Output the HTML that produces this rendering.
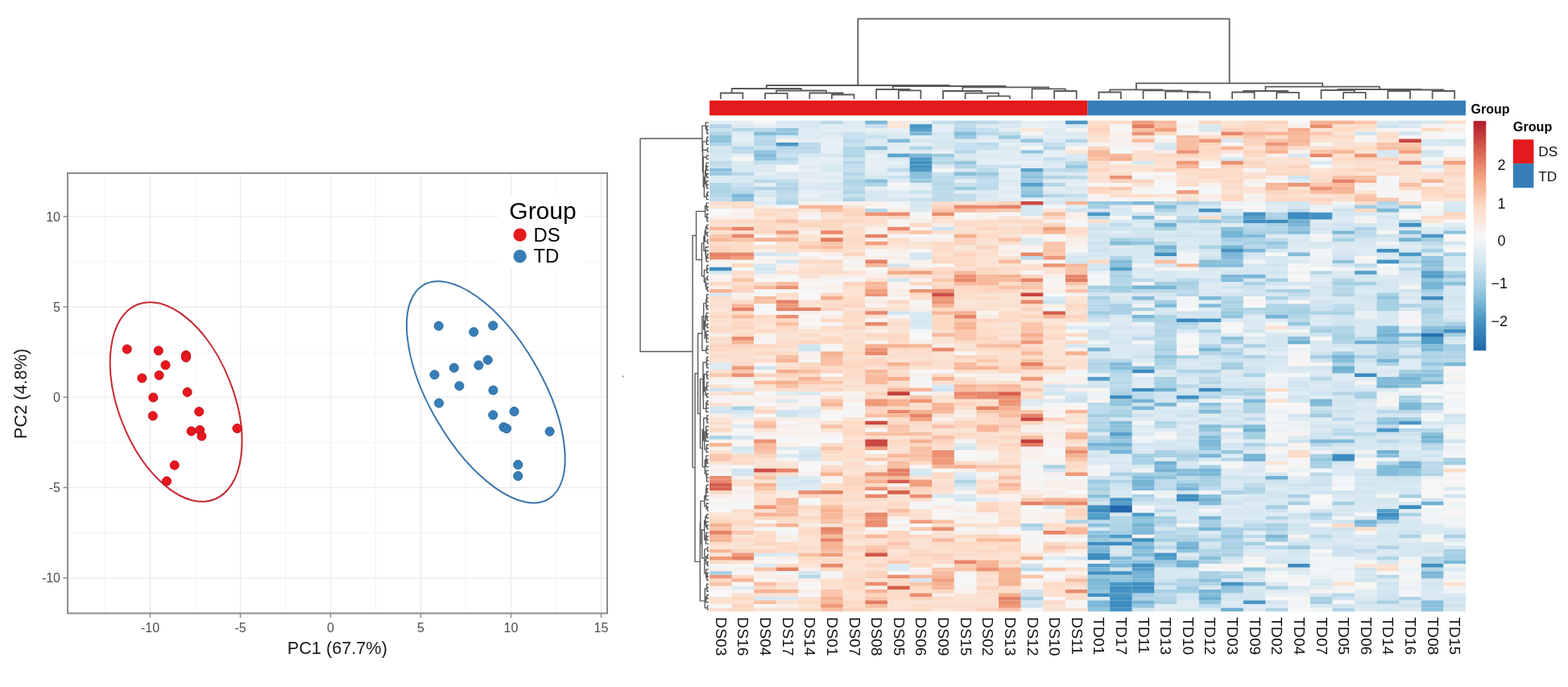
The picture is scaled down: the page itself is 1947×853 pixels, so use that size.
<!DOCTYPE html><html><head><meta charset="utf-8"><style>html,body{margin:0;padding:0;background:#fff;}svg{display:block;}text{font-family:'Liberation Sans', Arial, Helvetica, sans-serif;}</style></head><body><svg width="1947" height="853" viewBox="0 0 1947 853"><rect width="1947" height="853" fill="#fff"/><line x1="130.5" y1="215" x2="130.5" y2="761.5" stroke="#f4f4f4" stroke-width="1"/><line x1="242.5" y1="215" x2="242.5" y2="761.5" stroke="#f4f4f4" stroke-width="1"/><line x1="354.5" y1="215" x2="354.5" y2="761.5" stroke="#f4f4f4" stroke-width="1"/><line x1="466.5" y1="215" x2="466.5" y2="761.5" stroke="#f4f4f4" stroke-width="1"/><line x1="578.5" y1="215" x2="578.5" y2="761.5" stroke="#f4f4f4" stroke-width="1"/><line x1="690.5" y1="215" x2="690.5" y2="761.5" stroke="#f4f4f4" stroke-width="1"/><line x1="84" y1="661.5" x2="754" y2="661.5" stroke="#f4f4f4" stroke-width="1"/><line x1="84" y1="549.3" x2="754" y2="549.3" stroke="#f4f4f4" stroke-width="1"/><line x1="84" y1="437.1" x2="754" y2="437.1" stroke="#f4f4f4" stroke-width="1"/><line x1="84" y1="324.9" x2="754" y2="324.9" stroke="#f4f4f4" stroke-width="1"/><line x1="186.5" y1="215" x2="186.5" y2="761.5" stroke="#ebebeb" stroke-width="1.3"/><line x1="298.5" y1="215" x2="298.5" y2="761.5" stroke="#ebebeb" stroke-width="1.3"/><line x1="410.5" y1="215" x2="410.5" y2="761.5" stroke="#ebebeb" stroke-width="1.3"/><line x1="522.5" y1="215" x2="522.5" y2="761.5" stroke="#ebebeb" stroke-width="1.3"/><line x1="634.5" y1="215" x2="634.5" y2="761.5" stroke="#ebebeb" stroke-width="1.3"/><line x1="746.5" y1="215" x2="746.5" y2="761.5" stroke="#ebebeb" stroke-width="1.3"/><line x1="84" y1="717.6" x2="754" y2="717.6" stroke="#ebebeb" stroke-width="1.3"/><line x1="84" y1="605.4" x2="754" y2="605.4" stroke="#ebebeb" stroke-width="1.3"/><line x1="84" y1="493.2" x2="754" y2="493.2" stroke="#ebebeb" stroke-width="1.3"/><line x1="84" y1="381.0" x2="754" y2="381.0" stroke="#ebebeb" stroke-width="1.3"/><line x1="84" y1="268.8" x2="754" y2="268.8" stroke="#ebebeb" stroke-width="1.3"/><ellipse cx="218.6" cy="499.0" rx="130.1" ry="71.5" transform="rotate(68.5 218.6 499.0)" fill="none" stroke="#c62a37" stroke-width="2"/><ellipse cx="603.3" cy="486.8" rx="153.9" ry="70.2" transform="rotate(59.8 603.3 486.8)" fill="none" stroke="#3a75aa" stroke-width="2"/><circle cx="157.7" cy="433.5" r="5.55" fill="#e8161d" stroke="#b9171d" stroke-width="1"/><circle cx="196.8" cy="435.4" r="5.55" fill="#e8161d" stroke="#b9171d" stroke-width="1"/><circle cx="231.0" cy="441.0" r="5.55" fill="#e8161d" stroke="#b9171d" stroke-width="1"/><circle cx="231.0" cy="443.8" r="5.55" fill="#e8161d" stroke="#b9171d" stroke-width="1"/><circle cx="205.5" cy="453.3" r="5.55" fill="#e8161d" stroke="#b9171d" stroke-width="1"/><circle cx="197.6" cy="466" r="5.55" fill="#e8161d" stroke="#b9171d" stroke-width="1"/><circle cx="176.4" cy="469.5" r="5.55" fill="#e8161d" stroke="#b9171d" stroke-width="1"/><circle cx="232.6" cy="486.9" r="5.55" fill="#e8161d" stroke="#b9171d" stroke-width="1"/><circle cx="190.3" cy="493.5" r="5.55" fill="#e8161d" stroke="#b9171d" stroke-width="1"/><circle cx="189.8" cy="516.4" r="5.55" fill="#e8161d" stroke="#b9171d" stroke-width="1"/><circle cx="247.2" cy="511.1" r="5.55" fill="#e8161d" stroke="#b9171d" stroke-width="1"/><circle cx="237.6" cy="535.4" r="5.55" fill="#e8161d" stroke="#b9171d" stroke-width="1"/><circle cx="248.1" cy="534" r="5.55" fill="#e8161d" stroke="#b9171d" stroke-width="1"/><circle cx="250.4" cy="541.5" r="5.55" fill="#e8161d" stroke="#b9171d" stroke-width="1"/><circle cx="294.4" cy="531.9" r="5.55" fill="#e8161d" stroke="#b9171d" stroke-width="1"/><circle cx="216.7" cy="577.6" r="5.55" fill="#e8161d" stroke="#b9171d" stroke-width="1"/><circle cx="207" cy="597.4" r="5.55" fill="#e8161d" stroke="#b9171d" stroke-width="1"/><circle cx="544.7" cy="404.7" r="5.55" fill="#377eb8" stroke="#2d6aa0" stroke-width="1"/><circle cx="588.2" cy="412.2" r="5.55" fill="#377eb8" stroke="#2d6aa0" stroke-width="1"/><circle cx="612.2" cy="404.3" r="5.55" fill="#377eb8" stroke="#2d6aa0" stroke-width="1"/><circle cx="605.7" cy="446.9" r="5.55" fill="#377eb8" stroke="#2d6aa0" stroke-width="1"/><circle cx="594.4" cy="453.5" r="5.55" fill="#377eb8" stroke="#2d6aa0" stroke-width="1"/><circle cx="563.8" cy="456.7" r="5.55" fill="#377eb8" stroke="#2d6aa0" stroke-width="1"/><circle cx="539.5" cy="465.3" r="5.55" fill="#377eb8" stroke="#2d6aa0" stroke-width="1"/><circle cx="570.4" cy="479.2" r="5.55" fill="#377eb8" stroke="#2d6aa0" stroke-width="1"/><circle cx="612.4" cy="484.5" r="5.55" fill="#377eb8" stroke="#2d6aa0" stroke-width="1"/><circle cx="545.0" cy="500.5" r="5.55" fill="#377eb8" stroke="#2d6aa0" stroke-width="1"/><circle cx="612.2" cy="515.3" r="5.55" fill="#377eb8" stroke="#2d6aa0" stroke-width="1"/><circle cx="638.5" cy="510.9" r="5.55" fill="#377eb8" stroke="#2d6aa0" stroke-width="1"/><circle cx="625.4" cy="530.3" r="5.55" fill="#377eb8" stroke="#2d6aa0" stroke-width="1"/><circle cx="629.1" cy="532.1" r="5.55" fill="#377eb8" stroke="#2d6aa0" stroke-width="1"/><circle cx="682.6" cy="535.7" r="5.55" fill="#377eb8" stroke="#2d6aa0" stroke-width="1"/><circle cx="643.2" cy="577" r="5.55" fill="#377eb8" stroke="#2d6aa0" stroke-width="1"/><circle cx="643.2" cy="591" r="5.55" fill="#377eb8" stroke="#2d6aa0" stroke-width="1"/><rect x="84" y="215" width="670" height="546.5" fill="none" stroke="#8c8c8c" stroke-width="2"/><line x1="78.5" y1="717.6" x2="84" y2="717.6" stroke="#8c8c8c" stroke-width="1.5"/><text x="75" y="723.4" font-size="16" fill="#4d4d4d" text-anchor="end">-10</text><line x1="78.5" y1="605.4" x2="84" y2="605.4" stroke="#8c8c8c" stroke-width="1.5"/><text x="75" y="611.2" font-size="16" fill="#4d4d4d" text-anchor="end">-5</text><line x1="78.5" y1="493.2" x2="84" y2="493.2" stroke="#8c8c8c" stroke-width="1.5"/><text x="75" y="499.0" font-size="16" fill="#4d4d4d" text-anchor="end">0</text><line x1="78.5" y1="381.0" x2="84" y2="381.0" stroke="#8c8c8c" stroke-width="1.5"/><text x="75" y="386.8" font-size="16" fill="#4d4d4d" text-anchor="end">5</text><line x1="78.5" y1="268.8" x2="84" y2="268.8" stroke="#8c8c8c" stroke-width="1.5"/><text x="75" y="274.6" font-size="16" fill="#4d4d4d" text-anchor="end">10</text><line x1="186.5" y1="761.5" x2="186.5" y2="767.0" stroke="#8c8c8c" stroke-width="1.5"/><text x="186.5" y="784.5" font-size="16" fill="#4d4d4d" text-anchor="middle">-10</text><line x1="298.5" y1="761.5" x2="298.5" y2="767.0" stroke="#8c8c8c" stroke-width="1.5"/><text x="298.5" y="784.5" font-size="16" fill="#4d4d4d" text-anchor="middle">-5</text><line x1="410.5" y1="761.5" x2="410.5" y2="767.0" stroke="#8c8c8c" stroke-width="1.5"/><text x="410.5" y="784.5" font-size="16" fill="#4d4d4d" text-anchor="middle">0</text><line x1="522.5" y1="761.5" x2="522.5" y2="767.0" stroke="#8c8c8c" stroke-width="1.5"/><text x="522.5" y="784.5" font-size="16" fill="#4d4d4d" text-anchor="middle">5</text><line x1="634.5" y1="761.5" x2="634.5" y2="767.0" stroke="#8c8c8c" stroke-width="1.5"/><text x="634.5" y="784.5" font-size="16" fill="#4d4d4d" text-anchor="middle">10</text><line x1="746.5" y1="761.5" x2="746.5" y2="767.0" stroke="#8c8c8c" stroke-width="1.5"/><text x="746.5" y="784.5" font-size="16" fill="#4d4d4d" text-anchor="middle">15</text><text x="418.8" y="812.3" font-size="21.7" fill="#1a1a1a" text-anchor="middle">PC1 (67.7%)</text><text transform="translate(33.2 488.9) rotate(-90)" font-size="21.7" fill="#1a1a1a" text-anchor="middle">PC2 (4.8%)</text><rect x="618" y="242" width="107" height="92" fill="#fff"/><text x="632.3" y="271.7" font-size="30" fill="#000">Group</text><circle cx="645.6" cy="291.6" r="8.2" fill="#e41a1c"/><circle cx="645.6" cy="318.3" r="8.2" fill="#377eb8"/><text x="662.5" y="299.8" font-size="23.8" fill="#000">DS</text><text x="662.5" y="326.2" font-size="23.8" fill="#000">TD</text><circle cx="773.7" cy="467.5" r="1.3" fill="#b0b0b0"/><defs><filter id="bl" x="0" y="0" width="1" height="1"><feGaussianBlur stdDeviation="0.7"/></filter></defs><g filter="url(#bl)"><rect x="881" y="149.8" width="939" height="609.4" fill="#f0f0f0"/><path fill="#e4eef4" d="M881.0 149.8H908.6V154.3H881.0zM908.6 149.8H936.2V154.3H908.6zM908.6 168.0H936.2V172.5H908.6zM908.6 190.7H936.2V195.3H908.6zM936.2 154.3H963.9V158.9H936.2zM936.2 213.5H963.9V218.0H936.2zM936.2 227.1H963.9V231.7H936.2zM991.5 172.5H1019.1V177.1H991.5zM991.5 222.6H1019.1V227.1H991.5zM991.5 236.2H1019.1V240.8H991.5zM1019.1 186.2H1046.7V190.7H1019.1zM1019.1 213.5H1046.7V218.0H1019.1zM1019.1 222.6H1046.7V227.1H1019.1zM1019.1 236.2H1046.7V240.8H1019.1zM1074.3 195.3H1101.9V199.8H1074.3zM1074.3 204.4H1101.9V213.5H1074.3zM1101.9 181.6H1129.6V190.7H1101.9zM1101.9 199.8H1129.6V204.4H1101.9zM1101.9 213.5H1129.6V218.0H1101.9zM1101.9 240.8H1129.6V245.3H1101.9zM1157.2 154.3H1184.8V163.4H1157.2zM1184.8 222.6H1212.4V227.1H1184.8zM1212.4 172.5H1240.0V177.1H1212.4zM1212.4 186.2H1240.0V190.7H1212.4zM1212.4 199.8H1240.0V204.4H1212.4zM1240.0 158.9H1267.6V163.4H1240.0zM1240.0 177.1H1267.6V181.6H1240.0zM1240.0 218.0H1267.6V222.6H1240.0zM1240.0 231.7H1267.6V236.2H1240.0zM1267.6 204.4H1295.3V208.9H1267.6zM1267.6 245.3H1295.3V249.9H1267.6zM1295.3 149.8H1322.9V154.3H1295.3zM1295.3 168.0H1322.9V172.5H1295.3zM1295.3 186.2H1322.9V190.7H1295.3zM1295.3 231.7H1322.9V236.2H1295.3zM1322.9 227.1H1350.5V231.7H1322.9z"/><path fill="#b4d6e8" d="M881.0 154.3H908.6V158.9H881.0zM881.0 163.4H908.6V168.0H881.0zM881.0 227.1H908.6V231.7H881.0zM881.0 240.8H908.6V245.3H881.0zM908.6 158.9H936.2V163.4H908.6zM908.6 181.6H936.2V186.2H908.6zM908.6 213.5H936.2V218.0H908.6zM908.6 236.2H936.2V240.8H908.6zM936.2 172.5H963.9V181.6H936.2zM963.9 181.6H991.5V186.2H963.9zM963.9 195.3H991.5V199.8H963.9zM963.9 227.1H991.5V231.7H963.9zM991.5 713.7H1019.1V718.3H991.5zM1046.7 181.6H1074.3V190.7H1046.7zM1046.7 199.8H1074.3V204.4H1046.7zM1046.7 213.5H1074.3V218.0H1046.7zM1046.7 227.1H1074.3V231.7H1046.7zM1074.3 258.9H1101.9V263.5H1074.3zM1157.2 199.8H1184.8V204.4H1157.2zM1157.2 227.1H1184.8V231.7H1157.2zM1184.8 149.8H1212.4V154.3H1184.8zM1184.8 158.9H1212.4V163.4H1184.8zM1184.8 186.2H1212.4V190.7H1184.8zM1184.8 204.4H1212.4V208.9H1184.8zM1212.4 218.0H1240.0V222.6H1212.4zM1295.3 181.6H1322.9V186.2H1295.3zM1295.3 227.1H1322.9V231.7H1295.3zM1295.3 240.8H1322.9V245.3H1295.3zM1350.5 377.2H1378.1V381.7H1350.5zM1350.5 454.5H1378.1V459.0H1350.5zM1350.5 527.3H1378.1V531.8H1350.5zM1378.1 336.3H1405.7V340.8H1378.1zM1378.1 345.4H1405.7V349.9H1378.1zM1378.1 472.7H1405.7V477.2H1378.1zM1378.1 481.8H1405.7V486.3H1378.1zM1378.1 595.5H1405.7V600.0H1378.1zM1378.1 641.0H1405.7V650.1H1378.1zM1405.7 691.0H1433.4V695.5H1405.7zM1433.4 249.9H1461.0V254.4H1433.4zM1433.4 399.9H1461.0V404.5H1433.4zM1433.4 413.6H1461.0V418.1H1433.4zM1433.4 422.7H1461.0V427.2H1433.4zM1433.4 436.3H1461.0V440.9H1433.4zM1433.4 659.1H1461.0V663.7H1433.4zM1433.4 722.8H1461.0V727.4H1433.4zM1461.0 363.5H1488.6V368.1H1461.0zM1461.0 495.4H1488.6V500.0H1461.0zM1461.0 722.8H1488.6V727.4H1461.0zM1488.6 436.3H1516.2V440.9H1488.6zM1488.6 472.7H1516.2V477.2H1488.6zM1488.6 686.4H1516.2V691.0H1488.6zM1516.2 299.9H1543.8V304.4H1516.2zM1516.2 368.1H1543.8V372.6H1516.2zM1516.2 486.3H1543.8V490.9H1516.2zM1516.2 568.2H1543.8V572.7H1516.2zM1516.2 681.9H1543.8V686.4H1516.2zM1543.8 281.7H1571.4V286.2H1543.8zM1543.8 481.8H1571.4V486.3H1543.8zM1543.8 609.1H1571.4V613.7H1543.8zM1571.4 281.7H1599.1V286.2H1571.4zM1571.4 677.3H1599.1V681.9H1571.4zM1626.7 336.3H1654.3V340.8H1626.7zM1626.7 404.5H1654.3V409.0H1626.7zM1626.7 550.0H1654.3V554.6H1626.7zM1654.3 345.4H1681.9V349.9H1654.3zM1654.3 409.0H1681.9V413.6H1654.3zM1654.3 486.3H1681.9V490.9H1654.3zM1654.3 536.4H1681.9V540.9H1654.3zM1709.5 436.3H1737.1V440.9H1709.5zM1737.1 331.7H1764.8V336.3H1737.1zM1737.1 531.8H1764.8V536.4H1737.1zM1764.8 363.5H1792.4V368.1H1764.8zM1764.8 377.2H1792.4V381.7H1764.8zM1764.8 436.3H1792.4V440.9H1764.8zM1764.8 445.4H1792.4V450.0H1764.8zM1764.8 504.5H1792.4V509.1H1764.8zM1764.8 550.0H1792.4V554.6H1764.8zM1764.8 704.6H1792.4V709.2H1764.8zM1792.4 436.3H1820.0V440.9H1792.4z"/><path fill="#c8e1ee" d="M881.0 158.9H908.6V163.4H881.0zM881.0 204.4H908.6V208.9H881.0zM908.6 227.1H936.2V231.7H908.6zM936.2 181.6H963.9V186.2H936.2zM963.9 190.7H991.5V195.3H963.9zM1046.7 163.4H1074.3V172.5H1046.7zM1046.7 177.1H1074.3V181.6H1046.7zM1046.7 195.3H1074.3V199.8H1046.7zM1046.7 208.9H1074.3V213.5H1046.7zM1046.7 240.8H1074.3V245.3H1046.7zM1074.3 154.3H1101.9V158.9H1074.3zM1074.3 168.0H1101.9V172.5H1074.3zM1101.9 218.0H1129.6V222.6H1101.9zM1129.6 236.2H1157.2V240.8H1129.6zM1129.6 245.3H1157.2V249.9H1129.6zM1157.2 213.5H1184.8V218.0H1157.2zM1184.8 177.1H1212.4V186.2H1184.8zM1184.8 227.1H1212.4V231.7H1184.8zM1212.4 204.4H1240.0V208.9H1212.4zM1240.0 163.4H1267.6V168.0H1240.0zM1240.0 204.4H1267.6V208.9H1240.0z"/><path fill="#90c4dd" d="M881.0 168.0H908.6V177.1H881.0zM936.2 186.2H963.9V190.7H936.2zM936.2 195.3H963.9V199.8H936.2zM963.9 163.4H991.5V168.0H963.9zM1267.6 186.2H1295.3V190.7H1267.6zM1267.6 236.2H1295.3V240.8H1267.6zM1350.5 554.6H1378.1V559.1H1350.5zM1350.5 659.1H1378.1V663.7H1350.5zM1350.5 754.7H1378.1V759.2H1350.5zM1378.1 500.0H1405.7V504.5H1378.1zM1378.1 531.8H1405.7V536.4H1378.1zM1378.1 718.3H1405.7V722.8H1378.1zM1405.7 299.9H1433.4V304.4H1405.7zM1405.7 645.5H1433.4V650.1H1405.7zM1405.7 681.9H1433.4V686.4H1405.7zM1433.4 309.0H1461.0V313.5H1433.4zM1433.4 440.9H1461.0V445.4H1433.4zM1433.4 590.9H1461.0V595.5H1433.4zM1461.0 681.9H1488.6V686.4H1461.0zM1488.6 531.8H1516.2V536.4H1488.6zM1488.6 745.6H1516.2V750.1H1488.6zM1516.2 322.6H1543.8V327.2H1516.2zM1516.2 390.8H1543.8V395.4H1516.2zM1516.2 727.4H1543.8V731.9H1516.2zM1626.7 568.2H1654.3V572.7H1626.7zM1654.3 322.6H1681.9V327.2H1654.3zM1709.5 368.1H1737.1V372.6H1709.5zM1737.1 254.4H1764.8V258.9H1737.1zM1737.1 581.8H1764.8V590.9H1737.1zM1764.8 318.1H1792.4V322.6H1764.8zM1764.8 345.4H1792.4V349.9H1764.8zM1764.8 754.7H1792.4V759.2H1764.8zM1792.4 340.8H1820.0V345.4H1792.4z"/><path fill="#afd4e6" d="M881.0 177.1H908.6V181.6H881.0zM881.0 231.7H908.6V240.8H881.0zM936.2 231.7H963.9V236.2H936.2zM963.9 231.7H991.5V236.2H963.9zM963.9 249.9H991.5V254.4H963.9zM1046.7 190.7H1074.3V195.3H1046.7zM1046.7 222.6H1074.3V227.1H1046.7zM1046.7 236.2H1074.3V240.8H1046.7zM1046.7 245.3H1074.3V249.9H1046.7zM1074.3 227.1H1101.9V231.7H1074.3zM1129.6 181.6H1157.2V186.2H1129.6zM1184.8 595.5H1212.4V600.0H1184.8zM1295.3 218.0H1322.9V222.6H1295.3zM1322.9 172.5H1350.5V177.1H1322.9zM1350.5 450.0H1378.1V454.5H1350.5zM1350.5 522.7H1378.1V527.3H1350.5zM1350.5 600.0H1378.1V604.6H1350.5zM1378.1 318.1H1405.7V322.6H1378.1zM1378.1 650.1H1405.7V659.1H1378.1zM1378.1 668.2H1405.7V672.8H1378.1zM1405.7 295.3H1433.4V299.9H1405.7zM1405.7 395.4H1433.4V399.9H1405.7zM1405.7 741.0H1433.4V745.6H1405.7zM1433.4 390.8H1461.0V399.9H1433.4zM1433.4 409.0H1461.0V413.6H1433.4zM1433.4 427.2H1461.0V431.8H1433.4zM1433.4 450.0H1461.0V454.5H1433.4zM1433.4 522.7H1461.0V527.3H1433.4zM1433.4 741.0H1461.0V745.6H1433.4zM1461.0 354.4H1488.6V359.0H1461.0zM1461.0 399.9H1488.6V404.5H1461.0zM1461.0 459.0H1488.6V463.6H1461.0zM1461.0 568.2H1488.6V572.7H1461.0zM1461.0 595.5H1488.6V600.0H1461.0zM1461.0 663.7H1488.6V668.2H1461.0zM1461.0 718.3H1488.6V722.8H1461.0zM1488.6 427.2H1516.2V431.8H1488.6zM1488.6 490.9H1516.2V495.4H1488.6zM1488.6 504.5H1516.2V509.1H1488.6zM1488.6 536.4H1516.2V540.9H1488.6zM1488.6 681.9H1516.2V686.4H1488.6zM1488.6 722.8H1516.2V727.4H1488.6zM1516.2 272.6H1543.8V277.1H1516.2zM1516.2 377.2H1543.8V381.7H1516.2zM1516.2 668.2H1543.8V672.8H1516.2zM1543.8 295.3H1571.4V299.9H1543.8zM1543.8 381.7H1571.4V386.3H1543.8zM1543.8 500.0H1571.4V513.6H1543.8zM1543.8 604.6H1571.4V609.1H1543.8zM1543.8 654.6H1571.4V659.1H1543.8zM1571.4 263.5H1599.1V268.0H1571.4zM1571.4 359.0H1599.1V363.5H1571.4zM1571.4 377.2H1599.1V386.3H1571.4zM1571.4 641.0H1599.1V645.5H1571.4zM1571.4 754.7H1599.1V759.2H1571.4zM1599.1 377.2H1626.7V381.7H1599.1zM1599.1 390.8H1626.7V395.4H1599.1zM1654.3 363.5H1681.9V368.1H1654.3zM1654.3 404.5H1681.9V409.0H1654.3zM1654.3 422.7H1681.9V427.2H1654.3zM1654.3 450.0H1681.9V454.5H1654.3zM1654.3 754.7H1681.9V759.2H1654.3zM1709.5 249.9H1737.1V254.4H1709.5zM1709.5 440.9H1737.1V445.4H1709.5zM1709.5 677.3H1737.1V681.9H1709.5zM1709.5 691.0H1737.1V695.5H1709.5zM1737.1 272.6H1764.8V277.1H1737.1zM1737.1 322.6H1764.8V327.2H1737.1zM1737.1 440.9H1764.8V445.4H1737.1zM1737.1 741.0H1764.8V745.6H1737.1zM1764.8 586.4H1792.4V590.9H1764.8zM1764.8 691.0H1792.4V700.1H1764.8zM1792.4 440.9H1820.0V445.4H1792.4z"/><path fill="#d5e7f1" d="M881.0 181.6H908.6V186.2H881.0zM881.0 336.3H908.6V340.8H881.0zM881.0 504.5H908.6V509.1H881.0zM936.2 240.8H963.9V245.3H936.2zM936.2 327.2H963.9V331.7H936.2zM936.2 741.0H963.9V745.6H936.2zM963.9 322.6H991.5V327.2H963.9zM963.9 590.9H991.5V595.5H963.9zM963.9 600.0H991.5V604.6H963.9zM991.5 149.8H1019.1V154.3H991.5zM991.5 190.7H1019.1V195.3H991.5zM991.5 509.1H1019.1V513.6H991.5zM991.5 559.1H1019.1V563.6H991.5zM991.5 568.2H1019.1V572.7H991.5zM1019.1 227.1H1046.7V231.7H1019.1zM1074.3 218.0H1101.9V222.6H1074.3zM1074.3 240.8H1101.9V245.3H1074.3zM1101.9 245.3H1129.6V249.9H1101.9zM1129.6 172.5H1157.2V177.1H1129.6zM1129.6 249.9H1157.2V258.9H1129.6zM1129.6 313.5H1157.2V322.6H1129.6zM1129.6 390.8H1157.2V395.4H1129.6zM1129.6 399.9H1157.2V404.5H1129.6zM1157.2 163.4H1184.8V168.0H1157.2zM1157.2 172.5H1184.8V177.1H1157.2zM1184.8 590.9H1212.4V595.5H1184.8zM1267.6 254.4H1295.3V258.9H1267.6zM1295.3 581.8H1322.9V586.4H1295.3zM1295.3 627.3H1322.9V631.9H1295.3zM1322.9 318.1H1350.5V322.6H1322.9zM1322.9 427.2H1350.5V431.8H1322.9zM1322.9 477.2H1350.5V481.8H1322.9zM1350.5 258.9H1378.1V263.5H1350.5zM1350.5 295.3H1378.1V299.9H1350.5zM1350.5 313.5H1378.1V318.1H1350.5zM1350.5 327.2H1378.1V331.7H1350.5zM1350.5 436.3H1378.1V440.9H1350.5zM1350.5 559.1H1378.1V563.6H1350.5zM1378.1 309.0H1405.7V318.1H1378.1zM1378.1 572.7H1405.7V577.3H1378.1zM1378.1 581.8H1405.7V586.4H1378.1zM1378.1 613.7H1405.7V618.2H1378.1zM1378.1 677.3H1405.7V681.9H1378.1zM1405.7 304.4H1433.4V309.0H1405.7zM1405.7 313.5H1433.4V318.1H1405.7zM1405.7 322.6H1433.4V327.2H1405.7zM1405.7 413.6H1433.4V418.1H1405.7zM1405.7 436.3H1433.4V440.9H1405.7zM1433.4 327.2H1461.0V331.7H1433.4zM1433.4 336.3H1461.0V349.9H1433.4zM1433.4 381.7H1461.0V386.3H1433.4zM1433.4 495.4H1461.0V500.0H1433.4zM1433.4 509.1H1461.0V513.6H1433.4zM1433.4 554.6H1461.0V559.1H1433.4zM1433.4 654.6H1461.0V659.1H1433.4zM1433.4 709.2H1461.0V718.3H1433.4zM1461.0 277.1H1488.6V281.7H1461.0zM1461.0 286.2H1488.6V290.8H1461.0zM1461.0 304.4H1488.6V309.0H1461.0zM1461.0 390.8H1488.6V395.4H1461.0zM1461.0 481.8H1488.6V486.3H1461.0zM1461.0 536.4H1488.6V540.9H1461.0zM1461.0 545.5H1488.6V550.0H1461.0zM1461.0 713.7H1488.6V718.3H1461.0zM1461.0 736.5H1488.6V741.0H1461.0zM1461.0 754.7H1488.6V759.2H1461.0zM1488.6 254.4H1516.2V258.9H1488.6zM1488.6 299.9H1516.2V304.4H1488.6zM1488.6 309.0H1516.2V313.5H1488.6zM1488.6 331.7H1516.2V336.3H1488.6zM1488.6 363.5H1516.2V368.1H1488.6zM1488.6 399.9H1516.2V404.5H1488.6zM1488.6 422.7H1516.2V427.2H1488.6zM1488.6 454.5H1516.2V459.0H1488.6zM1488.6 522.7H1516.2V527.3H1488.6zM1516.2 472.7H1543.8V481.8H1516.2zM1516.2 554.6H1543.8V559.1H1516.2zM1543.8 327.2H1571.4V340.8H1543.8zM1543.8 595.5H1571.4V600.0H1543.8zM1543.8 636.4H1571.4V641.0H1543.8zM1543.8 731.9H1571.4V741.0H1543.8zM1571.4 309.0H1599.1V313.5H1571.4zM1571.4 363.5H1599.1V368.1H1571.4zM1571.4 422.7H1599.1V427.2H1571.4zM1571.4 431.8H1599.1V436.3H1571.4zM1571.4 445.4H1599.1V450.0H1571.4zM1571.4 586.4H1599.1V590.9H1571.4zM1571.4 600.0H1599.1V604.6H1571.4zM1571.4 622.8H1599.1V627.3H1571.4zM1571.4 645.5H1599.1V650.1H1571.4zM1571.4 691.0H1599.1V695.5H1571.4zM1599.1 454.5H1626.7V459.0H1599.1zM1599.1 495.4H1626.7V500.0H1599.1zM1599.1 513.6H1626.7V518.2H1599.1zM1599.1 604.6H1626.7V609.1H1599.1zM1599.1 618.2H1626.7V622.8H1599.1zM1626.7 199.8H1654.3V204.4H1626.7zM1626.7 299.9H1654.3V304.4H1626.7zM1626.7 359.0H1654.3V368.1H1626.7zM1626.7 631.9H1654.3V636.4H1626.7zM1626.7 677.3H1654.3V681.9H1626.7zM1626.7 722.8H1654.3V727.4H1626.7zM1626.7 736.5H1654.3V741.0H1626.7zM1654.3 263.5H1681.9V268.0H1654.3zM1654.3 395.4H1681.9V399.9H1654.3zM1654.3 481.8H1681.9V486.3H1654.3zM1654.3 490.9H1681.9V495.4H1654.3zM1654.3 663.7H1681.9V668.2H1654.3zM1681.9 345.4H1709.5V349.9H1681.9zM1681.9 363.5H1709.5V368.1H1681.9zM1681.9 372.6H1709.5V377.2H1681.9zM1681.9 381.7H1709.5V386.3H1681.9zM1681.9 404.5H1709.5V409.0H1681.9zM1681.9 413.6H1709.5V418.1H1681.9zM1681.9 427.2H1709.5V431.8H1681.9zM1681.9 481.8H1709.5V486.3H1681.9zM1681.9 504.5H1709.5V509.1H1681.9zM1681.9 545.5H1709.5V550.0H1681.9zM1681.9 590.9H1709.5V600.0H1681.9zM1709.5 186.2H1737.1V190.7H1709.5zM1709.5 354.4H1737.1V363.5H1709.5zM1709.5 513.6H1737.1V518.2H1709.5zM1709.5 595.5H1737.1V600.0H1709.5zM1709.5 604.6H1737.1V609.1H1709.5zM1709.5 627.3H1737.1V631.9H1709.5zM1709.5 650.1H1737.1V654.6H1709.5zM1709.5 727.4H1737.1V731.9H1709.5zM1737.1 299.9H1764.8V304.4H1737.1zM1737.1 309.0H1764.8V313.5H1737.1zM1737.1 336.3H1764.8V340.8H1737.1zM1737.1 368.1H1764.8V372.6H1737.1zM1737.1 381.7H1764.8V386.3H1737.1zM1737.1 404.5H1764.8V409.0H1737.1zM1737.1 436.3H1764.8V440.9H1737.1zM1737.1 513.6H1764.8V518.2H1737.1zM1737.1 559.1H1764.8V568.2H1737.1zM1737.1 604.6H1764.8V609.1H1737.1zM1737.1 645.5H1764.8V650.1H1737.1zM1737.1 681.9H1764.8V686.4H1737.1zM1764.8 172.5H1792.4V177.1H1764.8zM1764.8 522.7H1792.4V527.3H1764.8zM1792.4 177.1H1820.0V181.6H1792.4zM1792.4 254.4H1820.0V263.5H1792.4zM1792.4 318.1H1820.0V331.7H1792.4zM1792.4 363.5H1820.0V368.1H1792.4zM1792.4 372.6H1820.0V377.2H1792.4zM1792.4 522.7H1820.0V527.3H1792.4zM1792.4 736.5H1820.0V741.0H1792.4zM1792.4 745.6H1820.0V750.1H1792.4z"/><path fill="#cee3ef" d="M881.0 186.2H908.6V190.7H881.0zM881.0 481.8H908.6V486.3H881.0zM881.0 509.1H908.6V513.6H881.0zM908.6 581.8H936.2V586.4H908.6zM936.2 454.5H963.9V459.0H936.2zM963.9 509.1H991.5V518.2H963.9zM991.5 431.8H1019.1V436.3H991.5zM991.5 563.6H1019.1V568.2H991.5zM1101.9 327.2H1129.6V331.7H1101.9zM1101.9 386.3H1129.6V390.8H1101.9zM1157.2 281.7H1184.8V286.2H1157.2zM1157.2 481.8H1184.8V486.3H1157.2zM1184.8 600.0H1212.4V604.6H1184.8zM1184.8 618.2H1212.4V622.8H1184.8zM1240.0 149.8H1267.6V154.3H1240.0zM1267.6 700.1H1295.3V704.6H1267.6zM1267.6 731.9H1295.3V741.0H1267.6zM1267.6 750.1H1295.3V754.7H1267.6zM1295.3 372.6H1322.9V377.2H1295.3zM1295.3 477.2H1322.9V481.8H1295.3zM1322.9 258.9H1350.5V263.5H1322.9zM1322.9 490.9H1350.5V500.0H1322.9zM1350.5 281.7H1378.1V286.2H1350.5zM1350.5 290.8H1378.1V295.3H1350.5zM1350.5 299.9H1378.1V304.4H1350.5zM1350.5 309.0H1378.1V313.5H1350.5zM1350.5 395.4H1378.1V399.9H1350.5zM1350.5 409.0H1378.1V422.7H1350.5zM1350.5 477.2H1378.1V481.8H1350.5zM1378.1 372.6H1405.7V377.2H1378.1zM1378.1 590.9H1405.7V595.5H1378.1zM1378.1 600.0H1405.7V604.6H1378.1zM1378.1 704.6H1405.7V709.2H1378.1zM1405.7 281.7H1433.4V286.2H1405.7zM1405.7 290.8H1433.4V295.3H1405.7zM1405.7 440.9H1433.4V445.4H1405.7zM1405.7 500.0H1433.4V504.5H1405.7zM1405.7 513.6H1433.4V518.2H1405.7zM1433.4 263.5H1461.0V268.0H1433.4zM1433.4 490.9H1461.0V495.4H1433.4zM1433.4 618.2H1461.0V627.3H1433.4zM1433.4 718.3H1461.0V722.8H1433.4zM1461.0 254.4H1488.6V258.9H1461.0zM1461.0 290.8H1488.6V295.3H1461.0zM1461.0 386.3H1488.6V390.8H1461.0zM1461.0 463.6H1488.6V468.1H1461.0zM1461.0 486.3H1488.6V490.9H1461.0zM1461.0 513.6H1488.6V518.2H1461.0zM1461.0 691.0H1488.6V695.5H1461.0zM1488.6 281.7H1516.2V286.2H1488.6zM1488.6 318.1H1516.2V322.6H1488.6zM1488.6 345.4H1516.2V349.9H1488.6zM1488.6 386.3H1516.2V390.8H1488.6zM1488.6 463.6H1516.2V468.1H1488.6zM1488.6 477.2H1516.2V481.8H1488.6zM1488.6 518.2H1516.2V522.7H1488.6zM1488.6 663.7H1516.2V668.2H1488.6zM1488.6 677.3H1516.2V681.9H1488.6zM1516.2 263.5H1543.8V268.0H1516.2zM1516.2 354.4H1543.8V359.0H1516.2zM1516.2 445.4H1543.8V450.0H1516.2zM1516.2 509.1H1543.8V513.6H1516.2zM1516.2 590.9H1543.8V595.5H1516.2zM1516.2 622.8H1543.8V627.3H1516.2zM1543.8 354.4H1571.4V359.0H1543.8zM1543.8 363.5H1571.4V368.1H1543.8zM1543.8 409.0H1571.4V413.6H1543.8zM1543.8 454.5H1571.4V463.6H1543.8zM1543.8 490.9H1571.4V495.4H1543.8zM1543.8 554.6H1571.4V559.1H1543.8zM1543.8 645.5H1571.4V650.1H1543.8zM1543.8 709.2H1571.4V713.7H1543.8zM1571.4 327.2H1599.1V331.7H1571.4zM1571.4 595.5H1599.1V600.0H1571.4zM1571.4 613.7H1599.1V618.2H1571.4zM1571.4 631.9H1599.1V636.4H1571.4zM1599.1 218.0H1626.7V222.6H1599.1zM1599.1 477.2H1626.7V481.8H1599.1zM1599.1 545.5H1626.7V550.0H1599.1zM1599.1 600.0H1626.7V604.6H1599.1zM1599.1 636.4H1626.7V641.0H1599.1zM1599.1 650.1H1626.7V654.6H1599.1zM1599.1 672.8H1626.7V677.3H1599.1zM1626.7 377.2H1654.3V386.3H1626.7zM1626.7 413.6H1654.3V418.1H1626.7zM1626.7 436.3H1654.3V440.9H1626.7zM1626.7 445.4H1654.3V450.0H1626.7zM1626.7 486.3H1654.3V490.9H1626.7zM1626.7 504.5H1654.3V509.1H1626.7zM1626.7 540.9H1654.3V545.5H1626.7zM1626.7 590.9H1654.3V604.6H1626.7zM1626.7 609.1H1654.3V613.7H1626.7zM1654.3 258.9H1681.9V263.5H1654.3zM1654.3 277.1H1681.9V281.7H1654.3zM1654.3 290.8H1681.9V295.3H1654.3zM1654.3 318.1H1681.9V322.6H1654.3zM1654.3 390.8H1681.9V395.4H1654.3zM1654.3 399.9H1681.9V404.5H1654.3zM1654.3 477.2H1681.9V481.8H1654.3zM1654.3 509.1H1681.9V513.6H1654.3zM1654.3 550.0H1681.9V554.6H1654.3zM1654.3 645.5H1681.9V650.1H1654.3zM1654.3 654.6H1681.9V659.1H1654.3zM1654.3 677.3H1681.9V691.0H1654.3zM1654.3 741.0H1681.9V745.6H1654.3zM1681.9 445.4H1709.5V450.0H1681.9zM1681.9 522.7H1709.5V527.3H1681.9zM1681.9 540.9H1709.5V545.5H1681.9zM1681.9 586.4H1709.5V590.9H1681.9zM1681.9 704.6H1709.5V709.2H1681.9zM1681.9 718.3H1709.5V722.8H1681.9zM1681.9 745.6H1709.5V750.1H1681.9zM1709.5 154.3H1737.1V158.9H1709.5zM1709.5 290.8H1737.1V295.3H1709.5zM1709.5 536.4H1737.1V540.9H1709.5zM1709.5 590.9H1737.1V595.5H1709.5zM1709.5 722.8H1737.1V727.4H1709.5zM1709.5 736.5H1737.1V745.6H1709.5zM1737.1 149.8H1764.8V154.3H1737.1zM1737.1 290.8H1764.8V295.3H1737.1zM1737.1 359.0H1764.8V363.5H1737.1zM1737.1 536.4H1764.8V540.9H1737.1zM1737.1 545.5H1764.8V550.0H1737.1zM1737.1 568.2H1764.8V572.7H1737.1zM1737.1 590.9H1764.8V595.5H1737.1zM1737.1 659.1H1764.8V663.7H1737.1zM1737.1 750.1H1764.8V754.7H1737.1zM1764.8 186.2H1792.4V190.7H1764.8zM1764.8 304.4H1792.4V309.0H1764.8zM1764.8 563.6H1792.4V568.2H1764.8zM1764.8 618.2H1792.4V622.8H1764.8zM1792.4 395.4H1820.0V399.9H1792.4zM1792.4 513.6H1820.0V518.2H1792.4zM1792.4 613.7H1820.0V618.2H1792.4zM1792.4 750.1H1820.0V754.7H1792.4z"/><path fill="#d8e8f1" d="M881.0 190.7H908.6V195.3H881.0zM908.6 177.1H936.2V181.6H908.6zM908.6 204.4H936.2V208.9H908.6zM908.6 218.0H936.2V227.1H908.6zM936.2 236.2H963.9V240.8H936.2zM936.2 686.4H963.9V691.0H936.2zM963.9 213.5H991.5V218.0H963.9zM963.9 495.4H991.5V500.0H963.9zM963.9 741.0H991.5V745.6H963.9zM991.5 154.3H1019.1V158.9H991.5zM991.5 486.3H1019.1V490.9H991.5zM1019.1 163.4H1046.7V168.0H1019.1zM1019.1 190.7H1046.7V195.3H1019.1zM1019.1 204.4H1046.7V213.5H1019.1zM1019.1 231.7H1046.7V236.2H1019.1zM1019.1 240.8H1046.7V245.3H1019.1zM1074.3 236.2H1101.9V240.8H1074.3zM1074.3 245.3H1101.9V249.9H1074.3zM1129.6 395.4H1157.2V399.9H1129.6zM1129.6 581.8H1157.2V586.4H1129.6zM1157.2 177.1H1184.8V186.2H1157.2zM1157.2 477.2H1184.8V481.8H1157.2zM1157.2 613.7H1184.8V618.2H1157.2zM1184.8 195.3H1212.4V199.8H1184.8zM1184.8 208.9H1212.4V213.5H1184.8zM1184.8 613.7H1212.4V618.2H1184.8zM1212.4 240.8H1240.0V245.3H1212.4zM1240.0 172.5H1267.6V177.1H1240.0zM1240.0 222.6H1267.6V227.1H1240.0zM1267.6 190.7H1295.3V195.3H1267.6zM1267.6 258.9H1295.3V268.0H1267.6zM1295.3 199.8H1322.9V204.4H1295.3zM1295.3 213.5H1322.9V218.0H1295.3zM1295.3 249.9H1322.9V254.4H1295.3zM1295.3 368.1H1322.9V372.6H1295.3zM1322.9 154.3H1350.5V158.9H1322.9zM1322.9 195.3H1350.5V199.8H1322.9zM1322.9 231.7H1350.5V236.2H1322.9zM1322.9 245.3H1350.5V249.9H1322.9zM1322.9 486.3H1350.5V490.9H1322.9zM1350.5 277.1H1378.1V281.7H1350.5zM1350.5 286.2H1378.1V290.8H1350.5zM1350.5 440.9H1378.1V445.4H1350.5zM1350.5 472.7H1378.1V477.2H1350.5zM1350.5 654.6H1378.1V659.1H1350.5zM1350.5 741.0H1378.1V745.6H1350.5zM1378.1 263.5H1405.7V268.0H1378.1zM1378.1 368.1H1405.7V372.6H1378.1zM1378.1 390.8H1405.7V395.4H1378.1zM1378.1 413.6H1405.7V418.1H1378.1zM1378.1 436.3H1405.7V440.9H1378.1zM1378.1 518.2H1405.7V522.7H1378.1zM1378.1 609.1H1405.7V613.7H1378.1zM1378.1 636.4H1405.7V641.0H1378.1zM1378.1 681.9H1405.7V686.4H1378.1zM1405.7 199.8H1433.4V204.4H1405.7zM1405.7 272.6H1433.4V277.1H1405.7zM1405.7 309.0H1433.4V313.5H1405.7zM1405.7 318.1H1433.4V322.6H1405.7zM1405.7 331.7H1433.4V336.3H1405.7zM1405.7 363.5H1433.4V368.1H1405.7zM1405.7 372.6H1433.4V377.2H1405.7zM1405.7 404.5H1433.4V409.0H1405.7zM1405.7 431.8H1433.4V436.3H1405.7zM1405.7 536.4H1433.4V540.9H1405.7zM1405.7 559.1H1433.4V563.6H1405.7zM1433.4 177.1H1461.0V181.6H1433.4zM1433.4 318.1H1461.0V322.6H1433.4zM1433.4 518.2H1461.0V522.7H1433.4zM1433.4 704.6H1461.0V709.2H1433.4zM1461.0 263.5H1488.6V268.0H1461.0zM1461.0 409.0H1488.6V413.6H1461.0zM1461.0 445.4H1488.6V450.0H1461.0zM1461.0 531.8H1488.6V536.4H1461.0zM1461.0 572.7H1488.6V577.3H1461.0zM1488.6 154.3H1516.2V163.4H1488.6zM1488.6 404.5H1516.2V409.0H1488.6zM1488.6 418.1H1516.2V422.7H1488.6zM1488.6 445.4H1516.2V450.0H1488.6zM1488.6 568.2H1516.2V572.7H1488.6zM1488.6 672.8H1516.2V677.3H1488.6zM1488.6 727.4H1516.2V731.9H1488.6zM1516.2 172.5H1543.8V177.1H1516.2zM1516.2 195.3H1543.8V199.8H1516.2zM1516.2 258.9H1543.8V263.5H1516.2zM1516.2 463.6H1543.8V468.1H1516.2zM1516.2 490.9H1543.8V495.4H1516.2zM1516.2 595.5H1543.8V600.0H1516.2zM1516.2 618.2H1543.8V622.8H1516.2zM1516.2 631.9H1543.8V641.0H1516.2zM1516.2 695.5H1543.8V700.1H1516.2zM1543.8 318.1H1571.4V322.6H1543.8zM1543.8 345.4H1571.4V349.9H1543.8zM1543.8 395.4H1571.4V399.9H1543.8zM1543.8 450.0H1571.4V454.5H1543.8zM1543.8 472.7H1571.4V477.2H1543.8zM1543.8 513.6H1571.4V518.2H1543.8zM1543.8 581.8H1571.4V586.4H1543.8zM1543.8 627.3H1571.4V636.4H1543.8zM1543.8 713.7H1571.4V718.3H1543.8zM1571.4 249.9H1599.1V254.4H1571.4zM1571.4 318.1H1599.1V327.2H1571.4zM1571.4 331.7H1599.1V336.3H1571.4zM1571.4 372.6H1599.1V377.2H1571.4zM1571.4 413.6H1599.1V418.1H1571.4zM1571.4 450.0H1599.1V454.5H1571.4zM1571.4 618.2H1599.1V622.8H1571.4zM1599.1 190.7H1626.7V195.3H1599.1zM1599.1 295.3H1626.7V299.9H1599.1zM1599.1 322.6H1626.7V327.2H1599.1zM1599.1 481.8H1626.7V486.3H1599.1zM1599.1 659.1H1626.7V663.7H1599.1zM1599.1 704.6H1626.7V709.2H1599.1zM1599.1 727.4H1626.7V731.9H1599.1zM1626.7 340.8H1654.3V345.4H1626.7zM1626.7 349.9H1654.3V354.4H1626.7zM1626.7 390.8H1654.3V395.4H1626.7zM1626.7 422.7H1654.3V431.8H1626.7zM1626.7 463.6H1654.3V468.1H1626.7zM1626.7 472.7H1654.3V477.2H1626.7zM1626.7 481.8H1654.3V486.3H1626.7zM1626.7 750.1H1654.3V754.7H1626.7zM1654.3 299.9H1681.9V304.4H1654.3zM1654.3 340.8H1681.9V345.4H1654.3zM1654.3 368.1H1681.9V377.2H1654.3zM1654.3 504.5H1681.9V509.1H1654.3zM1654.3 513.6H1681.9V518.2H1654.3zM1654.3 540.9H1681.9V545.5H1654.3zM1654.3 577.3H1681.9V581.8H1654.3zM1654.3 613.7H1681.9V618.2H1654.3zM1654.3 627.3H1681.9V636.4H1654.3zM1654.3 659.1H1681.9V663.7H1654.3zM1681.9 263.5H1709.5V268.0H1681.9zM1681.9 299.9H1709.5V304.4H1681.9zM1681.9 354.4H1709.5V359.0H1681.9zM1681.9 377.2H1709.5V381.7H1681.9zM1681.9 395.4H1709.5V404.5H1681.9zM1681.9 409.0H1709.5V413.6H1681.9zM1681.9 454.5H1709.5V463.6H1681.9zM1681.9 527.3H1709.5V531.8H1681.9zM1681.9 550.0H1709.5V559.1H1681.9zM1681.9 563.6H1709.5V568.2H1681.9zM1681.9 604.6H1709.5V609.1H1681.9zM1681.9 613.7H1709.5V631.9H1681.9zM1681.9 641.0H1709.5V645.5H1681.9zM1681.9 677.3H1709.5V681.9H1681.9zM1681.9 709.2H1709.5V718.3H1681.9zM1681.9 750.1H1709.5V754.7H1681.9zM1709.5 190.7H1737.1V195.3H1709.5zM1709.5 295.3H1737.1V299.9H1709.5zM1709.5 313.5H1737.1V318.1H1709.5zM1709.5 345.4H1737.1V349.9H1709.5zM1709.5 386.3H1737.1V404.5H1709.5zM1709.5 459.0H1737.1V463.6H1709.5zM1709.5 481.8H1737.1V486.3H1709.5zM1709.5 600.0H1737.1V604.6H1709.5zM1709.5 622.8H1737.1V627.3H1709.5zM1709.5 659.1H1737.1V663.7H1709.5zM1709.5 668.2H1737.1V677.3H1709.5zM1709.5 686.4H1737.1V691.0H1709.5zM1709.5 695.5H1737.1V700.1H1709.5zM1709.5 750.1H1737.1V754.7H1709.5zM1737.1 340.8H1764.8V345.4H1737.1zM1737.1 540.9H1764.8V545.5H1737.1zM1737.1 550.0H1764.8V554.6H1737.1zM1737.1 650.1H1764.8V659.1H1737.1zM1737.1 672.8H1764.8V681.9H1737.1zM1737.1 745.6H1764.8V750.1H1737.1zM1764.8 149.8H1792.4V154.3H1764.8zM1764.8 177.1H1792.4V181.6H1764.8zM1764.8 190.7H1792.4V195.3H1764.8zM1764.8 286.2H1792.4V290.8H1764.8zM1764.8 509.1H1792.4V513.6H1764.8zM1764.8 559.1H1792.4V563.6H1764.8zM1764.8 672.8H1792.4V677.3H1764.8zM1764.8 718.3H1792.4V722.8H1764.8zM1764.8 727.4H1792.4V731.9H1764.8zM1764.8 736.5H1792.4V745.6H1764.8zM1792.4 354.4H1820.0V363.5H1792.4zM1792.4 377.2H1820.0V381.7H1792.4zM1792.4 518.2H1820.0V522.7H1792.4zM1792.4 677.3H1820.0V681.9H1792.4zM1792.4 754.7H1820.0V759.2H1792.4z"/><path fill="#dbeaf2" d="M881.0 195.3H908.6V199.8H881.0zM881.0 218.0H908.6V227.1H881.0zM881.0 363.5H908.6V368.1H881.0zM881.0 450.0H908.6V454.5H881.0zM908.6 154.3H936.2V158.9H908.6zM908.6 199.8H936.2V204.4H908.6zM908.6 208.9H936.2V213.5H908.6zM908.6 481.8H936.2V486.3H908.6zM908.6 727.4H936.2V731.9H908.6zM936.2 204.4H963.9V213.5H936.2zM936.2 218.0H963.9V222.6H936.2zM936.2 249.9H963.9V254.4H936.2zM936.2 336.3H963.9V340.8H936.2zM936.2 700.1H963.9V704.6H936.2zM963.9 149.8H991.5V158.9H963.9zM963.9 168.0H991.5V172.5H963.9zM963.9 313.5H991.5V318.1H963.9zM963.9 554.6H991.5V559.1H963.9zM963.9 563.6H991.5V568.2H963.9zM963.9 595.5H991.5V600.0H963.9zM963.9 686.4H991.5V691.0H963.9zM991.5 158.9H1019.1V163.4H991.5zM991.5 227.1H1019.1V236.2H991.5zM991.5 600.0H1019.1V604.6H991.5zM1074.3 163.4H1101.9V168.0H1074.3zM1074.3 177.1H1101.9V181.6H1074.3zM1074.3 186.2H1101.9V190.7H1074.3zM1101.9 168.0H1129.6V172.5H1101.9zM1101.9 195.3H1129.6V199.8H1101.9zM1101.9 204.4H1129.6V208.9H1101.9zM1101.9 236.2H1129.6V240.8H1101.9zM1101.9 700.1H1129.6V709.2H1101.9zM1129.6 258.9H1157.2V263.5H1129.6zM1129.6 386.3H1157.2V390.8H1129.6zM1129.6 404.5H1157.2V409.0H1129.6zM1157.2 168.0H1184.8V172.5H1157.2zM1184.8 172.5H1212.4V177.1H1184.8zM1184.8 190.7H1212.4V195.3H1184.8zM1184.8 586.4H1212.4V590.9H1184.8zM1212.4 168.0H1240.0V172.5H1212.4zM1212.4 190.7H1240.0V195.3H1212.4zM1212.4 236.2H1240.0V240.8H1212.4zM1240.0 154.3H1267.6V158.9H1240.0zM1240.0 181.6H1267.6V186.2H1240.0zM1267.6 177.1H1295.3V181.6H1267.6zM1267.6 295.3H1295.3V299.9H1267.6zM1267.6 495.4H1295.3V500.0H1267.6zM1295.3 172.5H1322.9V177.1H1295.3zM1295.3 236.2H1322.9V240.8H1295.3zM1295.3 495.4H1322.9V500.0H1295.3zM1322.9 190.7H1350.5V195.3H1322.9zM1322.9 213.5H1350.5V218.0H1322.9zM1350.5 318.1H1378.1V322.6H1350.5zM1350.5 404.5H1378.1V409.0H1350.5zM1350.5 427.2H1378.1V431.8H1350.5zM1350.5 536.4H1378.1V540.9H1350.5zM1350.5 568.2H1378.1V577.3H1350.5zM1378.1 272.6H1405.7V277.1H1378.1zM1378.1 399.9H1405.7V404.5H1378.1zM1378.1 409.0H1405.7V413.6H1378.1zM1378.1 418.1H1405.7V422.7H1378.1zM1378.1 427.2H1405.7V436.3H1378.1zM1378.1 440.9H1405.7V445.4H1378.1zM1378.1 563.6H1405.7V568.2H1378.1zM1378.1 577.3H1405.7V581.8H1378.1zM1405.7 336.3H1433.4V340.8H1405.7zM1405.7 427.2H1433.4V431.8H1405.7zM1405.7 468.1H1433.4V477.2H1405.7zM1405.7 518.2H1433.4V522.7H1405.7zM1405.7 527.3H1433.4V531.8H1405.7zM1405.7 554.6H1433.4V559.1H1405.7zM1405.7 577.3H1433.4V581.8H1405.7zM1433.4 286.2H1461.0V290.8H1433.4zM1433.4 368.1H1461.0V372.6H1433.4zM1433.4 459.0H1461.0V468.1H1433.4zM1433.4 504.5H1461.0V509.1H1433.4zM1433.4 513.6H1461.0V518.2H1433.4zM1433.4 545.5H1461.0V550.0H1433.4zM1461.0 295.3H1488.6V304.4H1461.0zM1461.0 468.1H1488.6V477.2H1461.0zM1461.0 550.0H1488.6V554.6H1461.0zM1461.0 631.9H1488.6V641.0H1461.0zM1461.0 709.2H1488.6V713.7H1461.0zM1488.6 313.5H1516.2V318.1H1488.6zM1488.6 340.8H1516.2V345.4H1488.6zM1488.6 349.9H1516.2V354.4H1488.6zM1488.6 359.0H1516.2V363.5H1488.6zM1488.6 636.4H1516.2V641.0H1488.6zM1488.6 659.1H1516.2V663.7H1488.6zM1488.6 754.7H1516.2V759.2H1488.6zM1516.2 331.7H1543.8V336.3H1516.2zM1516.2 349.9H1543.8V354.4H1516.2zM1516.2 395.4H1543.8V399.9H1516.2zM1516.2 413.6H1543.8V418.1H1516.2zM1516.2 468.1H1543.8V472.7H1516.2zM1516.2 518.2H1543.8V522.7H1516.2zM1516.2 563.6H1543.8V568.2H1516.2zM1516.2 586.4H1543.8V590.9H1516.2zM1516.2 600.0H1543.8V604.6H1516.2zM1516.2 650.1H1543.8V654.6H1516.2zM1516.2 718.3H1543.8V722.8H1516.2zM1516.2 750.1H1543.8V754.7H1516.2zM1543.8 399.9H1571.4V409.0H1543.8zM1543.8 418.1H1571.4V422.7H1543.8zM1543.8 559.1H1571.4V563.6H1543.8zM1543.8 613.7H1571.4V618.2H1543.8zM1543.8 641.0H1571.4V645.5H1543.8zM1543.8 681.9H1571.4V686.4H1543.8zM1543.8 727.4H1571.4V731.9H1543.8zM1571.4 340.8H1599.1V345.4H1571.4zM1571.4 454.5H1599.1V459.0H1571.4zM1571.4 704.6H1599.1V709.2H1571.4zM1599.1 290.8H1626.7V295.3H1599.1zM1599.1 299.9H1626.7V304.4H1599.1zM1599.1 404.5H1626.7V409.0H1599.1zM1599.1 413.6H1626.7V418.1H1599.1zM1599.1 459.0H1626.7V463.6H1599.1zM1599.1 468.1H1626.7V472.7H1599.1zM1599.1 595.5H1626.7V600.0H1599.1zM1599.1 609.1H1626.7V613.7H1599.1zM1599.1 668.2H1626.7V672.8H1599.1zM1599.1 691.0H1626.7V695.5H1599.1zM1599.1 709.2H1626.7V713.7H1599.1zM1626.7 277.1H1654.3V281.7H1626.7zM1626.7 286.2H1654.3V290.8H1626.7zM1626.7 304.4H1654.3V309.0H1626.7zM1626.7 395.4H1654.3V404.5H1626.7zM1626.7 431.8H1654.3V436.3H1626.7zM1626.7 459.0H1654.3V463.6H1626.7zM1626.7 522.7H1654.3V527.3H1626.7zM1626.7 554.6H1654.3V559.1H1626.7zM1626.7 604.6H1654.3V609.1H1626.7zM1626.7 645.5H1654.3V650.1H1626.7zM1626.7 672.8H1654.3V677.3H1626.7zM1626.7 718.3H1654.3V722.8H1626.7zM1654.3 272.6H1681.9V277.1H1654.3zM1654.3 309.0H1681.9V313.5H1654.3zM1654.3 336.3H1681.9V340.8H1654.3zM1654.3 554.6H1681.9V559.1H1654.3zM1654.3 581.8H1681.9V590.9H1654.3zM1654.3 618.2H1681.9V622.8H1654.3zM1654.3 672.8H1681.9V677.3H1654.3zM1681.9 304.4H1709.5V309.0H1681.9zM1681.9 313.5H1709.5V318.1H1681.9zM1681.9 359.0H1709.5V363.5H1681.9zM1681.9 450.0H1709.5V454.5H1681.9zM1681.9 509.1H1709.5V518.2H1681.9zM1681.9 631.9H1709.5V636.4H1681.9zM1681.9 686.4H1709.5V695.5H1681.9zM1681.9 741.0H1709.5V745.6H1681.9zM1709.5 149.8H1737.1V154.3H1709.5zM1709.5 277.1H1737.1V281.7H1709.5zM1709.5 463.6H1737.1V468.1H1709.5zM1709.5 540.9H1737.1V545.5H1709.5zM1709.5 554.6H1737.1V559.1H1709.5zM1709.5 654.6H1737.1V659.1H1709.5zM1709.5 681.9H1737.1V686.4H1709.5zM1709.5 718.3H1737.1V722.8H1709.5zM1737.1 154.3H1764.8V158.9H1737.1zM1737.1 281.7H1764.8V286.2H1737.1zM1737.1 345.4H1764.8V349.9H1737.1zM1737.1 431.8H1764.8V436.3H1737.1zM1737.1 445.4H1764.8V450.0H1737.1zM1737.1 600.0H1764.8V604.6H1737.1zM1737.1 622.8H1764.8V627.3H1737.1zM1764.8 281.7H1792.4V286.2H1764.8zM1764.8 490.9H1792.4V495.4H1764.8zM1764.8 650.1H1792.4V663.7H1764.8zM1764.8 731.9H1792.4V736.5H1764.8zM1792.4 249.9H1820.0V254.4H1792.4zM1792.4 390.8H1820.0V395.4H1792.4zM1792.4 422.7H1820.0V427.2H1792.4zM1792.4 604.6H1820.0V609.1H1792.4zM1792.4 654.6H1820.0V659.1H1792.4zM1792.4 704.6H1820.0V709.2H1792.4z"/><path fill="#bedbeb" d="M881.0 199.8H908.6V204.4H881.0zM881.0 245.3H908.6V249.9H881.0zM908.6 186.2H936.2V190.7H908.6zM908.6 231.7H936.2V236.2H908.6zM963.9 186.2H991.5V190.7H963.9zM991.5 177.1H1019.1V181.6H991.5zM991.5 186.2H1019.1V190.7H991.5zM1046.7 231.7H1074.3V236.2H1046.7zM1101.9 208.9H1129.6V213.5H1101.9zM1157.2 195.3H1184.8V199.8H1157.2zM1157.2 218.0H1184.8V227.1H1157.2zM1157.2 236.2H1184.8V245.3H1157.2zM1184.8 154.3H1212.4V158.9H1184.8zM1184.8 218.0H1212.4V222.6H1184.8zM1184.8 240.8H1212.4V245.3H1184.8zM1212.4 208.9H1240.0V213.5H1212.4zM1212.4 227.1H1240.0V236.2H1212.4zM1267.6 654.6H1295.3V659.1H1267.6zM1267.6 704.6H1295.3V709.2H1267.6zM1295.3 208.9H1322.9V213.5H1295.3zM1350.5 268.0H1378.1V272.6H1350.5zM1350.5 390.8H1378.1V395.4H1350.5zM1350.5 445.4H1378.1V450.0H1350.5zM1350.5 504.5H1378.1V513.6H1350.5zM1350.5 618.2H1378.1V622.8H1350.5zM1350.5 645.5H1378.1V650.1H1350.5zM1378.1 277.1H1405.7V281.7H1378.1zM1378.1 468.1H1405.7V472.7H1378.1zM1378.1 477.2H1405.7V481.8H1378.1zM1405.7 418.1H1433.4V422.7H1405.7zM1405.7 486.3H1433.4V495.4H1405.7zM1433.4 272.6H1461.0V277.1H1433.4zM1433.4 418.1H1461.0V422.7H1433.4zM1433.4 595.5H1461.0V604.6H1433.4zM1433.4 631.9H1461.0V636.4H1433.4zM1461.0 404.5H1488.6V409.0H1461.0zM1461.0 559.1H1488.6V563.6H1461.0zM1461.0 590.9H1488.6V595.5H1461.0zM1461.0 659.1H1488.6V663.7H1461.0zM1488.6 249.9H1516.2V254.4H1488.6zM1488.6 468.1H1516.2V472.7H1488.6zM1488.6 486.3H1516.2V490.9H1488.6zM1488.6 559.1H1516.2V563.6H1488.6zM1488.6 604.6H1516.2V609.1H1488.6zM1488.6 750.1H1516.2V754.7H1488.6zM1516.2 440.9H1543.8V445.4H1516.2zM1543.8 518.2H1571.4V522.7H1543.8zM1543.8 600.0H1571.4V604.6H1543.8zM1543.8 663.7H1571.4V668.2H1543.8zM1571.4 295.3H1599.1V299.9H1571.4zM1571.4 659.1H1599.1V663.7H1571.4zM1599.1 258.9H1626.7V263.5H1599.1zM1599.1 363.5H1626.7V368.1H1599.1zM1626.7 509.1H1654.3V513.6H1626.7zM1654.3 377.2H1681.9V381.7H1654.3zM1654.3 518.2H1681.9V522.7H1654.3zM1654.3 531.8H1681.9V536.4H1654.3zM1681.9 286.2H1709.5V295.3H1681.9zM1681.9 681.9H1709.5V686.4H1681.9zM1709.5 254.4H1737.1V258.9H1709.5zM1709.5 527.3H1737.1V531.8H1709.5zM1737.1 318.1H1764.8V322.6H1737.1zM1764.8 299.9H1792.4V304.4H1764.8zM1764.8 372.6H1792.4V377.2H1764.8zM1764.8 577.3H1792.4V581.8H1764.8z"/><path fill="#8ac0db" d="M881.0 208.9H908.6V213.5H881.0zM908.6 245.3H936.2V249.9H908.6zM1074.3 181.6H1101.9V186.2H1074.3zM1074.3 222.6H1101.9V227.1H1074.3zM1129.6 213.5H1157.2V222.6H1129.6zM1184.8 213.5H1212.4V218.0H1184.8zM1267.6 218.0H1295.3V222.6H1267.6zM1350.5 613.7H1378.1V618.2H1350.5zM1350.5 650.1H1378.1V654.6H1350.5zM1378.1 327.2H1405.7V331.7H1378.1zM1378.1 454.5H1405.7V459.0H1378.1zM1378.1 527.3H1405.7V531.8H1378.1zM1405.7 641.0H1433.4V645.5H1405.7zM1405.7 672.8H1433.4V677.3H1405.7zM1405.7 695.5H1433.4V700.1H1405.7zM1461.0 581.8H1488.6V586.4H1461.0zM1461.0 600.0H1488.6V604.6H1461.0zM1488.6 322.6H1516.2V327.2H1488.6zM1488.6 500.0H1516.2V504.5H1488.6zM1488.6 554.6H1516.2V559.1H1488.6zM1488.6 613.7H1516.2V618.2H1488.6zM1488.6 691.0H1516.2V695.5H1488.6zM1488.6 718.3H1516.2V722.8H1488.6zM1516.2 281.7H1543.8V286.2H1516.2zM1516.2 418.1H1543.8V422.7H1516.2zM1599.1 418.1H1626.7V422.7H1599.1zM1681.9 650.1H1709.5V654.6H1681.9zM1709.5 418.1H1737.1V422.7H1709.5zM1709.5 522.7H1737.1V527.3H1709.5zM1709.5 563.6H1737.1V568.2H1709.5zM1737.1 463.6H1764.8V468.1H1737.1zM1737.1 477.2H1764.8V481.8H1737.1zM1764.8 327.2H1792.4V331.7H1764.8zM1764.8 404.5H1792.4V409.0H1764.8zM1764.8 463.6H1792.4V468.1H1764.8zM1764.8 536.4H1792.4V540.9H1764.8zM1764.8 745.6H1792.4V754.7H1764.8zM1792.4 286.2H1820.0V290.8H1792.4zM1792.4 349.9H1820.0V354.4H1792.4z"/><path fill="#9bc9e0" d="M881.0 213.5H908.6V218.0H881.0zM1129.6 222.6H1157.2V227.1H1129.6zM1157.2 190.7H1184.8V195.3H1157.2zM1184.8 168.0H1212.4V172.5H1184.8zM1184.8 231.7H1212.4V236.2H1184.8zM1212.4 213.5H1240.0V218.0H1212.4zM1240.0 168.0H1267.6V172.5H1240.0zM1267.6 213.5H1295.3V218.0H1267.6zM1267.6 231.7H1295.3V236.2H1267.6z"/><path fill="#fcdecd" d="M881.0 249.9H908.6V254.4H881.0zM881.0 368.1H908.6V372.6H881.0zM881.0 418.1H908.6V427.2H881.0zM881.0 500.0H908.6V504.5H881.0zM881.0 522.7H908.6V527.3H881.0zM881.0 754.7H908.6V759.2H881.0zM908.6 249.9H936.2V254.4H908.6zM908.6 286.2H936.2V290.8H908.6zM908.6 349.9H936.2V354.4H908.6zM908.6 440.9H936.2V450.0H908.6zM908.6 568.2H936.2V572.7H908.6zM908.6 631.9H936.2V636.4H908.6zM936.2 258.9H963.9V263.5H936.2zM936.2 304.4H963.9V309.0H936.2zM936.2 395.4H963.9V399.9H936.2zM936.2 518.2H963.9V522.7H936.2zM936.2 622.8H963.9V627.3H936.2zM936.2 659.1H963.9V663.7H936.2zM963.9 281.7H991.5V286.2H963.9zM963.9 299.9H991.5V313.5H963.9zM963.9 409.0H991.5V413.6H963.9zM963.9 586.4H991.5V590.9H963.9zM963.9 645.5H991.5V650.1H963.9zM991.5 272.6H1019.1V277.1H991.5zM991.5 331.7H1019.1V340.8H991.5zM991.5 481.8H1019.1V486.3H991.5zM991.5 663.7H1019.1V668.2H991.5zM991.5 677.3H1019.1V681.9H991.5zM991.5 695.5H1019.1V700.1H991.5zM1019.1 331.7H1046.7V336.3H1019.1zM1019.1 372.6H1046.7V377.2H1019.1zM1019.1 404.5H1046.7V413.6H1019.1zM1019.1 477.2H1046.7V481.8H1019.1zM1019.1 550.0H1046.7V554.6H1019.1zM1019.1 563.6H1046.7V572.7H1019.1zM1046.7 268.0H1074.3V272.6H1046.7zM1046.7 286.2H1074.3V290.8H1046.7zM1046.7 299.9H1074.3V309.0H1046.7zM1046.7 354.4H1074.3V359.0H1046.7zM1046.7 413.6H1074.3V418.1H1046.7zM1046.7 422.7H1074.3V436.3H1046.7zM1046.7 468.1H1074.3V472.7H1046.7zM1046.7 477.2H1074.3V481.8H1046.7zM1046.7 554.6H1074.3V563.6H1046.7zM1046.7 572.7H1074.3V577.3H1046.7zM1046.7 613.7H1074.3V618.2H1046.7zM1046.7 627.3H1074.3V631.9H1046.7zM1046.7 668.2H1074.3V672.8H1046.7zM1046.7 709.2H1074.3V718.3H1046.7zM1046.7 750.1H1074.3V754.7H1046.7zM1074.3 268.0H1101.9V272.6H1074.3zM1074.3 418.1H1101.9V422.7H1074.3zM1074.3 477.2H1101.9V481.8H1074.3zM1074.3 627.3H1101.9V631.9H1074.3zM1074.3 672.8H1101.9V677.3H1074.3zM1074.3 691.0H1101.9V695.5H1074.3zM1101.9 295.3H1129.6V304.4H1101.9zM1101.9 436.3H1129.6V445.4H1101.9zM1101.9 472.7H1129.6V477.2H1101.9zM1101.9 518.2H1129.6V522.7H1101.9zM1101.9 686.4H1129.6V691.0H1101.9zM1101.9 741.0H1129.6V745.6H1101.9zM1101.9 754.7H1129.6V759.2H1101.9zM1129.6 368.1H1157.2V372.6H1129.6zM1129.6 500.0H1157.2V509.1H1129.6zM1129.6 527.3H1157.2V531.8H1129.6zM1129.6 540.9H1157.2V545.5H1129.6zM1129.6 618.2H1157.2V622.8H1129.6zM1129.6 636.4H1157.2V641.0H1129.6zM1129.6 695.5H1157.2V700.1H1129.6zM1129.6 731.9H1157.2V736.5H1129.6zM1157.2 340.8H1184.8V345.4H1157.2zM1157.2 445.4H1184.8V450.0H1157.2zM1157.2 472.7H1184.8V477.2H1157.2zM1157.2 554.6H1184.8V559.1H1157.2zM1157.2 600.0H1184.8V609.1H1157.2zM1157.2 650.1H1184.8V654.6H1157.2zM1157.2 677.3H1184.8V681.9H1157.2zM1184.8 272.6H1212.4V277.1H1184.8zM1184.8 286.2H1212.4V290.8H1184.8zM1184.8 318.1H1212.4V322.6H1184.8zM1184.8 363.5H1212.4V372.6H1184.8zM1184.8 381.7H1212.4V386.3H1184.8zM1184.8 431.8H1212.4V436.3H1184.8zM1184.8 445.4H1212.4V450.0H1184.8zM1184.8 459.0H1212.4V463.6H1184.8zM1184.8 540.9H1212.4V545.5H1184.8zM1184.8 677.3H1212.4V681.9H1184.8zM1184.8 686.4H1212.4V691.0H1184.8zM1184.8 750.1H1212.4V759.2H1184.8zM1212.4 277.1H1240.0V281.7H1212.4zM1212.4 377.2H1240.0V381.7H1212.4zM1212.4 450.0H1240.0V454.5H1212.4zM1212.4 540.9H1240.0V545.5H1212.4zM1212.4 731.9H1240.0V741.0H1212.4zM1212.4 750.1H1240.0V754.7H1212.4zM1240.0 286.2H1267.6V290.8H1240.0zM1240.0 336.3H1267.6V340.8H1240.0zM1240.0 349.9H1267.6V354.4H1240.0zM1240.0 377.2H1267.6V381.7H1240.0zM1240.0 404.5H1267.6V409.0H1240.0zM1240.0 413.6H1267.6V418.1H1240.0zM1240.0 445.4H1267.6V450.0H1240.0zM1240.0 472.7H1267.6V477.2H1240.0zM1240.0 568.2H1267.6V572.7H1240.0zM1240.0 581.8H1267.6V586.4H1240.0zM1240.0 636.4H1267.6V641.0H1240.0zM1240.0 650.1H1267.6V654.6H1240.0zM1240.0 731.9H1267.6V736.5H1240.0zM1267.6 277.1H1295.3V281.7H1267.6zM1267.6 331.7H1295.3V336.3H1267.6zM1267.6 377.2H1295.3V381.7H1267.6zM1267.6 427.2H1295.3V431.8H1267.6zM1295.3 445.4H1322.9V450.0H1295.3zM1295.3 736.5H1322.9V741.0H1295.3zM1322.9 281.7H1350.5V286.2H1322.9zM1322.9 450.0H1350.5V454.5H1322.9zM1322.9 627.3H1350.5V631.9H1322.9zM1322.9 641.0H1350.5V645.5H1322.9zM1322.9 741.0H1350.5V745.6H1322.9zM1350.5 149.8H1378.1V154.3H1350.5zM1350.5 204.4H1378.1V208.9H1350.5zM1350.5 218.0H1378.1V222.6H1350.5zM1378.1 204.4H1405.7V208.9H1378.1zM1378.1 213.5H1405.7V218.0H1378.1zM1378.1 240.8H1405.7V245.3H1378.1zM1433.4 199.8H1461.0V204.4H1433.4zM1461.0 213.5H1488.6V218.0H1461.0zM1461.0 222.6H1488.6V231.7H1461.0zM1461.0 245.3H1488.6V249.9H1461.0zM1488.6 168.0H1516.2V172.5H1488.6zM1488.6 268.0H1516.2V272.6H1488.6zM1516.2 218.0H1543.8V222.6H1516.2zM1516.2 227.1H1543.8V231.7H1516.2zM1543.8 218.0H1571.4V222.6H1543.8zM1599.1 181.6H1626.7V186.2H1599.1zM1626.7 181.6H1654.3V186.2H1626.7zM1626.7 213.5H1654.3V222.6H1626.7zM1626.7 249.9H1654.3V254.4H1626.7zM1654.3 208.9H1681.9V218.0H1654.3zM1654.3 245.3H1681.9V249.9H1654.3zM1681.9 199.8H1709.5V204.4H1681.9zM1709.5 204.4H1737.1V208.9H1709.5zM1709.5 704.6H1737.1V709.2H1709.5zM1737.1 195.3H1764.8V199.8H1737.1zM1764.8 218.0H1792.4V222.6H1764.8zM1792.4 149.8H1820.0V154.3H1792.4zM1792.4 218.0H1820.0V222.6H1792.4zM1792.4 227.1H1820.0V231.7H1792.4z"/><path fill="#fbe5d8" d="M881.0 254.4H908.6V258.9H881.0zM881.0 381.7H908.6V386.3H881.0zM936.2 440.9H963.9V445.4H936.2zM936.2 572.7H963.9V577.3H936.2zM963.9 431.8H991.5V436.3H963.9zM963.9 572.7H991.5V577.3H963.9zM991.5 327.2H1019.1V331.7H991.5zM991.5 636.4H1019.1V641.0H991.5zM1019.1 413.6H1046.7V418.1H1019.1zM1046.7 277.1H1074.3V281.7H1046.7zM1046.7 622.8H1074.3V627.3H1046.7zM1046.7 659.1H1074.3V663.7H1046.7zM1046.7 672.8H1074.3V677.3H1046.7zM1101.9 154.3H1129.6V158.9H1101.9zM1101.9 304.4H1129.6V309.0H1101.9zM1129.6 304.4H1157.2V309.0H1129.6zM1129.6 331.7H1157.2V336.3H1129.6zM1157.2 754.7H1184.8V759.2H1157.2zM1184.8 304.4H1212.4V309.0H1184.8zM1184.8 372.6H1212.4V377.2H1184.8zM1212.4 554.6H1240.0V559.1H1212.4zM1240.0 277.1H1267.6V281.7H1240.0zM1240.0 381.7H1267.6V386.3H1240.0zM1240.0 418.1H1267.6V422.7H1240.0zM1295.3 258.9H1322.9V263.5H1295.3zM1295.3 395.4H1322.9V404.5H1295.3zM1295.3 422.7H1322.9V427.2H1295.3zM1322.9 290.8H1350.5V295.3H1322.9zM1322.9 518.2H1350.5V522.7H1322.9zM1322.9 550.0H1350.5V554.6H1322.9zM1378.1 208.9H1405.7V213.5H1378.1zM1516.2 186.2H1543.8V190.7H1516.2zM1571.4 572.7H1599.1V577.3H1571.4zM1654.3 204.4H1681.9V208.9H1654.3zM1681.9 700.1H1709.5V704.6H1681.9zM1737.1 218.0H1764.8V222.6H1737.1z"/><path fill="#f7f7f7" d="M881.0 258.9H908.6V268.0H881.0zM881.0 618.2H908.6V622.8H881.0zM881.0 631.9H908.6V636.4H881.0zM881.0 731.9H908.6V741.0H881.0zM881.0 750.1H908.6V754.7H881.0zM908.6 331.7H936.2V336.3H908.6zM908.6 577.3H936.2V581.8H908.6zM936.2 299.9H963.9V304.4H936.2zM936.2 345.4H963.9V349.9H936.2zM936.2 381.7H963.9V386.3H936.2zM936.2 486.3H963.9V490.9H936.2zM936.2 513.6H963.9V518.2H936.2zM963.9 522.7H991.5V527.3H963.9zM963.9 559.1H991.5V563.6H963.9zM963.9 654.6H991.5V659.1H963.9zM963.9 695.5H991.5V700.1H963.9zM991.5 313.5H1019.1V318.1H991.5zM991.5 359.0H1019.1V372.6H991.5zM991.5 390.8H1019.1V395.4H991.5zM991.5 399.9H1019.1V404.5H991.5zM991.5 550.0H1019.1V554.6H991.5zM991.5 577.3H1019.1V581.8H991.5zM991.5 618.2H1019.1V622.8H991.5zM991.5 727.4H1019.1V731.9H991.5zM1019.1 318.1H1046.7V322.6H1019.1zM1019.1 463.6H1046.7V468.1H1019.1zM1019.1 513.6H1046.7V522.7H1019.1zM1019.1 545.5H1046.7V550.0H1019.1zM1046.7 500.0H1074.3V504.5H1046.7zM1074.3 559.1H1101.9V563.6H1074.3zM1074.3 654.6H1101.9V659.1H1074.3zM1101.9 709.2H1129.6V713.7H1101.9zM1129.6 263.5H1157.2V268.0H1129.6zM1129.6 290.8H1157.2V295.3H1129.6zM1129.6 413.6H1157.2V422.7H1129.6zM1129.6 650.1H1157.2V654.6H1129.6zM1157.2 459.0H1184.8V463.6H1157.2zM1157.2 581.8H1184.8V586.4H1157.2zM1157.2 636.4H1184.8V641.0H1157.2zM1184.8 263.5H1212.4V268.0H1184.8zM1184.8 559.1H1212.4V568.2H1184.8zM1184.8 718.3H1212.4V722.8H1184.8zM1267.6 309.0H1295.3V313.5H1267.6zM1267.6 627.3H1295.3V631.9H1267.6zM1267.6 672.8H1295.3V677.3H1267.6zM1267.6 709.2H1295.3V713.7H1267.6zM1267.6 718.3H1295.3V722.8H1267.6zM1267.6 754.7H1295.3V759.2H1267.6zM1295.3 322.6H1322.9V327.2H1295.3zM1295.3 363.5H1322.9V368.1H1295.3zM1295.3 559.1H1322.9V563.6H1295.3zM1295.3 668.2H1322.9V672.8H1295.3zM1295.3 695.5H1322.9V700.1H1295.3zM1295.3 713.7H1322.9V718.3H1295.3zM1295.3 741.0H1322.9V745.6H1295.3zM1322.9 272.6H1350.5V277.1H1322.9zM1322.9 500.0H1350.5V504.5H1322.9zM1322.9 590.9H1350.5V595.5H1322.9zM1322.9 609.1H1350.5V613.7H1322.9zM1322.9 668.2H1350.5V672.8H1322.9zM1322.9 700.1H1350.5V704.6H1322.9zM1322.9 745.6H1350.5V750.1H1322.9zM1378.1 186.2H1405.7V190.7H1378.1zM1405.7 258.9H1433.4V263.5H1405.7zM1405.7 609.1H1433.4V613.7H1405.7zM1405.7 627.3H1433.4V631.9H1405.7zM1433.4 213.5H1461.0V218.0H1433.4zM1433.4 227.1H1461.0V231.7H1433.4zM1433.4 540.9H1461.0V545.5H1433.4zM1461.0 149.8H1488.6V154.3H1461.0zM1461.0 231.7H1488.6V236.2H1461.0zM1461.0 381.7H1488.6V386.3H1461.0zM1461.0 418.1H1488.6V427.2H1461.0zM1461.0 431.8H1488.6V436.3H1461.0zM1488.6 204.4H1516.2V208.9H1488.6zM1516.2 404.5H1543.8V409.0H1516.2zM1543.8 368.1H1571.4V372.6H1543.8zM1543.8 377.2H1571.4V381.7H1543.8zM1571.4 222.6H1599.1V227.1H1571.4zM1571.4 313.5H1599.1V318.1H1571.4zM1571.4 486.3H1599.1V490.9H1571.4zM1571.4 500.0H1599.1V504.5H1571.4zM1571.4 713.7H1599.1V718.3H1571.4zM1571.4 741.0H1599.1V745.6H1571.4zM1599.1 149.8H1626.7V154.3H1599.1zM1599.1 331.7H1626.7V336.3H1599.1zM1599.1 340.8H1626.7V345.4H1599.1zM1599.1 427.2H1626.7V431.8H1599.1zM1599.1 504.5H1626.7V509.1H1599.1zM1599.1 572.7H1626.7V577.3H1599.1zM1599.1 754.7H1626.7V759.2H1599.1zM1626.7 195.3H1654.3V199.8H1626.7zM1626.7 204.4H1654.3V208.9H1626.7zM1626.7 331.7H1654.3V336.3H1626.7zM1626.7 418.1H1654.3V422.7H1626.7zM1626.7 613.7H1654.3V622.8H1626.7zM1626.7 650.1H1654.3V654.6H1626.7zM1626.7 681.9H1654.3V686.4H1626.7zM1654.3 604.6H1681.9V609.1H1654.3zM1654.3 745.6H1681.9V750.1H1654.3zM1681.9 568.2H1709.5V572.7H1681.9zM1709.5 327.2H1737.1V331.7H1709.5zM1737.1 263.5H1764.8V268.0H1737.1zM1737.1 527.3H1764.8V531.8H1737.1zM1737.1 618.2H1764.8V622.8H1737.1zM1764.8 249.9H1792.4V254.4H1764.8zM1764.8 486.3H1792.4V490.9H1764.8zM1764.8 595.5H1792.4V600.0H1764.8zM1764.8 604.6H1792.4V609.1H1764.8zM1764.8 627.3H1792.4V631.9H1764.8zM1792.4 163.4H1820.0V172.5H1792.4zM1792.4 186.2H1820.0V195.3H1792.4zM1792.4 290.8H1820.0V295.3H1792.4zM1792.4 309.0H1820.0V313.5H1792.4zM1792.4 477.2H1820.0V486.3H1792.4zM1792.4 490.9H1820.0V495.4H1792.4zM1792.4 586.4H1820.0V590.9H1792.4zM1792.4 595.5H1820.0V604.6H1792.4z"/><path fill="#f9eee8" d="M881.0 268.0H908.6V272.6H881.0zM881.0 354.4H908.6V359.0H881.0zM881.0 413.6H908.6V418.1H881.0zM881.0 468.1H908.6V472.7H881.0zM881.0 536.4H908.6V540.9H881.0zM881.0 613.7H908.6V618.2H881.0zM908.6 368.1H936.2V372.6H908.6zM908.6 468.1H936.2V472.7H908.6zM908.6 518.2H936.2V522.7H908.6zM908.6 609.1H936.2V613.7H908.6zM936.2 254.4H963.9V258.9H936.2zM936.2 309.0H963.9V313.5H936.2zM936.2 413.6H963.9V418.1H936.2zM936.2 468.1H963.9V472.7H936.2zM936.2 536.4H963.9V540.9H936.2zM963.9 331.7H991.5V336.3H963.9zM963.9 490.9H991.5V495.4H963.9zM963.9 518.2H991.5V522.7H963.9zM963.9 527.3H991.5V531.8H963.9zM963.9 550.0H991.5V554.6H963.9zM963.9 609.1H991.5V618.2H963.9zM963.9 663.7H991.5V668.2H963.9zM963.9 691.0H991.5V695.5H963.9zM963.9 713.7H991.5V718.3H963.9zM963.9 750.1H991.5V754.7H963.9zM991.5 318.1H1019.1V322.6H991.5zM991.5 345.4H1019.1V349.9H991.5zM991.5 440.9H1019.1V445.4H991.5zM991.5 518.2H1019.1V527.3H991.5zM991.5 650.1H1019.1V654.6H991.5zM991.5 704.6H1019.1V709.2H991.5zM991.5 718.3H1019.1V722.8H991.5zM991.5 731.9H1019.1V736.5H991.5zM1019.1 340.8H1046.7V345.4H1019.1zM1019.1 354.4H1046.7V359.0H1019.1zM1019.1 590.9H1046.7V595.5H1019.1zM1046.7 318.1H1074.3V322.6H1046.7zM1046.7 340.8H1074.3V345.4H1046.7zM1046.7 495.4H1074.3V500.0H1046.7zM1074.3 295.3H1101.9V299.9H1074.3zM1074.3 318.1H1101.9V322.6H1074.3zM1074.3 340.8H1101.9V345.4H1074.3zM1074.3 659.1H1101.9V663.7H1074.3zM1101.9 258.9H1129.6V263.5H1101.9zM1101.9 309.0H1129.6V313.5H1101.9zM1101.9 318.1H1129.6V322.6H1101.9zM1101.9 363.5H1129.6V368.1H1101.9zM1101.9 600.0H1129.6V604.6H1101.9zM1101.9 641.0H1129.6V645.5H1101.9zM1101.9 650.1H1129.6V654.6H1101.9zM1129.6 272.6H1157.2V277.1H1129.6zM1129.6 422.7H1157.2V427.2H1129.6zM1157.2 295.3H1184.8V299.9H1157.2zM1157.2 427.2H1184.8V431.8H1157.2zM1157.2 486.3H1184.8V490.9H1157.2zM1157.2 736.5H1184.8V741.0H1157.2zM1184.8 631.9H1212.4V636.4H1184.8zM1184.8 641.0H1212.4V645.5H1184.8zM1184.8 659.1H1212.4V663.7H1184.8zM1212.4 463.6H1240.0V468.1H1212.4zM1212.4 654.6H1240.0V663.7H1212.4zM1267.6 268.0H1295.3V272.6H1267.6zM1267.6 290.8H1295.3V295.3H1267.6zM1267.6 527.3H1295.3V531.8H1267.6zM1267.6 559.1H1295.3V563.6H1267.6zM1267.6 609.1H1295.3V613.7H1267.6zM1295.3 359.0H1322.9V363.5H1295.3zM1295.3 463.6H1322.9V468.1H1295.3zM1295.3 472.7H1322.9V477.2H1295.3zM1295.3 522.7H1322.9V527.3H1295.3zM1295.3 550.0H1322.9V554.6H1295.3zM1295.3 595.5H1322.9V604.6H1295.3zM1295.3 609.1H1322.9V613.7H1295.3zM1295.3 636.4H1322.9V645.5H1295.3zM1322.9 263.5H1350.5V272.6H1322.9zM1322.9 295.3H1350.5V304.4H1322.9zM1322.9 468.1H1350.5V472.7H1322.9zM1322.9 604.6H1350.5V609.1H1322.9zM1322.9 681.9H1350.5V686.4H1322.9zM1378.1 163.4H1405.7V168.0H1378.1zM1405.7 177.1H1433.4V181.6H1405.7zM1433.4 186.2H1461.0V190.7H1433.4zM1433.4 218.0H1461.0V222.6H1433.4zM1461.0 154.3H1488.6V158.9H1461.0zM1543.8 245.3H1571.4V249.9H1543.8zM1681.9 227.1H1709.5V231.7H1681.9zM1764.8 199.8H1792.4V204.4H1764.8zM1792.4 158.9H1820.0V163.4H1792.4z"/><path fill="#fddcc9" d="M881.0 272.6H908.6V277.1H881.0zM881.0 299.9H908.6V304.4H881.0zM881.0 404.5H908.6V413.6H881.0zM881.0 440.9H908.6V445.4H881.0zM881.0 641.0H908.6V645.5H881.0zM881.0 672.8H908.6V677.3H881.0zM881.0 695.5H908.6V700.1H881.0zM881.0 718.3H908.6V722.8H881.0zM908.6 254.4H936.2V258.9H908.6zM908.6 299.9H936.2V313.5H908.6zM908.6 336.3H936.2V340.8H908.6zM908.6 386.3H936.2V390.8H908.6zM908.6 395.4H936.2V399.9H908.6zM908.6 431.8H936.2V436.3H908.6zM908.6 650.1H936.2V654.6H908.6zM908.6 668.2H936.2V672.8H908.6zM936.2 277.1H963.9V281.7H936.2zM936.2 445.4H963.9V450.0H936.2zM936.2 609.1H963.9V613.7H936.2zM936.2 663.7H963.9V672.8H936.2zM963.9 268.0H991.5V272.6H963.9zM963.9 277.1H991.5V281.7H963.9zM963.9 363.5H991.5V368.1H963.9zM963.9 422.7H991.5V431.8H963.9zM963.9 436.3H991.5V440.9H963.9zM963.9 454.5H991.5V459.0H963.9zM963.9 468.1H991.5V472.7H963.9zM963.9 481.8H991.5V486.3H963.9zM963.9 672.8H991.5V677.3H963.9zM963.9 681.9H991.5V686.4H963.9zM963.9 700.1H991.5V704.6H963.9zM963.9 722.8H991.5V727.4H963.9zM991.5 413.6H1019.1V418.1H991.5zM991.5 463.6H1019.1V468.1H991.5zM991.5 477.2H1019.1V481.8H991.5zM991.5 654.6H1019.1V659.1H991.5zM1019.1 336.3H1046.7V340.8H1019.1zM1019.1 377.2H1046.7V381.7H1019.1zM1019.1 454.5H1046.7V459.0H1019.1zM1019.1 504.5H1046.7V509.1H1019.1zM1019.1 577.3H1046.7V581.8H1019.1zM1019.1 600.0H1046.7V609.1H1019.1zM1019.1 691.0H1046.7V700.1H1019.1zM1046.7 281.7H1074.3V286.2H1046.7zM1046.7 290.8H1074.3V295.3H1046.7zM1046.7 368.1H1074.3V372.6H1046.7zM1046.7 386.3H1074.3V399.9H1046.7zM1046.7 445.4H1074.3V450.0H1046.7zM1046.7 459.0H1074.3V468.1H1046.7zM1046.7 527.3H1074.3V531.8H1046.7zM1046.7 545.5H1074.3V550.0H1046.7zM1046.7 563.6H1074.3V568.2H1046.7zM1046.7 577.3H1074.3V581.8H1046.7zM1046.7 609.1H1074.3V613.7H1046.7zM1046.7 618.2H1074.3V622.8H1046.7zM1046.7 641.0H1074.3V645.5H1046.7zM1046.7 654.6H1074.3V659.1H1046.7zM1046.7 681.9H1074.3V686.4H1046.7zM1046.7 722.8H1074.3V727.4H1046.7zM1074.3 272.6H1101.9V277.1H1074.3zM1074.3 381.7H1101.9V386.3H1074.3zM1074.3 490.9H1101.9V495.4H1074.3zM1074.3 527.3H1101.9V531.8H1074.3zM1074.3 540.9H1101.9V545.5H1074.3zM1074.3 600.0H1101.9V604.6H1074.3zM1074.3 618.2H1101.9V622.8H1074.3zM1101.9 331.7H1129.6V336.3H1101.9zM1101.9 399.9H1129.6V404.5H1101.9zM1101.9 422.7H1129.6V427.2H1101.9zM1101.9 463.6H1129.6V468.1H1101.9zM1101.9 477.2H1129.6V481.8H1101.9zM1101.9 490.9H1129.6V495.4H1101.9zM1101.9 550.0H1129.6V554.6H1101.9zM1101.9 627.3H1129.6V631.9H1101.9zM1101.9 691.0H1129.6V695.5H1101.9zM1101.9 731.9H1129.6V741.0H1101.9zM1129.6 363.5H1157.2V368.1H1129.6zM1129.6 431.8H1157.2V440.9H1129.6zM1129.6 445.4H1157.2V450.0H1129.6zM1129.6 572.7H1157.2V577.3H1129.6zM1129.6 691.0H1157.2V695.5H1129.6zM1129.6 750.1H1157.2V759.2H1129.6zM1157.2 249.9H1184.8V254.4H1157.2zM1157.2 268.0H1184.8V272.6H1157.2zM1157.2 304.4H1184.8V313.5H1157.2zM1157.2 318.1H1184.8V322.6H1157.2zM1157.2 331.7H1184.8V336.3H1157.2zM1157.2 349.9H1184.8V354.4H1157.2zM1157.2 536.4H1184.8V540.9H1157.2zM1157.2 550.0H1184.8V554.6H1157.2zM1157.2 590.9H1184.8V595.5H1157.2zM1157.2 695.5H1184.8V700.1H1157.2zM1157.2 741.0H1184.8V745.6H1157.2zM1157.2 750.1H1184.8V754.7H1157.2zM1184.8 277.1H1212.4V281.7H1184.8zM1184.8 322.6H1212.4V327.2H1184.8zM1184.8 359.0H1212.4V363.5H1184.8zM1184.8 422.7H1212.4V427.2H1184.8zM1184.8 495.4H1212.4V500.0H1184.8zM1184.8 650.1H1212.4V654.6H1184.8zM1184.8 681.9H1212.4V686.4H1184.8zM1212.4 272.6H1240.0V277.1H1212.4zM1212.4 409.0H1240.0V418.1H1212.4zM1212.4 431.8H1240.0V436.3H1212.4zM1212.4 500.0H1240.0V504.5H1212.4zM1212.4 518.2H1240.0V527.3H1212.4zM1212.4 595.5H1240.0V600.0H1212.4zM1212.4 604.6H1240.0V609.1H1212.4zM1212.4 686.4H1240.0V691.0H1212.4zM1212.4 718.3H1240.0V722.8H1212.4zM1240.0 281.7H1267.6V286.2H1240.0zM1240.0 331.7H1267.6V336.3H1240.0zM1240.0 386.3H1267.6V395.4H1240.0zM1240.0 450.0H1267.6V454.5H1240.0zM1240.0 554.6H1267.6V559.1H1240.0zM1240.0 586.4H1267.6V590.9H1240.0zM1240.0 645.5H1267.6V650.1H1240.0zM1240.0 672.8H1267.6V677.3H1240.0zM1240.0 727.4H1267.6V731.9H1240.0zM1267.6 359.0H1295.3V363.5H1267.6zM1267.6 368.1H1295.3V372.6H1267.6zM1267.6 440.9H1295.3V445.4H1267.6zM1295.3 413.6H1322.9V418.1H1295.3zM1295.3 727.4H1322.9V731.9H1295.3zM1322.9 286.2H1350.5V290.8H1322.9zM1322.9 381.7H1350.5V386.3H1322.9zM1322.9 395.4H1350.5V399.9H1322.9zM1322.9 545.5H1350.5V550.0H1322.9zM1322.9 572.7H1350.5V577.3H1322.9zM1322.9 736.5H1350.5V741.0H1322.9zM1350.5 163.4H1378.1V168.0H1350.5zM1350.5 199.8H1378.1V204.4H1350.5zM1378.1 149.8H1405.7V154.3H1378.1zM1405.7 240.8H1433.4V245.3H1405.7zM1461.0 208.9H1488.6V213.5H1461.0zM1488.6 190.7H1516.2V195.3H1488.6zM1488.6 213.5H1516.2V218.0H1488.6zM1516.2 208.9H1543.8V218.0H1516.2zM1516.2 231.7H1543.8V236.2H1516.2zM1543.8 149.8H1571.4V154.3H1543.8zM1543.8 204.4H1571.4V208.9H1543.8zM1571.4 154.3H1599.1V158.9H1571.4zM1571.4 168.0H1599.1V172.5H1571.4zM1571.4 204.4H1599.1V213.5H1571.4zM1571.4 240.8H1599.1V245.3H1571.4zM1571.4 481.8H1599.1V486.3H1571.4zM1599.1 208.9H1626.7V213.5H1599.1zM1599.1 559.1H1626.7V568.2H1599.1zM1626.7 168.0H1654.3V172.5H1626.7zM1626.7 222.6H1654.3V227.1H1626.7zM1654.3 181.6H1681.9V186.2H1654.3zM1654.3 240.8H1681.9V245.3H1654.3zM1681.9 154.3H1709.5V158.9H1681.9zM1681.9 249.9H1709.5V254.4H1681.9zM1681.9 654.6H1709.5V659.1H1681.9zM1709.5 168.0H1737.1V172.5H1709.5zM1764.8 240.8H1792.4V245.3H1764.8zM1764.8 268.0H1792.4V272.6H1764.8zM1792.4 208.9H1820.0V213.5H1792.4zM1792.4 236.2H1820.0V240.8H1792.4zM1792.4 268.0H1820.0V272.6H1792.4zM1792.4 581.8H1820.0V586.4H1792.4z"/><path fill="#fce1d1" d="M881.0 277.1H908.6V281.7H881.0zM881.0 372.6H908.6V381.7H881.0zM881.0 386.3H908.6V390.8H881.0zM881.0 395.4H908.6V399.9H881.0zM881.0 436.3H908.6V440.9H881.0zM881.0 445.4H908.6V450.0H881.0zM881.0 459.0H908.6V463.6H881.0zM881.0 477.2H908.6V481.8H881.0zM881.0 741.0H908.6V750.1H881.0zM908.6 340.8H936.2V345.4H908.6zM908.6 409.0H936.2V413.6H908.6zM908.6 436.3H936.2V440.9H908.6zM908.6 595.5H936.2V604.6H908.6zM908.6 695.5H936.2V700.1H908.6zM908.6 736.5H936.2V741.0H908.6zM908.6 745.6H936.2V750.1H908.6zM936.2 399.9H963.9V404.5H936.2zM936.2 431.8H963.9V436.3H936.2zM936.2 477.2H963.9V481.8H936.2zM936.2 504.5H963.9V509.1H936.2zM936.2 531.8H963.9V536.4H936.2zM936.2 568.2H963.9V572.7H936.2zM936.2 577.3H963.9V581.8H936.2zM936.2 618.2H963.9V622.8H936.2zM936.2 631.9H963.9V636.4H936.2zM963.9 263.5H991.5V268.0H963.9zM963.9 336.3H991.5V340.8H963.9zM963.9 368.1H991.5V372.6H963.9zM963.9 745.6H991.5V750.1H963.9zM991.5 290.8H1019.1V295.3H991.5zM991.5 309.0H1019.1V313.5H991.5zM991.5 418.1H1019.1V422.7H991.5zM991.5 645.5H1019.1V650.1H991.5zM991.5 741.0H1019.1V745.6H991.5zM1019.1 263.5H1046.7V272.6H1019.1zM1019.1 327.2H1046.7V331.7H1019.1zM1019.1 490.9H1046.7V495.4H1019.1zM1019.1 531.8H1046.7V536.4H1019.1zM1019.1 718.3H1046.7V731.9H1019.1zM1046.7 309.0H1074.3V313.5H1046.7zM1046.7 336.3H1074.3V340.8H1046.7zM1046.7 399.9H1074.3V404.5H1046.7zM1046.7 409.0H1074.3V413.6H1046.7zM1046.7 440.9H1074.3V445.4H1046.7zM1046.7 550.0H1074.3V554.6H1046.7zM1046.7 586.4H1074.3V590.9H1046.7zM1046.7 645.5H1074.3V650.1H1046.7zM1046.7 686.4H1074.3V691.0H1046.7zM1046.7 695.5H1074.3V704.6H1046.7zM1046.7 736.5H1074.3V741.0H1046.7zM1074.3 345.4H1101.9V349.9H1074.3zM1074.3 440.9H1101.9V445.4H1074.3zM1074.3 454.5H1101.9V459.0H1074.3zM1074.3 581.8H1101.9V586.4H1074.3zM1074.3 668.2H1101.9V672.8H1074.3zM1074.3 695.5H1101.9V700.1H1074.3zM1101.9 381.7H1129.6V386.3H1101.9zM1101.9 395.4H1129.6V399.9H1101.9zM1101.9 404.5H1129.6V409.0H1101.9zM1101.9 459.0H1129.6V463.6H1101.9zM1101.9 559.1H1129.6V563.6H1101.9zM1129.6 340.8H1157.2V345.4H1129.6zM1129.6 440.9H1157.2V445.4H1129.6zM1129.6 631.9H1157.2V636.4H1129.6zM1129.6 641.0H1157.2V645.5H1129.6zM1129.6 672.8H1157.2V677.3H1129.6zM1157.2 272.6H1184.8V277.1H1157.2zM1157.2 286.2H1184.8V290.8H1157.2zM1157.2 313.5H1184.8V318.1H1157.2zM1157.2 409.0H1184.8V413.6H1157.2zM1157.2 436.3H1184.8V440.9H1157.2zM1157.2 450.0H1184.8V459.0H1157.2zM1157.2 490.9H1184.8V495.4H1157.2zM1157.2 522.7H1184.8V527.3H1157.2zM1157.2 681.9H1184.8V686.4H1157.2zM1157.2 745.6H1184.8V750.1H1157.2zM1184.8 331.7H1212.4V336.3H1184.8zM1184.8 468.1H1212.4V472.7H1184.8zM1184.8 504.5H1212.4V509.1H1184.8zM1184.8 745.6H1212.4V750.1H1184.8zM1212.4 286.2H1240.0V290.8H1212.4zM1212.4 295.3H1240.0V299.9H1212.4zM1212.4 309.0H1240.0V318.1H1212.4zM1212.4 322.6H1240.0V327.2H1212.4zM1212.4 381.7H1240.0V386.3H1212.4zM1212.4 399.9H1240.0V409.0H1212.4zM1212.4 495.4H1240.0V500.0H1212.4zM1212.4 536.4H1240.0V540.9H1212.4zM1212.4 650.1H1240.0V654.6H1212.4zM1212.4 677.3H1240.0V681.9H1212.4zM1212.4 691.0H1240.0V695.5H1212.4zM1212.4 713.7H1240.0V718.3H1212.4zM1212.4 741.0H1240.0V745.6H1212.4zM1240.0 299.9H1267.6V304.4H1240.0zM1240.0 318.1H1267.6V322.6H1240.0zM1240.0 436.3H1267.6V445.4H1240.0zM1240.0 536.4H1267.6V540.9H1240.0zM1240.0 545.5H1267.6V550.0H1240.0zM1240.0 559.1H1267.6V563.6H1240.0zM1240.0 609.1H1267.6V613.7H1240.0zM1240.0 631.9H1267.6V636.4H1240.0zM1240.0 686.4H1267.6V691.0H1240.0zM1267.6 327.2H1295.3V331.7H1267.6zM1267.6 386.3H1295.3V390.8H1267.6zM1267.6 395.4H1295.3V399.9H1267.6zM1267.6 459.0H1295.3V468.1H1267.6zM1267.6 477.2H1295.3V481.8H1267.6zM1267.6 486.3H1295.3V490.9H1267.6zM1267.6 536.4H1295.3V540.9H1267.6zM1267.6 686.4H1295.3V691.0H1267.6zM1295.3 409.0H1322.9V413.6H1295.3zM1295.3 459.0H1322.9V463.6H1295.3zM1295.3 654.6H1322.9V659.1H1295.3zM1295.3 731.9H1322.9V736.5H1295.3zM1322.9 354.4H1350.5V359.0H1322.9zM1322.9 445.4H1350.5V450.0H1322.9zM1322.9 454.5H1350.5V459.0H1322.9zM1322.9 522.7H1350.5V527.3H1322.9zM1322.9 581.8H1350.5V586.4H1322.9zM1322.9 650.1H1350.5V654.6H1322.9zM1322.9 704.6H1350.5V709.2H1322.9zM1322.9 713.7H1350.5V718.3H1322.9zM1350.5 168.0H1378.1V172.5H1350.5zM1350.5 222.6H1378.1V227.1H1350.5zM1350.5 272.6H1378.1V277.1H1350.5zM1378.1 236.2H1405.7V240.8H1378.1zM1405.7 186.2H1433.4V199.8H1405.7zM1405.7 208.9H1433.4V213.5H1405.7zM1433.4 195.3H1461.0V199.8H1433.4zM1488.6 195.3H1516.2V199.8H1488.6zM1516.2 154.3H1543.8V158.9H1516.2zM1543.8 213.5H1571.4V218.0H1543.8zM1543.8 231.7H1571.4V236.2H1543.8zM1571.4 158.9H1599.1V163.4H1571.4zM1571.4 195.3H1599.1V199.8H1571.4zM1571.4 404.5H1599.1V409.0H1571.4zM1571.4 495.4H1599.1V500.0H1571.4zM1599.1 195.3H1626.7V199.8H1599.1zM1599.1 231.7H1626.7V236.2H1599.1zM1599.1 240.8H1626.7V245.3H1599.1zM1626.7 172.5H1654.3V177.1H1626.7zM1654.3 154.3H1681.9V158.9H1654.3zM1654.3 190.7H1681.9V195.3H1654.3zM1654.3 199.8H1681.9V204.4H1654.3zM1654.3 722.8H1681.9V727.4H1654.3zM1681.9 177.1H1709.5V181.6H1681.9zM1681.9 204.4H1709.5V208.9H1681.9zM1709.5 163.4H1737.1V168.0H1709.5zM1737.1 213.5H1764.8V218.0H1737.1zM1737.1 222.6H1764.8V227.1H1737.1zM1764.8 213.5H1792.4V218.0H1764.8zM1792.4 195.3H1820.0V199.8H1792.4zM1792.4 231.7H1820.0V236.2H1792.4zM1792.4 245.3H1820.0V249.9H1792.4zM1792.4 722.8H1820.0V727.4H1792.4z"/><path fill="#f7b698" d="M881.0 281.7H908.6V286.2H881.0zM881.0 295.3H908.6V299.9H881.0zM881.0 663.7H908.6V668.2H881.0zM881.0 681.9H908.6V686.4H881.0zM908.6 377.2H936.2V381.7H908.6zM908.6 422.7H936.2V427.2H908.6zM936.2 354.4H963.9V359.0H936.2zM963.9 618.2H991.5V627.3H963.9zM963.9 731.9H991.5V736.5H963.9zM991.5 254.4H1019.1V258.9H991.5zM1019.1 254.4H1046.7V258.9H1019.1zM1019.1 500.0H1046.7V504.5H1019.1zM1074.3 327.2H1101.9V331.7H1074.3zM1074.3 349.9H1101.9V354.4H1074.3zM1074.3 459.0H1101.9V463.6H1074.3zM1074.3 663.7H1101.9V668.2H1074.3zM1101.9 481.8H1129.6V486.3H1101.9zM1101.9 563.6H1129.6V568.2H1101.9zM1129.6 427.2H1157.2V431.8H1129.6zM1157.2 386.3H1184.8V390.8H1157.2zM1157.2 500.0H1184.8V504.5H1157.2zM1157.2 577.3H1184.8V581.8H1157.2zM1157.2 713.7H1184.8V718.3H1157.2zM1157.2 727.4H1184.8V731.9H1157.2zM1184.8 258.9H1212.4V263.5H1184.8zM1184.8 399.9H1212.4V404.5H1184.8zM1184.8 454.5H1212.4V459.0H1184.8zM1212.4 349.9H1240.0V354.4H1212.4zM1212.4 527.3H1240.0V536.4H1212.4zM1212.4 695.5H1240.0V700.1H1212.4zM1240.0 477.2H1267.6V481.8H1240.0zM1240.0 600.0H1267.6V604.6H1240.0zM1240.0 668.2H1267.6V672.8H1240.0zM1240.0 713.7H1267.6V718.3H1240.0zM1267.6 454.5H1295.3V459.0H1267.6zM1295.3 390.8H1322.9V395.4H1295.3zM1322.9 249.9H1350.5V254.4H1322.9zM1322.9 327.2H1350.5V331.7H1322.9zM1322.9 509.1H1350.5V513.6H1322.9zM1322.9 536.4H1350.5V540.9H1322.9zM1322.9 554.6H1350.5V559.1H1322.9zM1322.9 659.1H1350.5V663.7H1322.9zM1461.0 204.4H1488.6V208.9H1461.0zM1461.0 327.2H1488.6V331.7H1461.0zM1516.2 181.6H1543.8V186.2H1516.2zM1571.4 163.4H1599.1V168.0H1571.4zM1571.4 227.1H1599.1V231.7H1571.4zM1599.1 163.4H1626.7V168.0H1599.1zM1599.1 172.5H1626.7V177.1H1599.1zM1654.3 186.2H1681.9V190.7H1654.3zM1654.3 236.2H1681.9V240.8H1654.3z"/><path fill="#fbe3d4" d="M881.0 286.2H908.6V290.8H881.0zM881.0 399.9H908.6V404.5H881.0zM881.0 486.3H908.6V490.9H881.0zM881.0 518.2H908.6V522.7H881.0zM881.0 527.3H908.6V531.8H881.0zM881.0 559.1H908.6V563.6H881.0zM881.0 572.7H908.6V577.3H881.0zM881.0 636.4H908.6V641.0H881.0zM881.0 677.3H908.6V681.9H881.0zM881.0 686.4H908.6V691.0H881.0zM908.6 277.1H936.2V281.7H908.6zM908.6 636.4H936.2V645.5H908.6zM908.6 654.6H936.2V659.1H908.6zM908.6 663.7H936.2V668.2H908.6zM908.6 672.8H936.2V681.9H908.6zM936.2 268.0H963.9V272.6H936.2zM936.2 404.5H963.9V409.0H936.2zM936.2 481.8H963.9V486.3H936.2zM936.2 595.5H963.9V600.0H936.2zM936.2 613.7H963.9V618.2H936.2zM936.2 677.3H963.9V681.9H936.2zM936.2 736.5H963.9V741.0H936.2zM936.2 754.7H963.9V759.2H936.2zM963.9 413.6H991.5V422.7H963.9zM963.9 450.0H991.5V454.5H963.9zM963.9 577.3H991.5V581.8H963.9zM963.9 727.4H991.5V731.9H963.9zM963.9 736.5H991.5V741.0H963.9zM963.9 754.7H991.5V759.2H963.9zM991.5 258.9H1019.1V263.5H991.5zM991.5 281.7H1019.1V286.2H991.5zM991.5 295.3H1019.1V299.9H991.5zM991.5 340.8H1019.1V345.4H991.5zM991.5 372.6H1019.1V381.7H991.5zM991.5 409.0H1019.1V413.6H991.5zM991.5 631.9H1019.1V636.4H991.5zM991.5 668.2H1019.1V677.3H991.5zM991.5 681.9H1019.1V686.4H991.5zM991.5 700.1H1019.1V704.6H991.5zM991.5 750.1H1019.1V754.7H991.5zM1019.1 290.8H1046.7V295.3H1019.1zM1019.1 522.7H1046.7V527.3H1019.1zM1019.1 650.1H1046.7V654.6H1019.1zM1046.7 254.4H1074.3V258.9H1046.7zM1046.7 359.0H1074.3V368.1H1046.7zM1046.7 381.7H1074.3V386.3H1046.7zM1046.7 418.1H1074.3V422.7H1046.7zM1046.7 472.7H1074.3V477.2H1046.7zM1046.7 481.8H1074.3V486.3H1046.7zM1046.7 518.2H1074.3V522.7H1046.7zM1046.7 540.9H1074.3V545.5H1046.7zM1046.7 568.2H1074.3V572.7H1046.7zM1046.7 581.8H1074.3V586.4H1046.7zM1046.7 704.6H1074.3V709.2H1046.7zM1046.7 731.9H1074.3V736.5H1046.7zM1046.7 741.0H1074.3V745.6H1046.7zM1074.3 277.1H1101.9V281.7H1074.3zM1074.3 304.4H1101.9V309.0H1074.3zM1074.3 390.8H1101.9V395.4H1074.3zM1074.3 404.5H1101.9V409.0H1074.3zM1074.3 481.8H1101.9V486.3H1074.3zM1074.3 563.6H1101.9V568.2H1074.3zM1074.3 577.3H1101.9V581.8H1074.3zM1074.3 622.8H1101.9V627.3H1074.3zM1074.3 631.9H1101.9V636.4H1074.3zM1074.3 704.6H1101.9V709.2H1074.3zM1074.3 718.3H1101.9V722.8H1074.3zM1101.9 340.8H1129.6V345.4H1101.9zM1101.9 377.2H1129.6V381.7H1101.9zM1101.9 409.0H1129.6V413.6H1101.9zM1101.9 445.4H1129.6V450.0H1101.9zM1101.9 540.9H1129.6V545.5H1101.9zM1101.9 554.6H1129.6V559.1H1101.9zM1101.9 613.7H1129.6V622.8H1101.9zM1101.9 681.9H1129.6V686.4H1101.9zM1101.9 745.6H1129.6V754.7H1101.9zM1129.6 299.9H1157.2V304.4H1129.6zM1129.6 454.5H1157.2V459.0H1129.6zM1129.6 531.8H1157.2V536.4H1129.6zM1129.6 590.9H1157.2V595.5H1129.6zM1129.6 668.2H1157.2V672.8H1129.6zM1129.6 677.3H1157.2V681.9H1129.6zM1129.6 745.6H1157.2V750.1H1129.6zM1157.2 418.1H1184.8V427.2H1157.2zM1157.2 440.9H1184.8V445.4H1157.2zM1157.2 495.4H1184.8V500.0H1157.2zM1157.2 513.6H1184.8V518.2H1157.2zM1157.2 531.8H1184.8V536.4H1157.2zM1157.2 595.5H1184.8V600.0H1157.2zM1157.2 609.1H1184.8V613.7H1157.2zM1157.2 659.1H1184.8V668.2H1157.2zM1184.8 249.9H1212.4V254.4H1184.8zM1184.8 281.7H1212.4V286.2H1184.8zM1184.8 309.0H1212.4V313.5H1184.8zM1184.8 377.2H1212.4V381.7H1184.8zM1184.8 427.2H1212.4V431.8H1184.8zM1184.8 518.2H1212.4V522.7H1184.8zM1184.8 531.8H1212.4V536.4H1184.8zM1184.8 668.2H1212.4V672.8H1184.8zM1184.8 691.0H1212.4V695.5H1184.8zM1184.8 736.5H1212.4V745.6H1184.8zM1212.4 299.9H1240.0V304.4H1212.4zM1212.4 318.1H1240.0V322.6H1212.4zM1212.4 327.2H1240.0V331.7H1212.4zM1212.4 363.5H1240.0V368.1H1212.4zM1212.4 372.6H1240.0V377.2H1212.4zM1212.4 436.3H1240.0V440.9H1212.4zM1212.4 459.0H1240.0V463.6H1212.4zM1212.4 472.7H1240.0V477.2H1212.4zM1212.4 550.0H1240.0V554.6H1212.4zM1212.4 572.7H1240.0V577.3H1212.4zM1212.4 600.0H1240.0V604.6H1212.4zM1212.4 722.8H1240.0V727.4H1212.4zM1212.4 745.6H1240.0V750.1H1212.4zM1240.0 268.0H1267.6V272.6H1240.0zM1240.0 290.8H1267.6V295.3H1240.0zM1240.0 327.2H1267.6V331.7H1240.0zM1240.0 363.5H1267.6V377.2H1240.0zM1240.0 399.9H1267.6V404.5H1240.0zM1240.0 409.0H1267.6V413.6H1240.0zM1240.0 563.6H1267.6V568.2H1240.0zM1240.0 572.7H1267.6V577.3H1240.0zM1240.0 622.8H1267.6V631.9H1240.0zM1240.0 641.0H1267.6V645.5H1240.0zM1240.0 691.0H1267.6V695.5H1240.0zM1240.0 700.1H1267.6V704.6H1240.0zM1267.6 158.9H1295.3V163.4H1267.6zM1267.6 472.7H1295.3V477.2H1267.6zM1267.6 613.7H1295.3V618.2H1267.6zM1295.3 331.7H1322.9V340.8H1295.3zM1295.3 427.2H1322.9V445.4H1295.3zM1295.3 450.0H1322.9V454.5H1295.3zM1295.3 750.1H1322.9V759.2H1295.3zM1322.9 368.1H1350.5V377.2H1322.9zM1322.9 386.3H1350.5V390.8H1322.9zM1322.9 440.9H1350.5V445.4H1322.9zM1322.9 513.6H1350.5V518.2H1322.9zM1322.9 531.8H1350.5V536.4H1322.9zM1322.9 672.8H1350.5V677.3H1322.9zM1322.9 727.4H1350.5V731.9H1322.9zM1322.9 754.7H1350.5V759.2H1322.9zM1350.5 172.5H1378.1V177.1H1350.5zM1350.5 213.5H1378.1V218.0H1350.5zM1405.7 168.0H1433.4V172.5H1405.7zM1405.7 204.4H1433.4V208.9H1405.7zM1405.7 227.1H1433.4V231.7H1405.7zM1433.4 204.4H1461.0V208.9H1433.4zM1433.4 240.8H1461.0V245.3H1433.4zM1461.0 195.3H1488.6V199.8H1461.0zM1461.0 218.0H1488.6V222.6H1461.0zM1461.0 240.8H1488.6V245.3H1461.0zM1488.6 222.6H1516.2V227.1H1488.6zM1516.2 149.8H1543.8V154.3H1516.2zM1516.2 236.2H1543.8V240.8H1516.2zM1543.8 181.6H1571.4V186.2H1543.8zM1543.8 195.3H1571.4V199.8H1543.8zM1543.8 236.2H1571.4V240.8H1543.8zM1571.4 199.8H1599.1V204.4H1571.4zM1599.1 199.8H1626.7V204.4H1599.1zM1626.7 158.9H1654.3V163.4H1626.7zM1626.7 208.9H1654.3V213.5H1626.7zM1626.7 240.8H1654.3V245.3H1626.7zM1654.3 163.4H1681.9V168.0H1654.3zM1654.3 172.5H1681.9V181.6H1654.3zM1681.9 158.9H1709.5V163.4H1681.9zM1681.9 186.2H1709.5V190.7H1681.9zM1681.9 213.5H1709.5V218.0H1681.9zM1681.9 236.2H1709.5V240.8H1681.9zM1709.5 172.5H1737.1V177.1H1709.5zM1709.5 199.8H1737.1V204.4H1709.5zM1709.5 208.9H1737.1V213.5H1709.5zM1709.5 700.1H1737.1V704.6H1709.5zM1737.1 190.7H1764.8V195.3H1737.1zM1737.1 204.4H1764.8V213.5H1737.1zM1764.8 245.3H1792.4V249.9H1764.8zM1764.8 272.6H1792.4V277.1H1764.8zM1792.4 222.6H1820.0V227.1H1792.4z"/><path fill="#fac7ae" d="M881.0 290.8H908.6V295.3H881.0zM881.0 463.6H908.6V468.1H881.0zM881.0 563.6H908.6V572.7H881.0zM908.6 459.0H936.2V463.6H908.6zM908.6 659.1H936.2V663.7H908.6zM991.5 304.4H1019.1V309.0H991.5zM991.5 472.7H1019.1V477.2H991.5zM1019.1 472.7H1046.7V477.2H1019.1zM1019.1 495.4H1046.7V500.0H1019.1zM1019.1 731.9H1046.7V741.0H1019.1zM1074.3 568.2H1101.9V572.7H1074.3zM1074.3 677.3H1101.9V681.9H1074.3zM1074.3 741.0H1101.9V745.6H1074.3zM1101.9 531.8H1129.6V536.4H1101.9zM1101.9 672.8H1129.6V677.3H1101.9zM1101.9 695.5H1129.6V700.1H1101.9zM1129.6 654.6H1157.2V659.1H1129.6zM1157.2 258.9H1184.8V263.5H1157.2zM1157.2 345.4H1184.8V349.9H1157.2zM1157.2 704.6H1184.8V709.2H1157.2zM1184.8 395.4H1212.4V399.9H1184.8zM1184.8 409.0H1212.4V422.7H1184.8zM1184.8 700.1H1212.4V704.6H1184.8zM1212.4 445.4H1240.0V450.0H1212.4zM1212.4 481.8H1240.0V486.3H1212.4zM1212.4 577.3H1240.0V581.8H1212.4zM1240.0 258.9H1267.6V263.5H1240.0zM1240.0 527.3H1267.6V531.8H1240.0zM1240.0 577.3H1267.6V581.8H1240.0zM1240.0 754.7H1267.6V759.2H1240.0zM1267.6 349.9H1295.3V354.4H1267.6zM1267.6 399.9H1295.3V404.5H1267.6zM1267.6 409.0H1295.3V413.6H1267.6zM1267.6 481.8H1295.3V486.3H1267.6zM1267.6 618.2H1295.3V622.8H1267.6zM1295.3 299.9H1322.9V309.0H1295.3zM1295.3 313.5H1322.9V318.1H1295.3zM1295.3 677.3H1322.9V681.9H1295.3zM1378.1 231.7H1405.7V236.2H1378.1zM1543.8 168.0H1571.4V172.5H1543.8zM1626.7 163.4H1654.3V168.0H1626.7zM1626.7 227.1H1654.3V231.7H1626.7zM1681.9 149.8H1709.5V154.3H1681.9zM1681.9 240.8H1709.5V245.3H1681.9zM1709.5 245.3H1737.1V249.9H1709.5zM1737.1 177.1H1764.8V181.6H1737.1z"/><path fill="#fcd4bf" d="M881.0 304.4H908.6V313.5H881.0zM881.0 427.2H908.6V431.8H881.0zM881.0 645.5H908.6V650.1H881.0zM908.6 354.4H936.2V363.5H908.6zM908.6 404.5H936.2V409.0H908.6zM908.6 427.2H936.2V431.8H908.6zM908.6 681.9H936.2V686.4H908.6zM908.6 750.1H936.2V754.7H908.6zM936.2 286.2H963.9V290.8H936.2zM936.2 427.2H963.9V431.8H936.2zM936.2 463.6H963.9V468.1H936.2zM936.2 509.1H963.9V513.6H936.2zM936.2 563.6H963.9V568.2H936.2zM936.2 586.4H963.9V590.9H936.2zM936.2 641.0H963.9V645.5H936.2zM936.2 650.1H963.9V654.6H936.2zM936.2 672.8H963.9V677.3H936.2zM936.2 681.9H963.9V686.4H936.2zM963.9 290.8H991.5V295.3H963.9zM963.9 463.6H991.5V468.1H963.9zM991.5 277.1H1019.1V281.7H991.5zM991.5 299.9H1019.1V304.4H991.5zM991.5 422.7H1019.1V427.2H991.5zM991.5 454.5H1019.1V459.0H991.5zM991.5 613.7H1019.1V618.2H991.5zM1019.1 272.6H1046.7V277.1H1019.1zM1019.1 381.7H1046.7V386.3H1019.1zM1019.1 459.0H1046.7V463.6H1019.1zM1019.1 481.8H1046.7V486.3H1019.1zM1019.1 581.8H1046.7V586.4H1019.1zM1019.1 618.2H1046.7V622.8H1019.1zM1046.7 258.9H1074.3V268.0H1046.7zM1046.7 313.5H1074.3V318.1H1046.7zM1046.7 349.9H1074.3V354.4H1046.7zM1046.7 377.2H1074.3V381.7H1046.7zM1046.7 404.5H1074.3V409.0H1046.7zM1046.7 590.9H1074.3V604.6H1046.7zM1046.7 636.4H1074.3V641.0H1046.7zM1046.7 650.1H1074.3V654.6H1046.7zM1046.7 677.3H1074.3V681.9H1046.7zM1046.7 718.3H1074.3V722.8H1046.7zM1046.7 754.7H1074.3V759.2H1046.7zM1074.3 445.4H1101.9V454.5H1074.3zM1074.3 486.3H1101.9V490.9H1074.3zM1074.3 504.5H1101.9V513.6H1074.3zM1074.3 700.1H1101.9V704.6H1074.3zM1074.3 709.2H1101.9V718.3H1074.3zM1074.3 736.5H1101.9V741.0H1074.3zM1101.9 286.2H1129.6V290.8H1101.9zM1101.9 454.5H1129.6V459.0H1101.9zM1101.9 504.5H1129.6V509.1H1101.9zM1101.9 568.2H1129.6V572.7H1101.9zM1101.9 604.6H1129.6V609.1H1101.9zM1101.9 636.4H1129.6V641.0H1101.9zM1101.9 659.1H1129.6V668.2H1101.9zM1101.9 677.3H1129.6V681.9H1101.9zM1129.6 349.9H1157.2V354.4H1129.6zM1129.6 450.0H1157.2V454.5H1129.6zM1129.6 550.0H1157.2V554.6H1129.6zM1129.6 604.6H1157.2V609.1H1129.6zM1129.6 663.7H1157.2V668.2H1129.6zM1129.6 686.4H1157.2V691.0H1129.6zM1129.6 741.0H1157.2V745.6H1129.6zM1157.2 254.4H1184.8V258.9H1157.2zM1157.2 322.6H1184.8V327.2H1157.2zM1157.2 336.3H1184.8V340.8H1157.2zM1157.2 354.4H1184.8V359.0H1157.2zM1157.2 404.5H1184.8V409.0H1157.2zM1157.2 545.5H1184.8V550.0H1157.2zM1157.2 686.4H1184.8V695.5H1157.2zM1184.8 295.3H1212.4V304.4H1184.8zM1184.8 313.5H1212.4V318.1H1184.8zM1184.8 440.9H1212.4V445.4H1184.8zM1184.8 500.0H1212.4V504.5H1184.8zM1184.8 522.7H1212.4V531.8H1184.8zM1212.4 281.7H1240.0V286.2H1212.4zM1212.4 304.4H1240.0V309.0H1212.4zM1212.4 331.7H1240.0V336.3H1212.4zM1212.4 354.4H1240.0V363.5H1212.4zM1212.4 395.4H1240.0V399.9H1212.4zM1212.4 418.1H1240.0V422.7H1212.4zM1212.4 609.1H1240.0V613.7H1212.4zM1212.4 631.9H1240.0V636.4H1212.4zM1212.4 663.7H1240.0V668.2H1212.4zM1212.4 727.4H1240.0V731.9H1212.4zM1212.4 754.7H1240.0V759.2H1212.4zM1240.0 249.9H1267.6V254.4H1240.0zM1240.0 422.7H1267.6V427.2H1240.0zM1240.0 454.5H1267.6V463.6H1240.0zM1240.0 518.2H1267.6V527.3H1240.0zM1240.0 540.9H1267.6V545.5H1240.0zM1240.0 550.0H1267.6V554.6H1240.0zM1240.0 677.3H1267.6V681.9H1240.0zM1240.0 695.5H1267.6V700.1H1240.0zM1267.6 281.7H1295.3V286.2H1267.6zM1267.6 340.8H1295.3V345.4H1267.6zM1267.6 381.7H1295.3V386.3H1267.6zM1267.6 390.8H1295.3V395.4H1267.6zM1267.6 431.8H1295.3V436.3H1267.6zM1267.6 522.7H1295.3V527.3H1267.6zM1295.3 277.1H1322.9V281.7H1295.3zM1295.3 518.2H1322.9V522.7H1295.3zM1322.9 390.8H1350.5V395.4H1322.9zM1322.9 631.9H1350.5V641.0H1322.9zM1322.9 677.3H1350.5V681.9H1322.9zM1350.5 158.9H1378.1V163.4H1350.5zM1350.5 181.6H1378.1V186.2H1350.5zM1350.5 208.9H1378.1V213.5H1350.5zM1350.5 231.7H1378.1V236.2H1350.5zM1378.1 222.6H1405.7V227.1H1378.1zM1405.7 222.6H1433.4V227.1H1405.7zM1433.4 208.9H1461.0V213.5H1433.4zM1461.0 190.7H1488.6V195.3H1461.0zM1488.6 149.8H1516.2V154.3H1488.6zM1488.6 177.1H1516.2V181.6H1488.6zM1516.2 158.9H1543.8V163.4H1516.2zM1516.2 204.4H1543.8V208.9H1516.2zM1543.8 158.9H1571.4V163.4H1543.8zM1543.8 172.5H1571.4V181.6H1543.8zM1543.8 186.2H1571.4V190.7H1543.8zM1543.8 199.8H1571.4V204.4H1543.8zM1571.4 149.8H1599.1V154.3H1571.4zM1571.4 236.2H1599.1V240.8H1571.4zM1599.1 204.4H1626.7V208.9H1599.1zM1626.7 245.3H1654.3V249.9H1626.7zM1681.9 195.3H1709.5V199.8H1681.9zM1681.9 208.9H1709.5V213.5H1681.9zM1709.5 195.3H1737.1V199.8H1709.5zM1764.8 231.7H1792.4V236.2H1764.8zM1792.4 213.5H1820.0V218.0H1792.4zM1792.4 240.8H1820.0V245.3H1792.4zM1792.4 263.5H1820.0V268.0H1792.4z"/><path fill="#e58368" d="M881.0 313.5H908.6V318.1H881.0zM881.0 659.1H908.6V663.7H881.0zM908.6 281.7H936.2V286.2H908.6zM908.6 381.7H936.2V386.3H908.6zM908.6 691.0H936.2V695.5H908.6zM963.9 372.6H991.5V377.2H963.9zM963.9 381.7H991.5V386.3H963.9zM963.9 581.8H991.5V586.4H963.9zM963.9 704.6H991.5V709.2H963.9zM991.5 381.7H1019.1V386.3H991.5zM1019.1 609.1H1046.7V613.7H1019.1zM1019.1 654.6H1046.7V659.1H1019.1zM1019.1 668.2H1046.7V672.8H1019.1zM1074.3 290.8H1101.9V295.3H1074.3zM1074.3 322.6H1101.9V327.2H1074.3zM1101.9 586.4H1129.6V590.9H1101.9zM1129.6 513.6H1157.2V518.2H1129.6zM1184.8 390.8H1212.4V395.4H1184.8zM1212.4 504.5H1240.0V509.1H1212.4zM1240.0 254.4H1267.6V258.9H1240.0zM1240.0 741.0H1267.6V745.6H1240.0zM1267.6 345.4H1295.3V349.9H1267.6zM1267.6 513.6H1295.3V518.2H1267.6zM1267.6 622.8H1295.3V627.3H1267.6zM1295.3 659.1H1322.9V663.7H1295.3zM1654.3 222.6H1681.9V227.1H1654.3z"/><path fill="#ea8e70" d="M881.0 318.1H908.6V322.6H881.0zM881.0 590.9H908.6V595.5H881.0zM908.6 418.1H936.2V422.7H908.6zM908.6 463.6H936.2V468.1H908.6zM963.9 354.4H991.5V359.0H963.9zM963.9 390.8H991.5V395.4H963.9zM991.5 609.1H1019.1V613.7H991.5zM1019.1 659.1H1046.7V663.7H1019.1zM1074.3 645.5H1101.9V654.6H1074.3zM1074.3 722.8H1101.9V727.4H1074.3zM1101.9 263.5H1129.6V268.0H1101.9zM1101.9 713.7H1129.6V718.3H1101.9zM1129.6 613.7H1157.2V618.2H1129.6zM1129.6 736.5H1157.2V741.0H1129.6zM1157.2 263.5H1184.8V268.0H1157.2zM1157.2 359.0H1184.8V363.5H1157.2zM1157.2 559.1H1184.8V568.2H1157.2zM1157.2 654.6H1184.8V659.1H1157.2zM1184.8 254.4H1212.4V258.9H1184.8zM1212.4 254.4H1240.0V258.9H1212.4zM1240.0 490.9H1267.6V495.4H1240.0zM1240.0 745.6H1267.6V750.1H1240.0zM1322.9 559.1H1350.5V563.6H1322.9zM1322.9 731.9H1350.5V736.5H1322.9zM1516.2 199.8H1543.8V204.4H1516.2zM1626.7 154.3H1654.3V158.9H1626.7z"/><path fill="#f8f3f0" d="M881.0 322.6H908.6V331.7H881.0zM881.0 340.8H908.6V345.4H881.0zM881.0 490.9H908.6V500.0H881.0zM881.0 545.5H908.6V550.0H881.0zM881.0 577.3H908.6V581.8H881.0zM881.0 704.6H908.6V709.2H881.0zM908.6 258.9H936.2V263.5H908.6zM908.6 322.6H936.2V327.2H908.6zM908.6 522.7H936.2V527.3H908.6zM908.6 545.5H936.2V554.6H908.6zM908.6 604.6H936.2V609.1H908.6zM908.6 613.7H936.2V622.8H908.6zM908.6 731.9H936.2V736.5H908.6zM936.2 290.8H963.9V295.3H936.2zM936.2 322.6H963.9V327.2H936.2zM936.2 418.1H963.9V422.7H936.2zM936.2 450.0H963.9V454.5H936.2zM936.2 540.9H963.9V545.5H936.2zM963.9 172.5H991.5V177.1H963.9zM963.9 359.0H991.5V363.5H963.9zM963.9 504.5H991.5V509.1H963.9zM963.9 531.8H991.5V536.4H963.9zM991.5 490.9H1019.1V495.4H991.5zM991.5 500.0H1019.1V504.5H991.5zM1019.1 509.1H1046.7V513.6H1019.1zM1019.1 572.7H1046.7V577.3H1019.1zM1019.1 713.7H1046.7V718.3H1019.1zM1046.7 331.7H1074.3V336.3H1046.7zM1046.7 486.3H1074.3V490.9H1046.7zM1046.7 504.5H1074.3V509.1H1046.7zM1046.7 513.6H1074.3V518.2H1046.7zM1074.3 254.4H1101.9V258.9H1074.3zM1074.3 377.2H1101.9V381.7H1074.3zM1074.3 395.4H1101.9V399.9H1074.3zM1074.3 422.7H1101.9V427.2H1074.3zM1101.9 277.1H1129.6V281.7H1101.9zM1101.9 313.5H1129.6V318.1H1101.9zM1101.9 349.9H1129.6V359.0H1101.9zM1129.6 268.0H1157.2V272.6H1129.6zM1129.6 345.4H1157.2V349.9H1129.6zM1129.6 377.2H1157.2V381.7H1129.6zM1129.6 477.2H1157.2V481.8H1129.6zM1129.6 577.3H1157.2V581.8H1129.6zM1157.2 631.9H1184.8V636.4H1157.2zM1184.8 545.5H1212.4V550.0H1184.8zM1184.8 568.2H1212.4V572.7H1184.8zM1184.8 609.1H1212.4V613.7H1184.8zM1184.8 627.3H1212.4V631.9H1184.8zM1184.8 645.5H1212.4V650.1H1184.8zM1184.8 709.2H1212.4V713.7H1184.8zM1184.8 727.4H1212.4V736.5H1184.8zM1212.4 386.3H1240.0V390.8H1212.4zM1212.4 559.1H1240.0V563.6H1212.4zM1212.4 641.0H1240.0V650.1H1212.4zM1240.0 304.4H1267.6V309.0H1240.0zM1240.0 468.1H1267.6V472.7H1240.0zM1267.6 504.5H1295.3V509.1H1267.6zM1267.6 554.6H1295.3V559.1H1267.6zM1267.6 568.2H1295.3V572.7H1267.6zM1267.6 581.8H1295.3V586.4H1267.6zM1267.6 595.5H1295.3V600.0H1267.6zM1267.6 604.6H1295.3V609.1H1267.6zM1267.6 641.0H1295.3V650.1H1267.6zM1267.6 668.2H1295.3V672.8H1267.6zM1267.6 681.9H1295.3V686.4H1267.6zM1295.3 354.4H1322.9V359.0H1295.3zM1295.3 490.9H1322.9V495.4H1295.3zM1295.3 504.5H1322.9V509.1H1295.3zM1295.3 531.8H1322.9V536.4H1295.3zM1295.3 568.2H1322.9V577.3H1295.3zM1295.3 663.7H1322.9V668.2H1295.3zM1295.3 709.2H1322.9V713.7H1295.3zM1322.9 304.4H1350.5V309.0H1322.9zM1322.9 363.5H1350.5V368.1H1322.9zM1322.9 399.9H1350.5V404.5H1322.9zM1322.9 472.7H1350.5V477.2H1322.9zM1322.9 504.5H1350.5V509.1H1322.9zM1322.9 695.5H1350.5V700.1H1322.9zM1322.9 750.1H1350.5V754.7H1322.9zM1350.5 240.8H1378.1V245.3H1350.5zM1350.5 495.4H1378.1V500.0H1350.5zM1378.1 168.0H1405.7V172.5H1378.1zM1378.1 227.1H1405.7V231.7H1378.1zM1405.7 181.6H1433.4V186.2H1405.7zM1405.7 245.3H1433.4V249.9H1405.7zM1405.7 254.4H1433.4V258.9H1405.7zM1405.7 663.7H1433.4V668.2H1405.7zM1433.4 172.5H1461.0V177.1H1433.4zM1461.0 436.3H1488.6V440.9H1461.0zM1488.6 163.4H1516.2V168.0H1488.6zM1516.2 700.1H1543.8V704.6H1516.2zM1543.8 227.1H1571.4V231.7H1543.8zM1543.8 240.8H1571.4V245.3H1543.8zM1543.8 372.6H1571.4V377.2H1543.8zM1571.4 554.6H1599.1V559.1H1571.4zM1571.4 700.1H1599.1V704.6H1571.4zM1599.1 440.9H1626.7V445.4H1599.1zM1599.1 450.0H1626.7V454.5H1599.1zM1599.1 536.4H1626.7V540.9H1599.1zM1599.1 550.0H1626.7V554.6H1599.1zM1599.1 663.7H1626.7V668.2H1599.1zM1626.7 731.9H1654.3V736.5H1626.7zM1654.3 731.9H1681.9V736.5H1654.3zM1681.9 168.0H1709.5V172.5H1681.9zM1681.9 231.7H1709.5V236.2H1681.9zM1681.9 272.6H1709.5V277.1H1681.9zM1681.9 472.7H1709.5V477.2H1681.9zM1709.5 231.7H1737.1V236.2H1709.5zM1709.5 495.4H1737.1V500.0H1709.5zM1737.1 168.0H1764.8V172.5H1737.1zM1737.1 236.2H1764.8V240.8H1737.1zM1737.1 354.4H1764.8V359.0H1737.1zM1737.1 395.4H1764.8V399.9H1737.1zM1737.1 695.5H1764.8V700.1H1737.1zM1764.8 154.3H1792.4V158.9H1764.8zM1764.8 168.0H1792.4V172.5H1764.8zM1764.8 668.2H1792.4V672.8H1764.8zM1792.4 468.1H1820.0V472.7H1792.4z"/><path fill="#3e8cbf" d="M881.0 331.7H908.6V336.3H881.0zM1350.5 631.9H1378.1V636.4H1350.5zM1350.5 672.8H1378.1V677.3H1350.5zM1350.5 691.0H1378.1V695.5H1350.5zM1350.5 709.2H1378.1V713.7H1350.5zM1378.1 490.9H1405.7V495.4H1378.1zM1378.1 745.6H1405.7V754.7H1378.1zM1405.7 459.0H1433.4V463.6H1405.7zM1405.7 481.8H1433.4V486.3H1405.7zM1405.7 668.2H1433.4V672.8H1405.7zM1405.7 727.4H1433.4V731.9H1405.7zM1461.0 618.2H1488.6V622.8H1461.0zM1571.4 272.6H1599.1V277.1H1571.4zM1599.1 268.0H1626.7V272.6H1599.1zM1599.1 700.1H1626.7V704.6H1599.1zM1654.3 563.6H1681.9V572.7H1654.3zM1681.9 463.6H1709.5V468.1H1681.9zM1709.5 636.4H1737.1V641.0H1709.5zM1737.1 627.3H1764.8V631.9H1737.1zM1764.8 368.1H1792.4V372.6H1764.8z"/><path fill="#f8f0ec" d="M881.0 345.4H908.6V349.9H881.0zM881.0 554.6H908.6V559.1H881.0zM881.0 581.8H908.6V586.4H881.0zM881.0 727.4H908.6V731.9H881.0zM908.6 263.5H936.2V272.6H908.6zM908.6 363.5H936.2V368.1H908.6zM908.6 477.2H936.2V481.8H908.6zM908.6 495.4H936.2V504.5H908.6zM908.6 590.9H936.2V595.5H908.6zM908.6 704.6H936.2V709.2H908.6zM936.2 340.8H963.9V345.4H936.2zM936.2 490.9H963.9V500.0H936.2zM936.2 709.2H963.9V718.3H936.2zM963.9 318.1H991.5V322.6H963.9zM963.9 327.2H991.5V331.7H963.9zM963.9 500.0H991.5V504.5H963.9zM963.9 536.4H991.5V540.9H963.9zM963.9 668.2H991.5V672.8H963.9zM991.5 249.9H1019.1V254.4H991.5zM991.5 263.5H1019.1V268.0H991.5zM991.5 286.2H1019.1V290.8H991.5zM991.5 354.4H1019.1V359.0H991.5zM991.5 386.3H1019.1V390.8H991.5zM991.5 404.5H1019.1V409.0H991.5zM991.5 436.3H1019.1V440.9H991.5zM991.5 536.4H1019.1V540.9H991.5zM991.5 586.4H1019.1V590.9H991.5zM1019.1 313.5H1046.7V318.1H1019.1zM1019.1 536.4H1046.7V540.9H1019.1zM1046.7 249.9H1074.3V254.4H1046.7zM1046.7 327.2H1074.3V331.7H1046.7zM1046.7 490.9H1074.3V495.4H1046.7zM1074.3 249.9H1101.9V254.4H1074.3zM1074.3 281.7H1101.9V290.8H1074.3zM1074.3 336.3H1101.9V340.8H1074.3zM1074.3 368.1H1101.9V372.6H1074.3zM1074.3 409.0H1101.9V413.6H1074.3zM1074.3 518.2H1101.9V522.7H1074.3zM1129.6 281.7H1157.2V286.2H1129.6zM1129.6 295.3H1157.2V299.9H1129.6zM1129.6 322.6H1157.2V327.2H1129.6zM1129.6 381.7H1157.2V386.3H1129.6zM1129.6 463.6H1157.2V468.1H1129.6zM1129.6 704.6H1157.2V713.7H1129.6zM1157.2 518.2H1184.8V522.7H1157.2zM1157.2 700.1H1184.8V704.6H1157.2zM1184.8 513.6H1212.4V518.2H1184.8zM1184.8 581.8H1212.4V586.4H1184.8zM1212.4 263.5H1240.0V272.6H1212.4zM1212.4 468.1H1240.0V472.7H1212.4zM1212.4 568.2H1240.0V572.7H1212.4zM1212.4 590.9H1240.0V595.5H1212.4zM1212.4 613.7H1240.0V618.2H1212.4zM1212.4 636.4H1240.0V641.0H1212.4zM1240.0 313.5H1267.6V318.1H1240.0zM1240.0 463.6H1267.6V468.1H1240.0zM1240.0 613.7H1267.6V622.8H1240.0zM1267.6 304.4H1295.3V309.0H1267.6zM1267.6 531.8H1295.3V536.4H1267.6zM1267.6 563.6H1295.3V568.2H1267.6zM1267.6 636.4H1295.3V641.0H1267.6zM1267.6 722.8H1295.3V731.9H1267.6zM1295.3 272.6H1322.9V277.1H1295.3zM1295.3 340.8H1322.9V345.4H1295.3zM1295.3 509.1H1322.9V513.6H1295.3zM1295.3 527.3H1322.9V531.8H1295.3zM1295.3 540.9H1322.9V550.0H1295.3zM1295.3 586.4H1322.9V590.9H1295.3zM1295.3 613.7H1322.9V618.2H1295.3zM1295.3 645.5H1322.9V650.1H1295.3zM1295.3 686.4H1322.9V691.0H1295.3zM1295.3 718.3H1322.9V722.8H1295.3zM1322.9 431.8H1350.5V436.3H1322.9zM1322.9 481.8H1350.5V486.3H1322.9zM1322.9 595.5H1350.5V604.6H1322.9zM1322.9 709.2H1350.5V713.7H1322.9zM1350.5 245.3H1378.1V249.9H1350.5zM1378.1 172.5H1405.7V181.6H1378.1zM1378.1 199.8H1405.7V204.4H1378.1zM1405.7 231.7H1433.4V236.2H1405.7zM1488.6 199.8H1516.2V204.4H1488.6zM1488.6 227.1H1516.2V231.7H1488.6zM1488.6 245.3H1516.2V249.9H1488.6zM1543.8 222.6H1571.4V227.1H1543.8zM1571.4 190.7H1599.1V195.3H1571.4zM1571.4 218.0H1599.1V222.6H1571.4zM1599.1 154.3H1626.7V158.9H1599.1zM1599.1 186.2H1626.7V190.7H1599.1zM1764.8 227.1H1792.4V231.7H1764.8z"/><path fill="#fdd9c4" d="M881.0 349.9H908.6V354.4H881.0zM881.0 390.8H908.6V395.4H881.0zM881.0 431.8H908.6V436.3H881.0zM881.0 531.8H908.6V536.4H881.0zM881.0 609.1H908.6V613.7H881.0zM908.6 272.6H936.2V277.1H908.6zM908.6 327.2H936.2V331.7H908.6zM908.6 372.6H936.2V377.2H908.6zM908.6 399.9H936.2V404.5H908.6zM908.6 413.6H936.2V418.1H908.6zM908.6 450.0H936.2V454.5H908.6zM908.6 486.3H936.2V490.9H908.6zM908.6 563.6H936.2V568.2H908.6zM908.6 572.7H936.2V577.3H908.6zM908.6 645.5H936.2V650.1H908.6zM908.6 713.7H936.2V718.3H908.6zM908.6 741.0H936.2V745.6H908.6zM908.6 754.7H936.2V759.2H908.6zM936.2 263.5H963.9V268.0H936.2zM936.2 272.6H963.9V277.1H936.2zM936.2 281.7H963.9V286.2H936.2zM936.2 349.9H963.9V354.4H936.2zM936.2 390.8H963.9V395.4H936.2zM936.2 409.0H963.9V413.6H936.2zM936.2 436.3H963.9V440.9H936.2zM936.2 727.4H963.9V731.9H936.2zM963.9 258.9H991.5V263.5H963.9zM963.9 395.4H991.5V399.9H963.9zM963.9 404.5H991.5V409.0H963.9zM963.9 641.0H991.5V645.5H963.9zM963.9 677.3H991.5V681.9H963.9zM991.5 322.6H1019.1V327.2H991.5zM991.5 450.0H1019.1V454.5H991.5zM991.5 627.3H1019.1V631.9H991.5zM991.5 641.0H1019.1V645.5H991.5zM991.5 659.1H1019.1V663.7H991.5zM991.5 691.0H1019.1V695.5H991.5zM991.5 745.6H1019.1V750.1H991.5zM991.5 754.7H1019.1V759.2H991.5zM1019.1 277.1H1046.7V286.2H1019.1zM1019.1 309.0H1046.7V313.5H1019.1zM1019.1 322.6H1046.7V327.2H1019.1zM1019.1 363.5H1046.7V368.1H1019.1zM1019.1 395.4H1046.7V399.9H1019.1zM1019.1 418.1H1046.7V427.2H1019.1zM1019.1 468.1H1046.7V472.7H1019.1zM1019.1 559.1H1046.7V563.6H1019.1zM1019.1 613.7H1046.7V618.2H1019.1zM1019.1 622.8H1046.7V627.3H1019.1zM1019.1 704.6H1046.7V709.2H1019.1zM1046.7 272.6H1074.3V277.1H1046.7zM1046.7 295.3H1074.3V299.9H1046.7zM1046.7 372.6H1074.3V377.2H1046.7zM1046.7 436.3H1074.3V440.9H1046.7zM1046.7 450.0H1074.3V459.0H1046.7zM1046.7 522.7H1074.3V527.3H1046.7zM1046.7 531.8H1074.3V540.9H1046.7zM1046.7 604.6H1074.3V609.1H1046.7zM1046.7 631.9H1074.3V636.4H1046.7zM1046.7 663.7H1074.3V668.2H1046.7zM1046.7 691.0H1074.3V695.5H1046.7zM1046.7 727.4H1074.3V731.9H1046.7zM1046.7 745.6H1074.3V750.1H1046.7zM1074.3 413.6H1101.9V418.1H1074.3zM1074.3 754.7H1101.9V759.2H1074.3zM1101.9 268.0H1129.6V272.6H1101.9zM1101.9 372.6H1129.6V377.2H1101.9zM1101.9 413.6H1129.6V422.7H1101.9zM1101.9 431.8H1129.6V436.3H1101.9zM1101.9 522.7H1129.6V527.3H1101.9zM1101.9 545.5H1129.6V550.0H1101.9zM1101.9 622.8H1129.6V627.3H1101.9zM1101.9 668.2H1129.6V672.8H1101.9zM1101.9 718.3H1129.6V727.4H1101.9zM1129.6 277.1H1157.2V281.7H1129.6zM1129.6 522.7H1157.2V527.3H1129.6zM1129.6 609.1H1157.2V613.7H1129.6zM1129.6 681.9H1157.2V686.4H1129.6zM1129.6 700.1H1157.2V704.6H1129.6zM1129.6 727.4H1157.2V731.9H1129.6zM1157.2 299.9H1184.8V304.4H1157.2zM1157.2 381.7H1184.8V386.3H1157.2zM1157.2 390.8H1184.8V404.5H1157.2zM1157.2 463.6H1184.8V468.1H1157.2zM1157.2 586.4H1184.8V590.9H1157.2zM1157.2 672.8H1184.8V677.3H1157.2zM1157.2 731.9H1184.8V736.5H1157.2zM1184.8 327.2H1212.4V331.7H1184.8zM1184.8 354.4H1212.4V359.0H1184.8zM1184.8 472.7H1212.4V477.2H1184.8zM1184.8 536.4H1212.4V540.9H1184.8zM1184.8 572.7H1212.4V577.3H1184.8zM1184.8 663.7H1212.4V668.2H1184.8zM1184.8 672.8H1212.4V677.3H1184.8zM1212.4 249.9H1240.0V254.4H1212.4zM1212.4 290.8H1240.0V295.3H1212.4zM1212.4 336.3H1240.0V340.8H1212.4zM1212.4 368.1H1240.0V372.6H1212.4zM1212.4 422.7H1240.0V427.2H1212.4zM1212.4 440.9H1240.0V445.4H1212.4zM1212.4 513.6H1240.0V518.2H1212.4zM1212.4 545.5H1240.0V550.0H1212.4zM1212.4 581.8H1240.0V586.4H1212.4zM1212.4 622.8H1240.0V631.9H1212.4zM1212.4 672.8H1240.0V677.3H1212.4zM1212.4 681.9H1240.0V686.4H1212.4zM1212.4 709.2H1240.0V713.7H1212.4zM1240.0 272.6H1267.6V277.1H1240.0zM1240.0 359.0H1267.6V363.5H1240.0zM1240.0 395.4H1267.6V399.9H1240.0zM1240.0 431.8H1267.6V436.3H1240.0zM1240.0 531.8H1267.6V536.4H1240.0zM1240.0 595.5H1267.6V600.0H1240.0zM1240.0 663.7H1267.6V668.2H1240.0zM1240.0 681.9H1267.6V686.4H1240.0zM1267.6 272.6H1295.3V277.1H1267.6zM1267.6 286.2H1295.3V290.8H1267.6zM1267.6 490.9H1295.3V495.4H1267.6zM1295.3 268.0H1322.9V272.6H1295.3zM1295.3 404.5H1322.9V409.0H1295.3zM1295.3 418.1H1322.9V422.7H1295.3zM1295.3 650.1H1322.9V654.6H1295.3zM1295.3 672.8H1322.9V677.3H1295.3zM1295.3 681.9H1322.9V686.4H1295.3zM1295.3 722.8H1322.9V727.4H1295.3zM1295.3 745.6H1322.9V750.1H1295.3zM1322.9 377.2H1350.5V381.7H1322.9zM1322.9 413.6H1350.5V418.1H1322.9zM1322.9 422.7H1350.5V427.2H1322.9zM1322.9 577.3H1350.5V581.8H1322.9zM1322.9 722.8H1350.5V727.4H1322.9zM1350.5 154.3H1378.1V158.9H1350.5zM1350.5 236.2H1378.1V240.8H1350.5zM1350.5 322.6H1378.1V327.2H1350.5zM1433.4 163.4H1461.0V168.0H1433.4zM1433.4 190.7H1461.0V195.3H1433.4zM1488.6 181.6H1516.2V190.7H1488.6zM1488.6 208.9H1516.2V213.5H1488.6zM1488.6 218.0H1516.2V222.6H1488.6zM1516.2 168.0H1543.8V172.5H1516.2zM1516.2 222.6H1543.8V227.1H1516.2zM1516.2 240.8H1543.8V249.9H1516.2zM1543.8 154.3H1571.4V158.9H1543.8zM1543.8 190.7H1571.4V195.3H1543.8zM1571.4 213.5H1599.1V218.0H1571.4zM1571.4 245.3H1599.1V249.9H1571.4zM1599.1 213.5H1626.7V218.0H1599.1zM1599.1 236.2H1626.7V240.8H1599.1zM1599.1 245.3H1626.7V249.9H1599.1zM1654.3 158.9H1681.9V163.4H1654.3zM1654.3 168.0H1681.9V172.5H1654.3zM1654.3 195.3H1681.9V199.8H1654.3zM1654.3 650.1H1681.9V654.6H1654.3zM1681.9 181.6H1709.5V186.2H1681.9zM1681.9 258.9H1709.5V263.5H1681.9zM1709.5 213.5H1737.1V218.0H1709.5zM1737.1 231.7H1764.8V236.2H1737.1zM1737.1 249.9H1764.8V254.4H1737.1zM1764.8 158.9H1792.4V163.4H1764.8zM1764.8 236.2H1792.4V240.8H1764.8zM1792.4 204.4H1820.0V208.9H1792.4z"/><path fill="#f6b292" d="M881.0 359.0H908.6V363.5H881.0zM881.0 550.0H908.6V554.6H881.0zM881.0 650.1H908.6V654.6H881.0zM881.0 668.2H908.6V672.8H881.0zM908.6 718.3H936.2V722.8H908.6zM936.2 295.3H963.9V299.9H936.2zM936.2 600.0H963.9V604.6H936.2zM936.2 636.4H963.9V641.0H936.2zM936.2 731.9H963.9V736.5H936.2zM963.9 295.3H991.5V299.9H963.9zM963.9 445.4H991.5V450.0H963.9zM963.9 472.7H991.5V477.2H963.9zM963.9 650.1H991.5V654.6H963.9zM991.5 468.1H1019.1V472.7H991.5zM1019.1 436.3H1046.7V440.9H1019.1zM1019.1 586.4H1046.7V590.9H1019.1zM1019.1 631.9H1046.7V636.4H1019.1zM1019.1 672.8H1046.7V681.9H1019.1zM1019.1 741.0H1046.7V745.6H1019.1zM1074.3 427.2H1101.9V431.8H1074.3zM1074.3 595.5H1101.9V600.0H1074.3zM1074.3 731.9H1101.9V736.5H1074.3zM1101.9 427.2H1129.6V431.8H1101.9zM1101.9 450.0H1129.6V454.5H1101.9zM1101.9 495.4H1129.6V504.5H1101.9zM1129.6 481.8H1157.2V486.3H1129.6zM1129.6 509.1H1157.2V513.6H1129.6zM1129.6 545.5H1157.2V550.0H1129.6zM1157.2 377.2H1184.8V381.7H1157.2zM1157.2 468.1H1184.8V472.7H1157.2zM1157.2 504.5H1184.8V509.1H1157.2zM1157.2 722.8H1184.8V727.4H1157.2zM1184.8 386.3H1212.4V390.8H1184.8zM1184.8 404.5H1212.4V409.0H1184.8zM1184.8 477.2H1212.4V481.8H1184.8zM1184.8 577.3H1212.4V581.8H1184.8zM1212.4 454.5H1240.0V459.0H1212.4zM1212.4 700.1H1240.0V704.6H1212.4zM1240.0 340.8H1267.6V345.4H1240.0zM1240.0 504.5H1267.6V509.1H1240.0zM1240.0 704.6H1267.6V713.7H1240.0zM1240.0 718.3H1267.6V727.4H1240.0zM1267.6 691.0H1295.3V695.5H1267.6zM1295.3 286.2H1322.9V290.8H1295.3zM1295.3 618.2H1322.9V622.8H1295.3zM1322.9 436.3H1350.5V440.9H1322.9zM1322.9 540.9H1350.5V545.5H1322.9zM1322.9 563.6H1350.5V568.2H1322.9zM1322.9 618.2H1350.5V622.8H1322.9zM1571.4 186.2H1599.1V190.7H1571.4zM1626.7 149.8H1654.3V154.3H1626.7zM1654.3 149.8H1681.9V154.3H1654.3zM1654.3 231.7H1681.9V236.2H1654.3zM1681.9 222.6H1709.5V227.1H1681.9zM1764.8 222.6H1792.4V227.1H1764.8z"/><path fill="#deebf2" d="M881.0 454.5H908.6V459.0H881.0zM908.6 163.4H936.2V168.0H908.6zM908.6 527.3H936.2V531.8H908.6zM908.6 559.1H936.2V563.6H908.6zM963.9 218.0H991.5V222.6H963.9zM963.9 486.3H991.5V490.9H963.9zM963.9 604.6H991.5V609.1H963.9zM991.5 163.4H1019.1V172.5H991.5zM991.5 204.4H1019.1V208.9H991.5zM991.5 213.5H1019.1V218.0H991.5zM991.5 245.3H1019.1V249.9H991.5zM991.5 504.5H1019.1V509.1H991.5zM991.5 513.6H1019.1V518.2H991.5zM991.5 554.6H1019.1V559.1H991.5zM991.5 590.9H1019.1V595.5H991.5zM991.5 604.6H1019.1V609.1H991.5zM1019.1 199.8H1046.7V204.4H1019.1zM1019.1 218.0H1046.7V222.6H1019.1zM1019.1 245.3H1046.7V249.9H1019.1zM1046.7 149.8H1074.3V158.9H1046.7zM1074.3 172.5H1101.9V177.1H1074.3zM1074.3 213.5H1101.9V218.0H1074.3zM1101.9 163.4H1129.6V168.0H1101.9zM1101.9 222.6H1129.6V227.1H1101.9zM1129.6 186.2H1157.2V190.7H1129.6zM1157.2 204.4H1184.8V208.9H1157.2zM1184.8 236.2H1212.4V240.8H1184.8zM1184.8 550.0H1212.4V554.6H1184.8zM1212.4 154.3H1240.0V158.9H1212.4zM1212.4 245.3H1240.0V249.9H1212.4zM1240.0 186.2H1267.6V190.7H1240.0zM1240.0 195.3H1267.6V199.8H1240.0zM1240.0 213.5H1267.6V218.0H1240.0zM1240.0 236.2H1267.6V240.8H1240.0zM1240.0 245.3H1267.6V249.9H1240.0zM1267.6 168.0H1295.3V172.5H1267.6zM1267.6 195.3H1295.3V199.8H1267.6zM1267.6 299.9H1295.3V304.4H1267.6zM1267.6 500.0H1295.3V504.5H1267.6zM1295.3 158.9H1322.9V168.0H1295.3zM1295.3 204.4H1322.9V208.9H1295.3zM1295.3 245.3H1322.9V249.9H1295.3zM1295.3 481.8H1322.9V486.3H1295.3zM1295.3 691.0H1322.9V695.5H1295.3zM1322.9 163.4H1350.5V172.5H1322.9zM1322.9 177.1H1350.5V181.6H1322.9zM1322.9 313.5H1350.5V318.1H1322.9zM1322.9 404.5H1350.5V409.0H1322.9zM1378.1 254.4H1405.7V258.9H1378.1zM1378.1 286.2H1405.7V290.8H1378.1zM1378.1 304.4H1405.7V309.0H1378.1zM1378.1 363.5H1405.7V368.1H1378.1zM1378.1 395.4H1405.7V399.9H1378.1zM1378.1 568.2H1405.7V572.7H1378.1zM1405.7 277.1H1433.4V281.7H1405.7zM1405.7 340.8H1433.4V345.4H1405.7zM1405.7 409.0H1433.4V413.6H1405.7zM1405.7 445.4H1433.4V450.0H1405.7zM1405.7 477.2H1433.4V481.8H1405.7zM1405.7 509.1H1433.4V513.6H1405.7zM1433.4 295.3H1461.0V299.9H1433.4zM1433.4 531.8H1461.0V536.4H1433.4zM1433.4 627.3H1461.0V631.9H1433.4zM1433.4 636.4H1461.0V641.0H1433.4zM1433.4 681.9H1461.0V686.4H1433.4zM1433.4 750.1H1461.0V759.2H1433.4zM1461.0 336.3H1488.6V345.4H1461.0zM1461.0 450.0H1488.6V454.5H1461.0zM1461.0 504.5H1488.6V509.1H1461.0zM1461.0 518.2H1488.6V522.7H1461.0zM1461.0 527.3H1488.6V531.8H1461.0zM1461.0 540.9H1488.6V545.5H1461.0zM1461.0 641.0H1488.6V645.5H1461.0zM1461.0 686.4H1488.6V691.0H1461.0zM1461.0 745.6H1488.6V754.7H1461.0zM1488.6 263.5H1516.2V268.0H1488.6zM1488.6 286.2H1516.2V290.8H1488.6zM1488.6 336.3H1516.2V340.8H1488.6zM1488.6 354.4H1516.2V359.0H1488.6zM1488.6 381.7H1516.2V386.3H1488.6zM1488.6 627.3H1516.2V631.9H1488.6zM1516.2 427.2H1543.8V431.8H1516.2zM1516.2 459.0H1543.8V463.6H1516.2zM1516.2 504.5H1543.8V509.1H1516.2zM1516.2 540.9H1543.8V545.5H1516.2zM1516.2 581.8H1543.8V586.4H1516.2zM1516.2 613.7H1543.8V618.2H1516.2zM1516.2 627.3H1543.8V631.9H1516.2zM1516.2 641.0H1543.8V645.5H1516.2zM1516.2 745.6H1543.8V750.1H1516.2zM1543.8 390.8H1571.4V395.4H1543.8zM1543.8 422.7H1571.4V427.2H1543.8zM1543.8 431.8H1571.4V436.3H1543.8zM1543.8 468.1H1571.4V472.7H1543.8zM1543.8 522.7H1571.4V527.3H1543.8zM1543.8 545.5H1571.4V550.0H1543.8zM1543.8 572.7H1571.4V581.8H1543.8zM1543.8 586.4H1571.4V590.9H1543.8zM1543.8 622.8H1571.4V627.3H1543.8zM1543.8 668.2H1571.4V672.8H1543.8zM1543.8 686.4H1571.4V691.0H1543.8zM1543.8 718.3H1571.4V722.8H1543.8zM1543.8 750.1H1571.4V759.2H1543.8zM1571.4 258.9H1599.1V263.5H1571.4zM1571.4 290.8H1599.1V295.3H1571.4zM1571.4 395.4H1599.1V399.9H1571.4zM1571.4 459.0H1599.1V463.6H1571.4zM1571.4 604.6H1599.1V609.1H1571.4zM1571.4 636.4H1599.1V641.0H1571.4zM1571.4 681.9H1599.1V691.0H1571.4zM1571.4 722.8H1599.1V727.4H1571.4zM1571.4 731.9H1599.1V736.5H1571.4zM1571.4 750.1H1599.1V754.7H1571.4zM1599.1 222.6H1626.7V227.1H1599.1zM1599.1 304.4H1626.7V313.5H1599.1zM1599.1 486.3H1626.7V490.9H1599.1zM1599.1 518.2H1626.7V522.7H1599.1zM1599.1 540.9H1626.7V545.5H1599.1zM1599.1 590.9H1626.7V595.5H1599.1zM1599.1 645.5H1626.7V650.1H1599.1zM1626.7 368.1H1654.3V372.6H1626.7zM1626.7 477.2H1654.3V481.8H1626.7zM1626.7 531.8H1654.3V536.4H1626.7zM1654.3 268.0H1681.9V272.6H1654.3zM1654.3 304.4H1681.9V309.0H1654.3zM1654.3 431.8H1681.9V436.3H1654.3zM1654.3 463.6H1681.9V472.7H1654.3zM1654.3 522.7H1681.9V527.3H1654.3zM1654.3 668.2H1681.9V672.8H1654.3zM1681.9 309.0H1709.5V313.5H1681.9zM1681.9 331.7H1709.5V336.3H1681.9zM1681.9 468.1H1709.5V472.7H1681.9zM1681.9 477.2H1709.5V481.8H1681.9zM1681.9 500.0H1709.5V504.5H1681.9zM1681.9 518.2H1709.5V522.7H1681.9zM1681.9 531.8H1709.5V536.4H1681.9zM1681.9 663.7H1709.5V668.2H1681.9zM1681.9 672.8H1709.5V677.3H1681.9zM1681.9 731.9H1709.5V736.5H1681.9zM1681.9 754.7H1709.5V759.2H1681.9zM1709.5 263.5H1737.1V268.0H1709.5zM1709.5 272.6H1737.1V277.1H1709.5zM1709.5 281.7H1737.1V286.2H1709.5zM1709.5 304.4H1737.1V309.0H1709.5zM1709.5 318.1H1737.1V322.6H1709.5zM1709.5 340.8H1737.1V345.4H1709.5zM1709.5 504.5H1737.1V509.1H1709.5zM1709.5 609.1H1737.1V613.7H1709.5zM1737.1 304.4H1764.8V309.0H1737.1zM1737.1 327.2H1764.8V331.7H1737.1zM1737.1 363.5H1764.8V368.1H1737.1zM1737.1 372.6H1764.8V377.2H1737.1zM1737.1 409.0H1764.8V413.6H1737.1zM1737.1 450.0H1764.8V459.0H1737.1zM1737.1 641.0H1764.8V645.5H1737.1zM1737.1 754.7H1764.8V759.2H1737.1zM1764.8 313.5H1792.4V318.1H1764.8zM1764.8 527.3H1792.4V531.8H1764.8zM1764.8 568.2H1792.4V572.7H1764.8zM1764.8 686.4H1792.4V691.0H1764.8zM1792.4 277.1H1820.0V281.7H1792.4zM1792.4 386.3H1820.0V390.8H1792.4zM1792.4 668.2H1820.0V672.8H1792.4z"/><path fill="#f7f5f3" d="M881.0 472.7H908.6V477.2H881.0zM881.0 586.4H908.6V590.9H881.0zM881.0 622.8H908.6V631.9H881.0zM908.6 195.3H936.2V199.8H908.6zM908.6 700.1H936.2V704.6H908.6zM908.6 709.2H936.2V713.7H908.6zM908.6 722.8H936.2V727.4H908.6zM936.2 318.1H963.9V322.6H936.2zM936.2 363.5H963.9V368.1H936.2zM936.2 386.3H963.9V390.8H936.2zM936.2 422.7H963.9V427.2H936.2zM936.2 459.0H963.9V463.6H936.2zM936.2 645.5H963.9V650.1H936.2zM936.2 691.0H963.9V700.1H936.2zM936.2 718.3H963.9V722.8H936.2zM936.2 750.1H963.9V754.7H936.2zM963.9 340.8H991.5V349.9H963.9zM963.9 386.3H991.5V390.8H963.9zM963.9 545.5H991.5V550.0H963.9zM991.5 349.9H1019.1V354.4H991.5zM991.5 395.4H1019.1V399.9H991.5zM991.5 527.3H1019.1V536.4H991.5zM991.5 540.9H1019.1V550.0H991.5zM991.5 572.7H1019.1V577.3H991.5zM991.5 581.8H1019.1V586.4H991.5zM991.5 722.8H1019.1V727.4H991.5zM991.5 736.5H1019.1V741.0H991.5zM1019.1 349.9H1046.7V354.4H1019.1zM1019.1 359.0H1046.7V363.5H1019.1zM1019.1 386.3H1046.7V390.8H1019.1zM1019.1 427.2H1046.7V431.8H1019.1zM1019.1 486.3H1046.7V490.9H1019.1zM1019.1 595.5H1046.7V600.0H1019.1zM1074.3 309.0H1101.9V318.1H1074.3zM1074.3 572.7H1101.9V577.3H1074.3zM1074.3 609.1H1101.9V613.7H1074.3zM1101.9 254.4H1129.6V258.9H1101.9zM1101.9 272.6H1129.6V277.1H1101.9zM1101.9 322.6H1129.6V327.2H1101.9zM1101.9 368.1H1129.6V372.6H1101.9zM1101.9 654.6H1129.6V659.1H1101.9zM1129.6 309.0H1157.2V313.5H1129.6zM1129.6 327.2H1157.2V331.7H1129.6zM1129.6 372.6H1157.2V377.2H1129.6zM1129.6 459.0H1157.2V463.6H1129.6zM1129.6 622.8H1157.2V631.9H1129.6zM1157.2 327.2H1184.8V331.7H1157.2zM1157.2 618.2H1184.8V622.8H1157.2zM1157.2 641.0H1184.8V645.5H1157.2zM1184.8 268.0H1212.4V272.6H1184.8zM1184.8 436.3H1212.4V440.9H1184.8zM1184.8 463.6H1212.4V468.1H1184.8zM1184.8 622.8H1212.4V627.3H1184.8zM1212.4 563.6H1240.0V568.2H1212.4zM1240.0 654.6H1267.6V663.7H1240.0zM1267.6 163.4H1295.3V168.0H1267.6zM1267.6 322.6H1295.3V327.2H1267.6zM1267.6 336.3H1295.3V340.8H1267.6zM1267.6 590.9H1295.3V595.5H1267.6zM1267.6 600.0H1295.3V604.6H1267.6zM1267.6 631.9H1295.3V636.4H1267.6zM1267.6 659.1H1295.3V663.7H1267.6zM1267.6 677.3H1295.3V681.9H1267.6zM1267.6 695.5H1295.3V700.1H1267.6zM1295.3 290.8H1322.9V299.9H1295.3zM1295.3 345.4H1322.9V354.4H1295.3zM1295.3 513.6H1322.9V518.2H1295.3zM1295.3 554.6H1322.9V559.1H1295.3zM1295.3 563.6H1322.9V568.2H1295.3zM1295.3 604.6H1322.9V609.1H1295.3zM1295.3 631.9H1322.9V636.4H1295.3zM1322.9 181.6H1350.5V186.2H1322.9zM1322.9 409.0H1350.5V413.6H1322.9zM1322.9 527.3H1350.5V531.8H1322.9zM1322.9 686.4H1350.5V691.0H1322.9zM1350.5 227.1H1378.1V231.7H1350.5zM1350.5 349.9H1378.1V354.4H1350.5zM1350.5 481.8H1378.1V486.3H1350.5zM1350.5 586.4H1378.1V590.9H1350.5zM1378.1 154.3H1405.7V163.4H1378.1zM1378.1 268.0H1405.7V272.6H1378.1zM1405.7 213.5H1433.4V218.0H1405.7zM1405.7 236.2H1433.4V240.8H1405.7zM1433.4 222.6H1461.0V227.1H1433.4zM1433.4 245.3H1461.0V249.9H1433.4zM1433.4 268.0H1461.0V272.6H1433.4zM1461.0 158.9H1488.6V168.0H1461.0zM1516.2 177.1H1543.8V181.6H1516.2zM1516.2 399.9H1543.8V404.5H1516.2zM1516.2 409.0H1543.8V413.6H1516.2zM1516.2 495.4H1543.8V500.0H1516.2zM1543.8 254.4H1571.4V263.5H1543.8zM1543.8 691.0H1571.4V695.5H1543.8zM1543.8 700.1H1571.4V704.6H1543.8zM1571.4 559.1H1599.1V563.6H1571.4zM1571.4 577.3H1599.1V586.4H1571.4zM1599.1 372.6H1626.7V377.2H1599.1zM1599.1 500.0H1626.7V504.5H1599.1zM1599.1 509.1H1626.7V513.6H1599.1zM1599.1 568.2H1626.7V572.7H1599.1zM1599.1 577.3H1626.7V581.8H1599.1zM1599.1 586.4H1626.7V590.9H1599.1zM1599.1 718.3H1626.7V722.8H1599.1zM1599.1 741.0H1626.7V745.6H1599.1zM1626.7 177.1H1654.3V181.6H1626.7zM1626.7 450.0H1654.3V454.5H1626.7zM1681.9 172.5H1709.5V177.1H1681.9zM1681.9 318.1H1709.5V322.6H1681.9zM1681.9 572.7H1709.5V581.8H1681.9zM1681.9 659.1H1709.5V663.7H1681.9zM1681.9 722.8H1709.5V731.9H1681.9zM1709.5 158.9H1737.1V163.4H1709.5zM1709.5 236.2H1737.1V240.8H1709.5zM1709.5 286.2H1737.1V290.8H1709.5zM1709.5 500.0H1737.1V504.5H1709.5zM1709.5 709.2H1737.1V713.7H1709.5zM1737.1 240.8H1764.8V249.9H1737.1zM1737.1 268.0H1764.8V272.6H1737.1zM1737.1 713.7H1764.8V718.3H1737.1zM1764.8 254.4H1792.4V258.9H1764.8zM1764.8 600.0H1792.4V604.6H1764.8zM1764.8 609.1H1792.4V618.2H1764.8zM1792.4 154.3H1820.0V158.9H1792.4zM1792.4 181.6H1820.0V186.2H1792.4zM1792.4 295.3H1820.0V299.9H1792.4zM1792.4 454.5H1820.0V459.0H1792.4zM1792.4 509.1H1820.0V513.6H1792.4zM1792.4 536.4H1820.0V540.9H1792.4zM1792.4 590.9H1820.0V595.5H1792.4zM1792.4 618.2H1820.0V622.8H1792.4zM1792.4 631.9H1820.0V641.0H1792.4zM1792.4 718.3H1820.0V722.8H1792.4z"/><path fill="#f9ece4" d="M881.0 513.6H908.6V518.2H881.0zM963.9 718.3H991.5V722.8H963.9zM1019.1 390.8H1046.7V395.4H1019.1zM1074.3 372.6H1101.9V377.2H1074.3zM1074.3 727.4H1101.9V731.9H1074.3zM1101.9 359.0H1129.6V363.5H1101.9zM1157.2 277.1H1184.8V281.7H1157.2zM1157.2 627.3H1184.8V631.9H1157.2zM1184.8 509.1H1212.4V513.6H1184.8zM1212.4 390.8H1240.0V395.4H1212.4zM1240.0 309.0H1267.6V313.5H1240.0zM1295.3 377.2H1322.9V381.7H1295.3zM1295.3 536.4H1322.9V540.9H1295.3zM1322.9 613.7H1350.5V618.2H1322.9zM1322.9 663.7H1350.5V668.2H1322.9zM1488.6 240.8H1516.2V245.3H1488.6z"/><path fill="#aad1e5" d="M881.0 540.9H908.6V545.5H881.0zM908.6 504.5H936.2V509.1H908.6zM1267.6 650.1H1295.3V654.6H1267.6zM1295.3 577.3H1322.9V581.8H1295.3zM1322.9 645.5H1350.5V650.1H1322.9zM1350.5 545.5H1378.1V550.0H1350.5zM1378.1 340.8H1405.7V345.4H1378.1zM1378.1 381.7H1405.7V390.8H1378.1zM1378.1 459.0H1405.7V463.6H1378.1zM1378.1 486.3H1405.7V490.9H1378.1zM1378.1 509.1H1405.7V513.6H1378.1zM1378.1 586.4H1405.7V590.9H1378.1zM1405.7 568.2H1433.4V577.3H1405.7zM1405.7 613.7H1433.4V618.2H1405.7zM1433.4 258.9H1461.0V263.5H1433.4zM1433.4 445.4H1461.0V450.0H1433.4zM1433.4 468.1H1461.0V472.7H1433.4zM1433.4 559.1H1461.0V568.2H1433.4zM1433.4 645.5H1461.0V650.1H1433.4zM1433.4 700.1H1461.0V704.6H1433.4zM1461.0 440.9H1488.6V445.4H1461.0zM1461.0 668.2H1488.6V672.8H1461.0zM1488.6 304.4H1516.2V309.0H1488.6zM1488.6 409.0H1516.2V413.6H1488.6zM1488.6 459.0H1516.2V463.6H1488.6zM1488.6 595.5H1516.2V604.6H1488.6zM1488.6 668.2H1516.2V672.8H1488.6zM1488.6 695.5H1516.2V700.1H1488.6zM1488.6 713.7H1516.2V718.3H1488.6zM1516.2 372.6H1543.8V377.2H1516.2zM1516.2 381.7H1543.8V386.3H1516.2zM1516.2 422.7H1543.8V427.2H1516.2zM1516.2 436.3H1543.8V440.9H1516.2zM1516.2 609.1H1543.8V613.7H1516.2zM1516.2 654.6H1543.8V663.7H1516.2zM1516.2 672.8H1543.8V677.3H1516.2zM1516.2 686.4H1543.8V691.0H1516.2zM1516.2 713.7H1543.8V718.3H1516.2zM1543.8 286.2H1571.4V290.8H1543.8zM1543.8 349.9H1571.4V354.4H1543.8zM1543.8 427.2H1571.4V431.8H1543.8zM1543.8 440.9H1571.4V445.4H1543.8zM1543.8 463.6H1571.4V468.1H1543.8zM1543.8 550.0H1571.4V554.6H1543.8zM1571.4 268.0H1599.1V272.6H1571.4zM1571.4 277.1H1599.1V281.7H1571.4zM1571.4 304.4H1599.1V309.0H1571.4zM1571.4 368.1H1599.1V372.6H1571.4zM1571.4 386.3H1599.1V390.8H1571.4zM1571.4 654.6H1599.1V659.1H1571.4zM1571.4 727.4H1599.1V731.9H1571.4zM1599.1 359.0H1626.7V363.5H1599.1zM1599.1 613.7H1626.7V618.2H1599.1zM1626.7 386.3H1654.3V390.8H1626.7zM1626.7 563.6H1654.3V568.2H1626.7zM1626.7 577.3H1654.3V581.8H1626.7zM1626.7 636.4H1654.3V641.0H1626.7zM1626.7 741.0H1654.3V745.6H1626.7zM1654.3 295.3H1681.9V299.9H1654.3zM1654.3 386.3H1681.9V390.8H1654.3zM1681.9 281.7H1709.5V286.2H1681.9zM1681.9 440.9H1709.5V445.4H1681.9zM1681.9 486.3H1709.5V490.9H1681.9zM1709.5 450.0H1737.1V454.5H1709.5zM1709.5 745.6H1737.1V750.1H1709.5zM1737.1 377.2H1764.8V381.7H1737.1zM1737.1 422.7H1764.8V427.2H1737.1zM1737.1 490.9H1764.8V495.4H1737.1zM1737.1 636.4H1764.8V641.0H1737.1zM1737.1 663.7H1764.8V668.2H1737.1zM1764.8 440.9H1792.4V445.4H1764.8zM1792.4 399.9H1820.0V404.5H1792.4zM1792.4 568.2H1820.0V572.7H1792.4zM1792.4 663.7H1820.0V668.2H1792.4zM1792.4 681.9H1820.0V686.4H1792.4z"/><path fill="#e8886c" d="M881.0 595.5H908.6V600.0H881.0zM908.6 290.8H936.2V295.3H908.6zM908.6 313.5H936.2V318.1H908.6zM1019.1 286.2H1046.7V290.8H1019.1zM1019.1 700.1H1046.7V704.6H1019.1zM1074.3 386.3H1101.9V390.8H1074.3zM1074.3 399.9H1101.9V404.5H1074.3zM1074.3 436.3H1101.9V440.9H1074.3zM1074.3 613.7H1101.9V618.2H1074.3zM1074.3 636.4H1101.9V641.0H1074.3zM1101.9 281.7H1129.6V286.2H1101.9zM1101.9 509.1H1129.6V513.6H1101.9zM1157.2 431.8H1184.8V436.3H1157.2zM1184.8 345.4H1212.4V349.9H1184.8zM1184.8 486.3H1212.4V490.9H1184.8zM1184.8 695.5H1212.4V700.1H1184.8zM1212.4 486.3H1240.0V495.4H1212.4zM1267.6 313.5H1295.3V318.1H1267.6zM1267.6 372.6H1295.3V377.2H1267.6zM1322.9 340.8H1350.5V345.4H1322.9zM1322.9 622.8H1350.5V627.3H1322.9zM1516.2 163.4H1543.8V168.0H1516.2zM1626.7 190.7H1654.3V195.3H1626.7zM1737.1 199.8H1764.8V204.4H1737.1z"/><path fill="#d45c4b" d="M881.0 600.0H908.6V604.6H881.0zM1101.9 595.5H1129.6V600.0H1101.9zM1295.3 386.3H1322.9V390.8H1295.3z"/><path fill="#d7614e" d="M881.0 604.6H908.6V609.1H881.0zM1101.9 609.1H1129.6V613.7H1101.9zM1101.9 727.4H1129.6V731.9H1101.9zM1240.0 486.3H1267.6V490.9H1240.0z"/><path fill="#f9c3a8" d="M881.0 654.6H908.6V659.1H881.0zM881.0 722.8H908.6V727.4H881.0zM908.6 295.3H936.2V299.9H908.6zM908.6 345.4H936.2V349.9H908.6zM936.2 372.6H963.9V377.2H936.2zM936.2 522.7H963.9V527.3H936.2zM936.2 559.1H963.9V563.6H936.2zM936.2 590.9H963.9V595.5H936.2zM936.2 604.6H963.9V609.1H936.2zM936.2 704.6H963.9V709.2H936.2zM963.9 272.6H991.5V277.1H963.9zM963.9 627.3H991.5V631.9H963.9zM1019.1 299.9H1046.7V304.4H1019.1zM1019.1 450.0H1046.7V454.5H1019.1zM1019.1 554.6H1046.7V559.1H1019.1zM1019.1 645.5H1046.7V650.1H1019.1zM1074.3 590.9H1101.9V595.5H1074.3zM1101.9 527.3H1129.6V531.8H1101.9zM1129.6 286.2H1157.2V290.8H1129.6zM1129.6 490.9H1157.2V495.4H1129.6zM1129.6 559.1H1157.2V563.6H1129.6zM1129.6 568.2H1157.2V572.7H1129.6zM1129.6 722.8H1157.2V727.4H1129.6zM1157.2 527.3H1184.8V531.8H1157.2zM1157.2 645.5H1184.8V650.1H1157.2zM1184.8 704.6H1212.4V709.2H1184.8zM1212.4 258.9H1240.0V263.5H1212.4zM1212.4 509.1H1240.0V513.6H1212.4zM1240.0 295.3H1267.6V299.9H1240.0zM1240.0 354.4H1267.6V359.0H1240.0zM1240.0 604.6H1267.6V609.1H1240.0zM1267.6 354.4H1295.3V359.0H1267.6zM1267.6 404.5H1295.3V409.0H1267.6zM1267.6 418.1H1295.3V422.7H1267.6zM1267.6 445.4H1295.3V450.0H1267.6zM1267.6 509.1H1295.3V513.6H1267.6zM1267.6 713.7H1295.3V718.3H1267.6zM1295.3 309.0H1322.9V313.5H1295.3zM1295.3 454.5H1322.9V459.0H1295.3zM1295.3 704.6H1322.9V709.2H1295.3zM1322.9 331.7H1350.5V340.8H1322.9zM1322.9 349.9H1350.5V354.4H1322.9zM1322.9 359.0H1350.5V363.5H1322.9zM1322.9 568.2H1350.5V572.7H1322.9zM1350.5 195.3H1378.1V199.8H1350.5zM1571.4 172.5H1599.1V177.1H1571.4zM1626.7 186.2H1654.3V190.7H1626.7zM1709.5 177.1H1737.1V181.6H1709.5z"/><path fill="#ef9979" d="M881.0 691.0H908.6V695.5H881.0zM881.0 713.7H908.6V718.3H881.0zM908.6 454.5H936.2V459.0H908.6zM908.6 686.4H936.2V691.0H908.6zM936.2 627.3H963.9V631.9H936.2zM963.9 286.2H991.5V290.8H963.9zM963.9 377.2H991.5V381.7H963.9zM1019.1 686.4H1046.7V691.0H1019.1zM1019.1 750.1H1046.7V754.7H1019.1zM1074.3 495.4H1101.9V504.5H1074.3zM1157.2 368.1H1184.8V372.6H1157.2zM1157.2 568.2H1184.8V577.3H1157.2zM1184.8 490.9H1212.4V495.4H1184.8zM1240.0 500.0H1267.6V504.5H1240.0zM1240.0 750.1H1267.6V754.7H1240.0zM1267.6 422.7H1295.3V427.2H1267.6zM1267.6 468.1H1295.3V472.7H1267.6zM1295.3 318.1H1322.9V322.6H1295.3zM1322.9 586.4H1350.5V590.9H1322.9zM1461.0 199.8H1488.6V204.4H1461.0zM1461.0 236.2H1488.6V240.8H1461.0zM1488.6 172.5H1516.2V177.1H1488.6z"/><path fill="#f4f5f6" d="M881.0 700.1H908.6V704.6H881.0zM908.6 472.7H936.2V477.2H908.6zM908.6 490.9H936.2V495.4H908.6zM908.6 531.8H936.2V540.9H908.6zM908.6 622.8H936.2V631.9H908.6zM936.2 149.8H963.9V154.3H936.2zM936.2 359.0H963.9V363.5H936.2zM936.2 377.2H963.9V381.7H936.2zM936.2 500.0H963.9V504.5H936.2zM936.2 654.6H963.9V659.1H936.2zM963.9 204.4H991.5V213.5H963.9zM963.9 254.4H991.5V258.9H963.9zM963.9 540.9H991.5V545.5H963.9zM963.9 568.2H991.5V572.7H963.9zM963.9 659.1H991.5V663.7H963.9zM963.9 709.2H991.5V713.7H963.9zM991.5 268.0H1019.1V272.6H991.5zM991.5 445.4H1019.1V450.0H991.5zM991.5 495.4H1019.1V500.0H991.5zM991.5 622.8H1019.1V627.3H991.5zM1019.1 249.9H1046.7V254.4H1019.1zM1019.1 345.4H1046.7V349.9H1019.1zM1019.1 399.9H1046.7V404.5H1019.1zM1019.1 431.8H1046.7V436.3H1019.1zM1019.1 540.9H1046.7V545.5H1019.1zM1019.1 709.2H1046.7V713.7H1019.1zM1046.7 322.6H1074.3V327.2H1046.7zM1046.7 345.4H1074.3V349.9H1046.7zM1046.7 509.1H1074.3V513.6H1046.7zM1074.3 331.7H1101.9V336.3H1074.3zM1074.3 531.8H1101.9V536.4H1074.3zM1101.9 227.1H1129.6V231.7H1101.9zM1101.9 249.9H1129.6V254.4H1101.9zM1101.9 290.8H1129.6V295.3H1101.9zM1101.9 390.8H1129.6V395.4H1101.9zM1101.9 645.5H1129.6V650.1H1101.9zM1129.6 354.4H1157.2V359.0H1129.6zM1129.6 409.0H1157.2V413.6H1129.6zM1129.6 468.1H1157.2V477.2H1129.6zM1129.6 486.3H1157.2V490.9H1129.6zM1129.6 659.1H1157.2V663.7H1129.6zM1157.2 208.9H1184.8V213.5H1157.2zM1157.2 290.8H1184.8V295.3H1157.2zM1157.2 622.8H1184.8V627.3H1157.2zM1184.8 636.4H1212.4V641.0H1184.8zM1184.8 654.6H1212.4V659.1H1184.8zM1184.8 713.7H1212.4V718.3H1184.8zM1184.8 722.8H1212.4V727.4H1184.8zM1212.4 586.4H1240.0V590.9H1212.4zM1240.0 263.5H1267.6V268.0H1240.0zM1267.6 181.6H1295.3V186.2H1267.6zM1267.6 572.7H1295.3V581.8H1267.6zM1267.6 586.4H1295.3V590.9H1267.6zM1267.6 663.7H1295.3V668.2H1267.6zM1295.3 254.4H1322.9V258.9H1295.3zM1295.3 381.7H1322.9V386.3H1295.3zM1295.3 468.1H1322.9V472.7H1295.3zM1295.3 500.0H1322.9V504.5H1295.3zM1295.3 590.9H1322.9V595.5H1295.3zM1295.3 700.1H1322.9V704.6H1295.3zM1322.9 158.9H1350.5V163.4H1322.9zM1322.9 277.1H1350.5V281.7H1322.9zM1322.9 309.0H1350.5V313.5H1322.9zM1322.9 418.1H1350.5V422.7H1322.9zM1322.9 459.0H1350.5V468.1H1322.9zM1350.5 177.1H1378.1V181.6H1350.5zM1350.5 340.8H1378.1V349.9H1350.5zM1350.5 577.3H1378.1V581.8H1350.5zM1378.1 181.6H1405.7V186.2H1378.1zM1378.1 245.3H1405.7V249.9H1378.1zM1405.7 218.0H1433.4V222.6H1405.7zM1405.7 422.7H1433.4V427.2H1405.7zM1405.7 463.6H1433.4V468.1H1405.7zM1405.7 522.7H1433.4V527.3H1405.7zM1433.4 168.0H1461.0V172.5H1433.4zM1433.4 231.7H1461.0V240.8H1433.4zM1433.4 331.7H1461.0V336.3H1433.4zM1433.4 536.4H1461.0V540.9H1433.4zM1461.0 322.6H1488.6V327.2H1461.0zM1461.0 331.7H1488.6V336.3H1461.0zM1461.0 368.1H1488.6V372.6H1461.0zM1461.0 377.2H1488.6V381.7H1461.0zM1461.0 650.1H1488.6V654.6H1461.0zM1488.6 231.7H1516.2V240.8H1488.6zM1488.6 609.1H1516.2V613.7H1488.6zM1488.6 631.9H1516.2V636.4H1488.6zM1488.6 700.1H1516.2V709.2H1488.6zM1516.2 190.7H1543.8V195.3H1516.2zM1516.2 254.4H1543.8V258.9H1516.2zM1516.2 577.3H1543.8V581.8H1516.2zM1543.8 208.9H1571.4V213.5H1543.8zM1543.8 695.5H1571.4V700.1H1543.8zM1571.4 399.9H1599.1V404.5H1571.4zM1571.4 463.6H1599.1V468.1H1571.4zM1571.4 490.9H1599.1V495.4H1571.4zM1571.4 504.5H1599.1V509.1H1571.4zM1571.4 518.2H1599.1V522.7H1571.4zM1571.4 536.4H1599.1V545.5H1571.4zM1599.1 327.2H1626.7V331.7H1599.1zM1599.1 345.4H1626.7V349.9H1599.1zM1599.1 409.0H1626.7V413.6H1599.1zM1599.1 436.3H1626.7V440.9H1599.1zM1599.1 445.4H1626.7V450.0H1599.1zM1599.1 463.6H1626.7V468.1H1599.1zM1599.1 722.8H1626.7V727.4H1599.1zM1599.1 750.1H1626.7V754.7H1599.1zM1626.7 290.8H1654.3V295.3H1626.7zM1626.7 313.5H1654.3V318.1H1626.7zM1626.7 691.0H1654.3V695.5H1626.7zM1626.7 704.6H1654.3V709.2H1626.7zM1654.3 595.5H1681.9V600.0H1654.3zM1654.3 700.1H1681.9V704.6H1654.3zM1654.3 709.2H1681.9V713.7H1654.3zM1681.9 322.6H1709.5V327.2H1681.9zM1681.9 636.4H1709.5V641.0H1681.9zM1681.9 695.5H1709.5V700.1H1681.9zM1709.5 218.0H1737.1V231.7H1709.5zM1709.5 240.8H1737.1V245.3H1709.5zM1709.5 336.3H1737.1V340.8H1709.5zM1709.5 490.9H1737.1V495.4H1709.5zM1709.5 613.7H1737.1V618.2H1709.5zM1737.1 158.9H1764.8V163.4H1737.1zM1737.1 399.9H1764.8V404.5H1737.1zM1737.1 481.8H1764.8V486.3H1737.1zM1737.1 700.1H1764.8V704.6H1737.1zM1737.1 709.2H1764.8V713.7H1737.1zM1737.1 736.5H1764.8V741.0H1737.1zM1764.8 163.4H1792.4V168.0H1764.8zM1764.8 181.6H1792.4V186.2H1764.8zM1764.8 195.3H1792.4V199.8H1764.8zM1764.8 208.9H1792.4V213.5H1764.8zM1764.8 258.9H1792.4V263.5H1764.8zM1764.8 513.6H1792.4V522.7H1764.8zM1764.8 636.4H1792.4V641.0H1764.8zM1764.8 663.7H1792.4V668.2H1764.8zM1792.4 272.6H1820.0V277.1H1792.4zM1792.4 459.0H1820.0V463.6H1792.4zM1792.4 500.0H1820.0V509.1H1792.4zM1792.4 563.6H1820.0V568.2H1792.4zM1792.4 577.3H1820.0V581.8H1792.4zM1792.4 609.1H1820.0V613.7H1792.4z"/><path fill="#a5cfe3" d="M881.0 709.2H908.6V713.7H881.0zM1267.6 741.0H1295.3V745.6H1267.6zM1350.5 254.4H1378.1V258.9H1350.5zM1350.5 354.4H1378.1V359.0H1350.5zM1350.5 368.1H1378.1V372.6H1350.5zM1350.5 513.6H1378.1V518.2H1350.5zM1350.5 531.8H1378.1V536.4H1350.5zM1350.5 604.6H1378.1V609.1H1350.5zM1378.1 295.3H1405.7V299.9H1378.1zM1378.1 359.0H1405.7V363.5H1378.1zM1378.1 377.2H1405.7V381.7H1378.1zM1378.1 513.6H1405.7V518.2H1378.1zM1378.1 659.1H1405.7V663.7H1378.1zM1405.7 381.7H1433.4V386.3H1405.7zM1405.7 586.4H1433.4V590.9H1405.7zM1405.7 736.5H1433.4V741.0H1405.7zM1433.4 281.7H1461.0V286.2H1433.4zM1433.4 349.9H1461.0V354.4H1433.4zM1433.4 372.6H1461.0V377.2H1433.4zM1433.4 431.8H1461.0V436.3H1433.4zM1433.4 472.7H1461.0V481.8H1433.4zM1433.4 586.4H1461.0V590.9H1433.4zM1433.4 641.0H1461.0V645.5H1433.4zM1433.4 668.2H1461.0V672.8H1433.4zM1433.4 731.9H1461.0V736.5H1433.4zM1433.4 745.6H1461.0V750.1H1433.4zM1461.0 249.9H1488.6V254.4H1461.0zM1461.0 272.6H1488.6V277.1H1461.0zM1461.0 349.9H1488.6V354.4H1461.0zM1461.0 563.6H1488.6V568.2H1461.0zM1461.0 731.9H1488.6V736.5H1461.0zM1488.6 577.3H1516.2V581.8H1488.6zM1488.6 590.9H1516.2V595.5H1488.6zM1488.6 645.5H1516.2V654.6H1488.6zM1488.6 709.2H1516.2V713.7H1488.6zM1516.2 268.0H1543.8V272.6H1516.2zM1516.2 295.3H1543.8V299.9H1516.2zM1516.2 450.0H1543.8V454.5H1516.2zM1516.2 481.8H1543.8V486.3H1516.2zM1516.2 527.3H1543.8V531.8H1516.2zM1516.2 677.3H1543.8V681.9H1516.2zM1543.8 299.9H1571.4V304.4H1543.8zM1543.8 486.3H1571.4V490.9H1543.8zM1543.8 536.4H1571.4V545.5H1543.8zM1543.8 672.8H1571.4V677.3H1543.8zM1571.4 286.2H1599.1V290.8H1571.4zM1571.4 345.4H1599.1V349.9H1571.4zM1571.4 627.3H1599.1V631.9H1571.4zM1571.4 650.1H1599.1V654.6H1571.4zM1599.1 381.7H1626.7V390.8H1599.1zM1599.1 622.8H1626.7V627.3H1599.1zM1626.7 409.0H1654.3V413.6H1626.7zM1626.7 440.9H1654.3V445.4H1626.7zM1626.7 572.7H1654.3V577.3H1626.7zM1626.7 745.6H1654.3V750.1H1626.7zM1654.3 349.9H1681.9V354.4H1654.3zM1654.3 413.6H1681.9V422.7H1654.3zM1654.3 436.3H1681.9V440.9H1654.3zM1654.3 622.8H1681.9V627.3H1654.3zM1681.9 349.9H1709.5V354.4H1681.9zM1681.9 490.9H1709.5V495.4H1681.9zM1709.5 363.5H1737.1V368.1H1709.5zM1709.5 372.6H1737.1V386.3H1709.5zM1709.5 645.5H1737.1V650.1H1709.5zM1737.1 459.0H1764.8V463.6H1737.1zM1737.1 495.4H1764.8V500.0H1737.1zM1737.1 518.2H1764.8V522.7H1737.1zM1737.1 613.7H1764.8V618.2H1737.1zM1764.8 295.3H1792.4V299.9H1764.8zM1764.8 309.0H1792.4V313.5H1764.8zM1764.8 359.0H1792.4V363.5H1764.8zM1764.8 381.7H1792.4V390.8H1764.8zM1764.8 468.1H1792.4V472.7H1764.8zM1764.8 500.0H1792.4V504.5H1764.8zM1792.4 313.5H1820.0V318.1H1792.4zM1792.4 336.3H1820.0V340.8H1792.4zM1792.4 413.6H1820.0V418.1H1792.4zM1792.4 427.2H1820.0V436.3H1792.4zM1792.4 686.4H1820.0V695.5H1792.4z"/><path fill="#e1edf3" d="M908.6 172.5H936.2V177.1H908.6zM908.6 513.6H936.2V518.2H908.6zM991.5 195.3H1019.1V199.8H991.5zM991.5 218.0H1019.1V222.6H991.5zM1019.1 154.3H1046.7V163.4H1019.1zM1019.1 168.0H1046.7V172.5H1019.1zM1046.7 158.9H1074.3V163.4H1046.7zM1101.9 177.1H1129.6V181.6H1101.9zM1129.6 168.0H1157.2V172.5H1129.6zM1129.6 227.1H1157.2V231.7H1129.6zM1129.6 240.8H1157.2V245.3H1129.6zM1184.8 604.6H1212.4V609.1H1184.8zM1212.4 195.3H1240.0V199.8H1212.4zM1212.4 618.2H1240.0V622.8H1212.4zM1240.0 190.7H1267.6V195.3H1240.0zM1240.0 227.1H1267.6V231.7H1240.0zM1295.3 222.6H1322.9V227.1H1295.3zM1322.9 222.6H1350.5V227.1H1322.9zM1322.9 236.2H1350.5V240.8H1322.9zM1322.9 254.4H1350.5V258.9H1322.9zM1405.7 531.8H1433.4V536.4H1405.7zM1433.4 568.2H1461.0V572.7H1433.4zM1461.0 309.0H1488.6V313.5H1461.0zM1488.6 372.6H1516.2V377.2H1488.6zM1488.6 513.6H1516.2V518.2H1488.6zM1516.2 277.1H1543.8V281.7H1516.2zM1516.2 359.0H1543.8V363.5H1516.2zM1543.8 436.3H1571.4V440.9H1543.8zM1543.8 659.1H1571.4V663.7H1543.8zM1571.4 254.4H1599.1V258.9H1571.4zM1571.4 354.4H1599.1V359.0H1571.4zM1571.4 436.3H1599.1V440.9H1571.4zM1599.1 318.1H1626.7V322.6H1599.1zM1599.1 731.9H1626.7V736.5H1599.1zM1626.7 272.6H1654.3V277.1H1626.7zM1626.7 345.4H1654.3V349.9H1626.7zM1626.7 490.9H1654.3V495.4H1626.7zM1626.7 518.2H1654.3V522.7H1626.7zM1626.7 727.4H1654.3V731.9H1626.7zM1654.3 254.4H1681.9V258.9H1654.3zM1681.9 736.5H1709.5V741.0H1681.9zM1709.5 454.5H1737.1V459.0H1709.5zM1737.1 349.9H1764.8V354.4H1737.1zM1737.1 554.6H1764.8V559.1H1737.1zM1737.1 631.9H1764.8V636.4H1737.1zM1737.1 668.2H1764.8V672.8H1737.1zM1792.4 331.7H1820.0V336.3H1792.4z"/><path fill="#7db8d7" d="M908.6 240.8H936.2V245.3H908.6zM1074.3 149.8H1101.9V154.3H1074.3zM1129.6 163.4H1157.2V168.0H1129.6zM1129.6 190.7H1157.2V195.3H1129.6zM1350.5 722.8H1378.1V727.4H1350.5zM1350.5 745.6H1378.1V754.7H1350.5zM1378.1 700.1H1405.7V704.6H1378.1zM1405.7 249.9H1433.4V254.4H1405.7zM1405.7 268.0H1433.4V272.6H1405.7zM1405.7 390.8H1433.4V395.4H1405.7zM1405.7 504.5H1433.4V509.1H1405.7zM1405.7 604.6H1433.4V609.1H1405.7zM1405.7 659.1H1433.4V663.7H1405.7zM1405.7 686.4H1433.4V691.0H1405.7zM1405.7 718.3H1433.4V722.8H1405.7zM1433.4 377.2H1461.0V381.7H1433.4zM1488.6 368.1H1516.2V372.6H1488.6zM1488.6 431.8H1516.2V436.3H1488.6zM1488.6 545.5H1516.2V554.6H1488.6zM1488.6 586.4H1516.2V590.9H1488.6zM1516.2 313.5H1543.8V318.1H1516.2zM1516.2 340.8H1543.8V345.4H1516.2zM1543.8 309.0H1571.4V313.5H1543.8zM1543.8 495.4H1571.4V500.0H1543.8zM1571.4 663.7H1599.1V668.2H1571.4zM1599.1 277.1H1626.7V281.7H1599.1zM1626.7 495.4H1654.3V500.0H1626.7zM1654.3 286.2H1681.9V290.8H1654.3zM1709.5 258.9H1737.1V263.5H1709.5zM1709.5 409.0H1737.1V413.6H1709.5zM1709.5 422.7H1737.1V427.2H1709.5zM1737.1 286.2H1764.8V290.8H1737.1zM1737.1 500.0H1764.8V509.1H1737.1zM1764.8 409.0H1792.4V413.6H1764.8zM1764.8 431.8H1792.4V436.3H1764.8zM1764.8 472.7H1792.4V477.2H1764.8zM1764.8 545.5H1792.4V550.0H1764.8zM1792.4 450.0H1820.0V454.5H1792.4zM1792.4 695.5H1820.0V700.1H1792.4z"/><path fill="#f19f7d" d="M908.6 318.1H936.2V322.6H908.6zM1074.3 299.9H1101.9V304.4H1074.3zM1074.3 359.0H1101.9V363.5H1074.3zM1074.3 554.6H1101.9V559.1H1074.3zM1129.6 336.3H1157.2V340.8H1129.6zM1129.6 518.2H1157.2V522.7H1129.6zM1129.6 595.5H1157.2V604.6H1129.6zM1129.6 645.5H1157.2V650.1H1129.6zM1157.2 718.3H1184.8V722.8H1157.2zM1295.3 281.7H1322.9V286.2H1295.3zM1405.7 149.8H1433.4V154.3H1405.7zM1433.4 158.9H1461.0V163.4H1433.4zM1737.1 186.2H1764.8V190.7H1737.1zM1792.4 199.8H1820.0V204.4H1792.4z"/><path fill="#f8ba9d" d="M908.6 390.8H936.2V395.4H908.6zM936.2 368.1H963.9V372.6H936.2zM936.2 472.7H963.9V477.2H936.2zM936.2 527.3H963.9V531.8H936.2zM936.2 550.0H963.9V559.1H936.2zM963.9 349.9H991.5V354.4H963.9zM963.9 636.4H991.5V641.0H963.9zM1019.1 440.9H1046.7V445.4H1019.1zM1019.1 636.4H1046.7V645.5H1019.1zM1019.1 663.7H1046.7V668.2H1019.1zM1019.1 745.6H1046.7V750.1H1019.1zM1074.3 354.4H1101.9V359.0H1074.3zM1074.3 468.1H1101.9V477.2H1074.3zM1101.9 513.6H1129.6V518.2H1101.9zM1101.9 590.9H1129.6V595.5H1101.9zM1129.6 713.7H1157.2V718.3H1129.6zM1157.2 413.6H1184.8V418.1H1157.2zM1157.2 509.1H1184.8V513.6H1157.2zM1157.2 668.2H1184.8V672.8H1157.2zM1157.2 709.2H1184.8V713.7H1157.2zM1184.8 336.3H1212.4V340.8H1184.8zM1184.8 349.9H1212.4V354.4H1184.8zM1184.8 450.0H1212.4V454.5H1184.8zM1212.4 340.8H1240.0V349.9H1212.4zM1240.0 322.6H1267.6V327.2H1240.0zM1240.0 345.4H1267.6V349.9H1240.0zM1240.0 427.2H1267.6V431.8H1240.0zM1240.0 513.6H1267.6V518.2H1240.0zM1267.6 436.3H1295.3V440.9H1267.6zM1267.6 540.9H1295.3V545.5H1267.6zM1322.9 654.6H1350.5V659.1H1322.9zM1350.5 186.2H1378.1V195.3H1350.5zM1378.1 190.7H1405.7V195.3H1378.1zM1405.7 172.5H1433.4V177.1H1405.7zM1433.4 149.8H1461.0V154.3H1433.4zM1461.0 168.0H1488.6V172.5H1461.0zM1543.8 163.4H1571.4V168.0H1543.8zM1571.4 231.7H1599.1V236.2H1571.4zM1599.1 168.0H1626.7V172.5H1599.1zM1626.7 236.2H1654.3V240.8H1626.7zM1654.3 227.1H1681.9V231.7H1654.3z"/><path fill="#d2e5f0" d="M908.6 509.1H936.2V513.6H908.6zM908.6 540.9H936.2V545.5H908.6zM908.6 554.6H936.2V559.1H908.6zM908.6 586.4H936.2V590.9H908.6zM936.2 313.5H963.9V318.1H936.2zM936.2 331.7H963.9V336.3H936.2zM991.5 427.2H1019.1V431.8H991.5zM991.5 595.5H1019.1V600.0H991.5zM991.5 709.2H1019.1V713.7H991.5zM1101.9 345.4H1129.6V349.9H1101.9zM1129.6 586.4H1157.2V590.9H1129.6zM1129.6 718.3H1157.2V722.8H1129.6zM1184.8 554.6H1212.4V559.1H1184.8zM1267.6 745.6H1295.3V750.1H1267.6zM1295.3 486.3H1322.9V490.9H1295.3zM1322.9 322.6H1350.5V327.2H1322.9zM1322.9 691.0H1350.5V695.5H1322.9zM1350.5 304.4H1378.1V309.0H1350.5zM1350.5 331.7H1378.1V336.3H1350.5zM1350.5 363.5H1378.1V368.1H1350.5zM1350.5 563.6H1378.1V568.2H1350.5zM1350.5 590.9H1378.1V595.5H1350.5zM1350.5 622.8H1378.1V627.3H1350.5zM1378.1 258.9H1405.7V263.5H1378.1zM1378.1 281.7H1405.7V286.2H1378.1zM1378.1 290.8H1405.7V295.3H1378.1zM1378.1 404.5H1405.7V409.0H1378.1zM1378.1 422.7H1405.7V427.2H1378.1zM1378.1 604.6H1405.7V609.1H1378.1zM1378.1 686.4H1405.7V691.0H1378.1zM1405.7 263.5H1433.4V268.0H1405.7zM1405.7 286.2H1433.4V290.8H1405.7zM1405.7 550.0H1433.4V554.6H1405.7zM1405.7 622.8H1433.4V627.3H1405.7zM1405.7 754.7H1433.4V759.2H1405.7zM1433.4 181.6H1461.0V186.2H1433.4zM1433.4 290.8H1461.0V295.3H1433.4zM1433.4 363.5H1461.0V368.1H1433.4zM1433.4 386.3H1461.0V390.8H1433.4zM1433.4 486.3H1461.0V490.9H1433.4zM1433.4 550.0H1461.0V554.6H1433.4zM1433.4 672.8H1461.0V677.3H1433.4zM1433.4 727.4H1461.0V731.9H1433.4zM1461.0 258.9H1488.6V263.5H1461.0zM1461.0 281.7H1488.6V286.2H1461.0zM1461.0 454.5H1488.6V459.0H1461.0zM1461.0 509.1H1488.6V513.6H1461.0zM1461.0 522.7H1488.6V527.3H1461.0zM1461.0 554.6H1488.6V559.1H1461.0zM1461.0 577.3H1488.6V581.8H1461.0zM1461.0 609.1H1488.6V613.7H1461.0zM1461.0 622.8H1488.6V631.9H1461.0zM1461.0 645.5H1488.6V650.1H1461.0zM1461.0 704.6H1488.6V709.2H1461.0zM1461.0 741.0H1488.6V745.6H1461.0zM1488.6 277.1H1516.2V281.7H1488.6zM1488.6 290.8H1516.2V299.9H1488.6zM1488.6 390.8H1516.2V395.4H1488.6zM1488.6 413.6H1516.2V418.1H1488.6zM1488.6 440.9H1516.2V445.4H1488.6zM1488.6 450.0H1516.2V454.5H1488.6zM1516.2 336.3H1543.8V340.8H1516.2zM1516.2 363.5H1543.8V368.1H1516.2zM1516.2 500.0H1543.8V504.5H1516.2zM1516.2 513.6H1543.8V518.2H1516.2zM1516.2 522.7H1543.8V527.3H1516.2zM1516.2 536.4H1543.8V540.9H1516.2zM1516.2 550.0H1543.8V554.6H1516.2zM1516.2 604.6H1543.8V609.1H1516.2zM1516.2 645.5H1543.8V650.1H1516.2zM1516.2 691.0H1543.8V695.5H1516.2zM1516.2 736.5H1543.8V745.6H1516.2zM1543.8 313.5H1571.4V318.1H1543.8zM1543.8 359.0H1571.4V363.5H1543.8zM1543.8 445.4H1571.4V450.0H1543.8zM1543.8 477.2H1571.4V481.8H1543.8zM1543.8 590.9H1571.4V595.5H1543.8zM1543.8 618.2H1571.4V622.8H1543.8zM1543.8 677.3H1571.4V681.9H1543.8zM1543.8 741.0H1571.4V745.6H1543.8zM1571.4 336.3H1599.1V340.8H1571.4zM1571.4 349.9H1599.1V354.4H1571.4zM1571.4 418.1H1599.1V422.7H1571.4zM1571.4 427.2H1599.1V431.8H1571.4zM1571.4 440.9H1599.1V445.4H1571.4zM1571.4 550.0H1599.1V554.6H1571.4zM1571.4 609.1H1599.1V613.7H1571.4zM1571.4 695.5H1599.1V700.1H1571.4zM1571.4 745.6H1599.1V750.1H1571.4zM1599.1 249.9H1626.7V258.9H1599.1zM1599.1 349.9H1626.7V354.4H1599.1zM1599.1 368.1H1626.7V372.6H1599.1zM1599.1 472.7H1626.7V477.2H1599.1zM1599.1 490.9H1626.7V495.4H1599.1zM1599.1 641.0H1626.7V645.5H1599.1zM1599.1 654.6H1626.7V659.1H1599.1zM1599.1 681.9H1626.7V691.0H1599.1zM1599.1 695.5H1626.7V700.1H1599.1zM1626.7 281.7H1654.3V286.2H1626.7zM1626.7 354.4H1654.3V359.0H1626.7zM1626.7 372.6H1654.3V377.2H1626.7zM1626.7 454.5H1654.3V459.0H1626.7zM1626.7 527.3H1654.3V531.8H1626.7zM1626.7 536.4H1654.3V540.9H1626.7zM1626.7 654.6H1654.3V663.7H1626.7zM1626.7 668.2H1654.3V672.8H1626.7zM1654.3 281.7H1681.9V286.2H1654.3zM1654.3 313.5H1681.9V318.1H1654.3zM1654.3 327.2H1681.9V331.7H1654.3zM1654.3 427.2H1681.9V431.8H1654.3zM1654.3 472.7H1681.9V477.2H1654.3zM1654.3 495.4H1681.9V504.5H1654.3zM1654.3 527.3H1681.9V531.8H1654.3zM1654.3 559.1H1681.9V563.6H1654.3zM1654.3 572.7H1681.9V577.3H1654.3zM1654.3 609.1H1681.9V613.7H1654.3zM1654.3 636.4H1681.9V641.0H1654.3zM1654.3 750.1H1681.9V754.7H1654.3zM1681.9 163.4H1709.5V168.0H1681.9zM1681.9 277.1H1709.5V281.7H1681.9zM1681.9 295.3H1709.5V299.9H1681.9zM1681.9 340.8H1709.5V345.4H1681.9zM1681.9 368.1H1709.5V372.6H1681.9zM1681.9 431.8H1709.5V440.9H1681.9zM1681.9 495.4H1709.5V500.0H1681.9zM1681.9 581.8H1709.5V586.4H1681.9zM1681.9 600.0H1709.5V604.6H1681.9zM1681.9 609.1H1709.5V613.7H1681.9zM1681.9 668.2H1709.5V672.8H1681.9zM1709.5 268.0H1737.1V272.6H1709.5zM1709.5 349.9H1737.1V354.4H1709.5zM1709.5 550.0H1737.1V554.6H1709.5zM1709.5 618.2H1737.1V622.8H1709.5zM1709.5 663.7H1737.1V668.2H1709.5zM1709.5 731.9H1737.1V736.5H1709.5zM1709.5 754.7H1737.1V759.2H1709.5zM1737.1 163.4H1764.8V168.0H1737.1zM1737.1 418.1H1764.8V422.7H1737.1zM1737.1 595.5H1764.8V600.0H1737.1zM1737.1 609.1H1764.8V613.7H1737.1zM1737.1 686.4H1764.8V691.0H1737.1zM1764.8 204.4H1792.4V208.9H1764.8zM1764.8 677.3H1792.4V686.4H1764.8zM1764.8 722.8H1792.4V727.4H1764.8zM1792.4 172.5H1820.0V177.1H1792.4zM1792.4 281.7H1820.0V286.2H1792.4zM1792.4 299.9H1820.0V304.4H1792.4zM1792.4 368.1H1820.0V372.6H1792.4zM1792.4 381.7H1820.0V386.3H1792.4zM1792.4 418.1H1820.0V422.7H1792.4zM1792.4 545.5H1820.0V550.0H1792.4zM1792.4 659.1H1820.0V663.7H1792.4zM1792.4 741.0H1820.0V745.6H1792.4z"/><path fill="#b9d9e9" d="M936.2 158.9H963.9V163.4H936.2zM936.2 168.0H963.9V172.5H936.2zM936.2 222.6H963.9V227.1H936.2zM963.9 236.2H991.5V240.8H963.9zM963.9 245.3H991.5V249.9H963.9zM991.5 181.6H1019.1V186.2H991.5zM1019.1 149.8H1046.7V154.3H1019.1zM1046.7 172.5H1074.3V177.1H1046.7zM1157.2 231.7H1184.8V236.2H1157.2zM1157.2 245.3H1184.8V249.9H1157.2zM1212.4 149.8H1240.0V154.3H1212.4zM1212.4 163.4H1240.0V168.0H1212.4zM1212.4 177.1H1240.0V181.6H1212.4zM1267.6 318.1H1295.3V322.6H1267.6zM1322.9 199.8H1350.5V204.4H1322.9zM1322.9 208.9H1350.5V213.5H1322.9zM1322.9 218.0H1350.5V222.6H1322.9zM1350.5 359.0H1378.1V363.5H1350.5zM1350.5 372.6H1378.1V377.2H1350.5zM1350.5 381.7H1378.1V386.3H1350.5zM1350.5 459.0H1378.1V463.6H1350.5zM1350.5 500.0H1378.1V504.5H1350.5zM1350.5 518.2H1378.1V522.7H1350.5zM1350.5 540.9H1378.1V545.5H1350.5zM1350.5 609.1H1378.1V613.7H1350.5zM1378.1 349.9H1405.7V354.4H1378.1zM1378.1 445.4H1405.7V450.0H1378.1zM1378.1 463.6H1405.7V468.1H1378.1zM1378.1 504.5H1405.7V509.1H1378.1zM1405.7 345.4H1433.4V349.9H1405.7zM1405.7 359.0H1433.4V363.5H1405.7zM1405.7 618.2H1433.4V622.8H1405.7zM1433.4 299.9H1461.0V304.4H1433.4zM1433.4 359.0H1461.0V363.5H1433.4zM1433.4 404.5H1461.0V409.0H1433.4zM1433.4 454.5H1461.0V459.0H1433.4zM1433.4 527.3H1461.0V531.8H1433.4zM1433.4 604.6H1461.0V609.1H1433.4zM1433.4 650.1H1461.0V654.6H1433.4zM1433.4 663.7H1461.0V668.2H1433.4zM1433.4 677.3H1461.0V681.9H1433.4zM1433.4 736.5H1461.0V741.0H1433.4zM1461.0 268.0H1488.6V272.6H1461.0zM1461.0 345.4H1488.6V349.9H1461.0zM1461.0 359.0H1488.6V363.5H1461.0zM1461.0 477.2H1488.6V481.8H1461.0zM1461.0 654.6H1488.6V659.1H1461.0zM1516.2 431.8H1543.8V436.3H1516.2zM1516.2 709.2H1543.8V713.7H1516.2zM1543.8 277.1H1571.4V281.7H1543.8zM1543.8 304.4H1571.4V309.0H1543.8zM1543.8 386.3H1571.4V390.8H1543.8zM1543.8 650.1H1571.4V654.6H1543.8zM1599.1 395.4H1626.7V399.9H1599.1zM1626.7 468.1H1654.3V472.7H1626.7zM1626.7 586.4H1654.3V590.9H1626.7zM1626.7 641.0H1654.3V645.5H1626.7zM1626.7 663.7H1654.3V668.2H1626.7zM1654.3 354.4H1681.9V363.5H1654.3zM1654.3 381.7H1681.9V386.3H1654.3zM1654.3 736.5H1681.9V741.0H1654.3zM1681.9 327.2H1709.5V331.7H1681.9zM1681.9 418.1H1709.5V422.7H1681.9zM1681.9 536.4H1709.5V540.9H1681.9zM1709.5 427.2H1737.1V436.3H1709.5zM1709.5 509.1H1737.1V513.6H1709.5zM1709.5 545.5H1737.1V550.0H1709.5zM1709.5 572.7H1737.1V577.3H1709.5zM1709.5 713.7H1737.1V718.3H1709.5zM1737.1 427.2H1764.8V431.8H1737.1zM1737.1 509.1H1764.8V513.6H1737.1zM1764.8 390.8H1792.4V404.5H1764.8zM1764.8 454.5H1792.4V459.0H1764.8zM1764.8 531.8H1792.4V536.4H1764.8zM1764.8 554.6H1792.4V559.1H1764.8zM1764.8 572.7H1792.4V577.3H1764.8zM1764.8 581.8H1792.4V586.4H1764.8zM1792.4 345.4H1820.0V349.9H1792.4zM1792.4 445.4H1820.0V450.0H1792.4z"/><path fill="#83bcd9" d="M936.2 163.4H963.9V168.0H936.2zM936.2 190.7H963.9V195.3H936.2zM1101.9 172.5H1129.6V177.1H1101.9zM1184.8 163.4H1212.4V168.0H1184.8zM1267.6 240.8H1295.3V245.3H1267.6zM1350.5 663.7H1378.1V668.2H1350.5zM1350.5 677.3H1378.1V681.9H1350.5zM1350.5 727.4H1378.1V731.9H1350.5zM1378.1 299.9H1405.7V304.4H1378.1zM1378.1 322.6H1405.7V327.2H1378.1zM1378.1 450.0H1405.7V454.5H1378.1zM1378.1 522.7H1405.7V527.3H1378.1zM1378.1 540.9H1405.7V545.5H1378.1zM1378.1 691.0H1405.7V695.5H1378.1zM1405.7 368.1H1433.4V372.6H1405.7zM1405.7 454.5H1433.4V459.0H1405.7zM1405.7 590.9H1433.4V595.5H1405.7zM1405.7 654.6H1433.4V659.1H1405.7zM1433.4 254.4H1461.0V258.9H1433.4zM1433.4 577.3H1461.0V581.8H1433.4zM1461.0 586.4H1488.6V590.9H1461.0zM1488.6 327.2H1516.2V331.7H1488.6zM1488.6 377.2H1516.2V381.7H1488.6zM1488.6 509.1H1516.2V513.6H1488.6zM1488.6 527.3H1516.2V531.8H1488.6zM1488.6 540.9H1516.2V545.5H1488.6zM1488.6 622.8H1516.2V627.3H1488.6zM1488.6 736.5H1516.2V741.0H1488.6zM1516.2 318.1H1543.8V322.6H1516.2zM1516.2 327.2H1543.8V331.7H1516.2zM1516.2 345.4H1543.8V349.9H1516.2zM1543.8 290.8H1571.4V295.3H1543.8zM1543.8 527.3H1571.4V531.8H1543.8zM1543.8 722.8H1571.4V727.4H1543.8zM1599.1 286.2H1626.7V290.8H1599.1zM1599.1 313.5H1626.7V318.1H1599.1zM1626.7 500.0H1654.3V504.5H1626.7zM1626.7 545.5H1654.3V550.0H1626.7zM1654.3 445.4H1681.9V450.0H1654.3zM1654.3 545.5H1681.9V550.0H1654.3zM1709.5 404.5H1737.1V409.0H1709.5zM1709.5 468.1H1737.1V477.2H1709.5zM1709.5 577.3H1737.1V590.9H1709.5zM1737.1 472.7H1764.8V477.2H1737.1zM1764.8 322.6H1792.4V327.2H1764.8zM1764.8 427.2H1792.4V431.8H1764.8zM1764.8 713.7H1792.4V718.3H1764.8zM1792.4 404.5H1820.0V409.0H1792.4z"/><path fill="#c3deec" d="M936.2 199.8H963.9V204.4H936.2zM963.9 199.8H991.5V204.4H963.9zM963.9 222.6H991.5V227.1H963.9zM963.9 240.8H991.5V245.3H963.9zM1046.7 204.4H1074.3V208.9H1046.7zM1046.7 218.0H1074.3V222.6H1046.7zM1157.2 149.8H1184.8V154.3H1157.2zM1184.8 245.3H1212.4V249.9H1184.8zM1212.4 158.9H1240.0V163.4H1212.4zM1212.4 181.6H1240.0V186.2H1212.4zM1212.4 222.6H1240.0V227.1H1212.4zM1295.3 177.1H1322.9V181.6H1295.3zM1295.3 195.3H1322.9V199.8H1295.3zM1322.9 240.8H1350.5V245.3H1322.9z"/><path fill="#e7f0f4" d="M936.2 245.3H963.9V249.9H936.2zM991.5 199.8H1019.1V204.4H991.5zM991.5 208.9H1019.1V213.5H991.5zM991.5 240.8H1019.1V245.3H991.5zM1019.1 172.5H1046.7V186.2H1019.1zM1019.1 195.3H1046.7V199.8H1019.1zM1074.3 158.9H1101.9V163.4H1074.3zM1074.3 190.7H1101.9V195.3H1074.3zM1074.3 199.8H1101.9V204.4H1074.3zM1074.3 231.7H1101.9V236.2H1074.3zM1101.9 158.9H1129.6V163.4H1101.9zM1129.6 149.8H1157.2V154.3H1129.6zM1129.6 177.1H1157.2V181.6H1129.6zM1129.6 231.7H1157.2V236.2H1129.6zM1157.2 186.2H1184.8V190.7H1157.2zM1240.0 199.8H1267.6V204.4H1240.0zM1240.0 208.9H1267.6V213.5H1240.0zM1240.0 240.8H1267.6V245.3H1240.0zM1267.6 149.8H1295.3V154.3H1267.6zM1295.3 154.3H1322.9V158.9H1295.3zM1295.3 190.7H1322.9V195.3H1295.3z"/><path fill="#ec9475" d="M936.2 545.5H963.9V550.0H936.2zM1074.3 263.5H1101.9V268.0H1074.3zM1074.3 363.5H1101.9V368.1H1074.3zM1074.3 431.8H1101.9V436.3H1074.3zM1074.3 586.4H1101.9V590.9H1074.3zM1074.3 604.6H1101.9V609.1H1074.3zM1074.3 641.0H1101.9V645.5H1074.3zM1129.6 359.0H1157.2V363.5H1129.6zM1129.6 495.4H1157.2V500.0H1129.6zM1157.2 372.6H1184.8V377.2H1157.2zM1184.8 340.8H1212.4V345.4H1184.8zM1212.4 704.6H1240.0V709.2H1212.4zM1240.0 495.4H1267.6V500.0H1240.0zM1295.3 327.2H1322.9V331.7H1295.3zM1295.3 622.8H1322.9V627.3H1295.3zM1378.1 218.0H1405.7V222.6H1378.1zM1405.7 163.4H1433.4V168.0H1405.7zM1461.0 186.2H1488.6V190.7H1461.0zM1571.4 177.1H1599.1V181.6H1571.4zM1599.1 227.1H1626.7V231.7H1599.1zM1626.7 231.7H1654.3V236.2H1626.7zM1681.9 190.7H1709.5V195.3H1681.9z"/><path fill="#ce5046" d="M936.2 581.8H963.9V586.4H936.2zM1157.2 363.5H1184.8V368.1H1157.2z"/><path fill="#f8bfa3" d="M936.2 722.8H963.9V727.4H936.2zM936.2 745.6H963.9V750.1H936.2zM963.9 399.9H991.5V404.5H963.9zM963.9 440.9H991.5V445.4H963.9zM963.9 477.2H991.5V481.8H963.9zM963.9 631.9H991.5V636.4H963.9zM991.5 459.0H1019.1V463.6H991.5zM991.5 686.4H1019.1V691.0H991.5zM1019.1 258.9H1046.7V263.5H1019.1zM1019.1 304.4H1046.7V309.0H1019.1zM1019.1 445.4H1046.7V450.0H1019.1zM1019.1 527.3H1046.7V531.8H1019.1zM1019.1 627.3H1046.7V631.9H1019.1zM1019.1 681.9H1046.7V686.4H1019.1zM1019.1 754.7H1046.7V759.2H1019.1zM1074.3 463.6H1101.9V468.1H1074.3zM1074.3 513.6H1101.9V518.2H1074.3zM1074.3 536.4H1101.9V540.9H1074.3zM1074.3 681.9H1101.9V686.4H1074.3zM1074.3 750.1H1101.9V754.7H1074.3zM1101.9 536.4H1129.6V540.9H1101.9zM1101.9 572.7H1129.6V581.8H1101.9zM1101.9 631.9H1129.6V636.4H1101.9zM1129.6 536.4H1157.2V540.9H1129.6zM1129.6 554.6H1157.2V559.1H1129.6zM1129.6 563.6H1157.2V568.2H1129.6zM1157.2 540.9H1184.8V545.5H1157.2zM1184.8 481.8H1212.4V486.3H1184.8zM1212.4 427.2H1240.0V431.8H1212.4zM1212.4 477.2H1240.0V481.8H1212.4zM1212.4 668.2H1240.0V672.8H1212.4zM1240.0 481.8H1267.6V486.3H1240.0zM1240.0 509.1H1267.6V513.6H1240.0zM1240.0 590.9H1267.6V595.5H1240.0zM1295.3 263.5H1322.9V268.0H1295.3zM1322.9 718.3H1350.5V722.8H1322.9zM1405.7 158.9H1433.4V163.4H1405.7zM1433.4 154.3H1461.0V158.9H1433.4zM1433.4 322.6H1461.0V327.2H1433.4zM1461.0 172.5H1488.6V186.2H1461.0zM1571.4 181.6H1599.1V186.2H1571.4zM1599.1 177.1H1626.7V181.6H1599.1zM1654.3 218.0H1681.9V222.6H1654.3zM1681.9 218.0H1709.5V222.6H1681.9zM1681.9 245.3H1709.5V249.9H1681.9zM1709.5 181.6H1737.1V186.2H1709.5zM1737.1 181.6H1764.8V186.2H1737.1zM1737.1 227.1H1764.8V231.7H1737.1z"/><path fill="#96c7df" d="M963.9 158.9H991.5V163.4H963.9zM1184.8 199.8H1212.4V204.4H1184.8zM1267.6 172.5H1295.3V177.1H1267.6zM1322.9 204.4H1350.5V208.9H1322.9zM1350.5 249.9H1378.1V254.4H1350.5zM1350.5 668.2H1378.1V672.8H1350.5zM1350.5 713.7H1378.1V718.3H1350.5zM1350.5 731.9H1378.1V736.5H1350.5zM1378.1 249.9H1405.7V254.4H1378.1zM1378.1 495.4H1405.7V500.0H1378.1zM1378.1 545.5H1405.7V550.0H1378.1zM1378.1 554.6H1405.7V559.1H1378.1zM1378.1 695.5H1405.7V700.1H1378.1zM1378.1 713.7H1405.7V718.3H1378.1zM1405.7 750.1H1433.4V754.7H1405.7zM1433.4 695.5H1461.0V700.1H1433.4zM1488.6 272.6H1516.2V277.1H1488.6zM1516.2 386.3H1543.8V390.8H1516.2zM1516.2 559.1H1543.8V563.6H1516.2zM1516.2 663.7H1543.8V668.2H1516.2zM1516.2 731.9H1543.8V736.5H1516.2zM1543.8 704.6H1571.4V709.2H1543.8zM1571.4 299.9H1599.1V304.4H1571.4zM1571.4 668.2H1599.1V672.8H1571.4zM1599.1 281.7H1626.7V286.2H1599.1zM1599.1 399.9H1626.7V404.5H1599.1zM1709.5 518.2H1737.1V522.7H1709.5zM1764.8 331.7H1792.4V336.3H1764.8zM1764.8 450.0H1792.4V454.5H1764.8zM1764.8 459.0H1792.4V463.6H1764.8z"/><path fill="#4a97c5" d="M963.9 177.1H991.5V181.6H963.9zM1129.6 154.3H1157.2V158.9H1129.6zM1322.9 149.8H1350.5V154.3H1322.9zM1350.5 263.5H1378.1V268.0H1350.5zM1378.1 722.8H1405.7V727.4H1378.1zM1378.1 736.5H1405.7V741.0H1378.1zM1405.7 731.9H1433.4V736.5H1405.7zM1433.4 686.4H1461.0V691.0H1433.4zM1543.8 745.6H1571.4V750.1H1543.8zM1626.7 263.5H1654.3V268.0H1626.7zM1709.5 531.8H1737.1V536.4H1709.5zM1737.1 313.5H1764.8V318.1H1737.1zM1737.1 522.7H1764.8V527.3H1737.1zM1764.8 290.8H1792.4V295.3H1764.8z"/><path fill="#f5ad8c" d="M963.9 459.0H991.5V463.6H963.9zM1019.1 368.1H1046.7V372.6H1019.1zM1101.9 336.3H1129.6V340.8H1101.9zM1101.9 468.1H1129.6V472.7H1101.9zM1184.8 290.8H1212.4V295.3H1184.8zM1240.0 736.5H1267.6V741.0H1240.0zM1267.6 413.6H1295.3V418.1H1267.6zM1378.1 195.3H1405.7V199.8H1378.1zM1599.1 158.9H1626.7V163.4H1599.1z"/><path fill="#e37d64" d="M1019.1 295.3H1046.7V299.9H1019.1zM1074.3 745.6H1101.9V750.1H1074.3zM1101.9 581.8H1129.6V586.4H1101.9zM1267.6 450.0H1295.3V454.5H1267.6zM1267.6 550.0H1295.3V554.6H1267.6zM1322.9 345.4H1350.5V349.9H1322.9zM1405.7 154.3H1433.4V158.9H1405.7z"/><path fill="#cb4a43" d="M1074.3 522.7H1101.9V527.3H1074.3zM1074.3 545.5H1101.9V554.6H1074.3zM1267.6 249.9H1295.3V254.4H1267.6zM1267.6 518.2H1295.3V522.7H1267.6z"/><path fill="#d15648" d="M1074.3 686.4H1101.9V691.0H1074.3z"/><path fill="#fae7dc" d="M1101.9 149.8H1129.6V154.3H1101.9zM1322.9 186.2H1350.5V190.7H1322.9z"/><path fill="#5da4cc" d="M1101.9 190.7H1129.6V195.3H1101.9z"/><path fill="#eef3f5" d="M1101.9 231.7H1129.6V236.2H1101.9zM1350.5 399.9H1378.1V404.5H1350.5zM1350.5 422.7H1378.1V427.2H1350.5zM1350.5 486.3H1378.1V495.4H1350.5zM1405.7 327.2H1433.4V331.7H1405.7zM1405.7 349.9H1433.4V354.4H1405.7zM1405.7 377.2H1433.4V381.7H1405.7zM1405.7 386.3H1433.4V390.8H1405.7zM1405.7 450.0H1433.4V454.5H1405.7zM1405.7 581.8H1433.4V586.4H1405.7zM1433.4 613.7H1461.0V618.2H1433.4zM1461.0 318.1H1488.6V322.6H1461.0zM1461.0 427.2H1488.6V431.8H1461.0zM1488.6 495.4H1516.2V500.0H1488.6zM1488.6 572.7H1516.2V577.3H1488.6zM1571.4 409.0H1599.1V413.6H1571.4zM1571.4 468.1H1599.1V472.7H1571.4zM1571.4 672.8H1599.1V677.3H1571.4zM1599.1 336.3H1626.7V340.8H1599.1zM1599.1 522.7H1626.7V527.3H1599.1zM1599.1 531.8H1626.7V536.4H1599.1zM1599.1 554.6H1626.7V559.1H1599.1zM1599.1 631.9H1626.7V636.4H1599.1zM1599.1 713.7H1626.7V718.3H1599.1zM1626.7 258.9H1654.3V263.5H1626.7zM1626.7 295.3H1654.3V299.9H1626.7zM1626.7 318.1H1654.3V322.6H1626.7zM1626.7 559.1H1654.3V563.6H1626.7zM1626.7 627.3H1654.3V631.9H1626.7zM1626.7 754.7H1654.3V759.2H1626.7zM1654.3 331.7H1681.9V336.3H1654.3zM1654.3 600.0H1681.9V604.6H1654.3zM1654.3 691.0H1681.9V695.5H1654.3zM1654.3 713.7H1681.9V718.3H1654.3zM1681.9 268.0H1709.5V272.6H1681.9zM1681.9 559.1H1709.5V563.6H1681.9zM1709.5 331.7H1737.1V336.3H1709.5zM1709.5 486.3H1737.1V490.9H1709.5zM1709.5 568.2H1737.1V572.7H1709.5zM1737.1 718.3H1764.8V722.8H1737.1zM1764.8 263.5H1792.4V268.0H1764.8zM1764.8 277.1H1792.4V281.7H1764.8zM1764.8 495.4H1792.4V500.0H1764.8zM1764.8 631.9H1792.4V636.4H1764.8zM1792.4 304.4H1820.0V309.0H1792.4zM1792.4 463.6H1820.0V468.1H1792.4zM1792.4 540.9H1820.0V545.5H1792.4zM1792.4 550.0H1820.0V554.6H1792.4zM1792.4 622.8H1820.0V631.9H1792.4zM1792.4 641.0H1820.0V645.5H1792.4zM1792.4 650.1H1820.0V654.6H1792.4zM1792.4 672.8H1820.0V677.3H1792.4zM1792.4 709.2H1820.0V713.7H1792.4z"/><path fill="#c53f3d" d="M1101.9 486.3H1129.6V490.9H1101.9zM1267.6 545.5H1295.3V550.0H1267.6z"/><path fill="#57a0ca" d="M1129.6 158.9H1157.2V163.4H1129.6zM1267.6 208.9H1295.3V213.5H1267.6zM1267.6 227.1H1295.3V231.7H1267.6zM1350.5 468.1H1378.1V472.7H1350.5zM1350.5 636.4H1378.1V641.0H1350.5zM1350.5 700.1H1378.1V704.6H1350.5zM1378.1 331.7H1405.7V336.3H1378.1zM1378.1 536.4H1405.7V540.9H1378.1zM1378.1 622.8H1405.7V627.3H1378.1zM1405.7 704.6H1433.4V709.2H1405.7zM1433.4 691.0H1461.0V695.5H1433.4zM1543.8 268.0H1571.4V272.6H1543.8zM1681.9 336.3H1709.5V340.8H1681.9zM1709.5 631.9H1737.1V636.4H1709.5zM1764.8 336.3H1792.4V340.8H1764.8z"/><path fill="#509bc8" d="M1129.6 195.3H1157.2V199.8H1129.6zM1129.6 208.9H1157.2V213.5H1129.6zM1350.5 641.0H1378.1V645.5H1350.5zM1378.1 663.7H1405.7V668.2H1378.1zM1405.7 636.4H1433.4V641.0H1405.7zM1709.5 641.0H1737.1V645.5H1709.5zM1764.8 340.8H1792.4V345.4H1764.8zM1764.8 418.1H1792.4V427.2H1764.8z"/><path fill="#4190c1" d="M1129.6 199.8H1157.2V204.4H1129.6zM1350.5 686.4H1378.1V691.0H1350.5zM1350.5 736.5H1378.1V741.0H1350.5zM1378.1 727.4H1405.7V731.9H1378.1zM1378.1 741.0H1405.7V745.6H1378.1zM1405.7 700.1H1433.4V704.6H1405.7zM1405.7 722.8H1433.4V727.4H1405.7zM1433.4 313.5H1461.0V318.1H1433.4zM1461.0 490.9H1488.6V495.4H1461.0zM1461.0 613.7H1488.6V618.2H1461.0zM1543.8 272.6H1571.4V277.1H1543.8zM1709.5 309.0H1737.1V313.5H1709.5zM1737.1 277.1H1764.8V281.7H1737.1zM1764.8 700.1H1792.4V704.6H1764.8zM1792.4 409.0H1820.0V413.6H1792.4z"/><path fill="#4493c3" d="M1129.6 204.4H1157.2V208.9H1129.6zM1350.5 627.3H1378.1V631.9H1350.5zM1378.1 618.2H1405.7V622.8H1378.1zM1378.1 709.2H1405.7V713.7H1378.1zM1378.1 731.9H1405.7V736.5H1378.1zM1378.1 754.7H1405.7V759.2H1378.1zM1488.6 258.9H1516.2V263.5H1488.6zM1488.6 395.4H1516.2V399.9H1488.6zM1516.2 309.0H1543.8V313.5H1516.2zM1516.2 722.8H1543.8V727.4H1516.2zM1543.8 263.5H1571.4V268.0H1543.8zM1626.7 268.0H1654.3V272.6H1626.7zM1709.5 322.6H1737.1V327.2H1709.5z"/><path fill="#eaf1f5" d="M1267.6 154.3H1295.3V158.9H1267.6zM1267.6 199.8H1295.3V204.4H1267.6zM1350.5 336.3H1378.1V340.8H1350.5zM1350.5 463.6H1378.1V468.1H1350.5zM1405.7 399.9H1433.4V404.5H1405.7zM1405.7 545.5H1433.4V550.0H1405.7zM1433.4 609.1H1461.0V613.7H1433.4zM1461.0 500.0H1488.6V504.5H1461.0zM1516.2 249.9H1543.8V254.4H1516.2zM1516.2 545.5H1543.8V550.0H1516.2zM1571.4 477.2H1599.1V481.8H1571.4zM1571.4 509.1H1599.1V513.6H1571.4zM1571.4 522.7H1599.1V527.3H1571.4zM1571.4 531.8H1599.1V536.4H1571.4zM1571.4 563.6H1599.1V572.7H1571.4zM1571.4 736.5H1599.1V741.0H1571.4zM1599.1 354.4H1626.7V359.0H1599.1zM1599.1 431.8H1626.7V436.3H1599.1zM1599.1 527.3H1626.7V531.8H1599.1zM1599.1 581.8H1626.7V586.4H1599.1zM1599.1 736.5H1626.7V741.0H1599.1zM1626.7 254.4H1654.3V258.9H1626.7zM1626.7 322.6H1654.3V331.7H1626.7zM1626.7 686.4H1654.3V691.0H1626.7zM1626.7 713.7H1654.3V718.3H1626.7zM1654.3 704.6H1681.9V709.2H1654.3zM1681.9 386.3H1709.5V395.4H1681.9zM1737.1 258.9H1764.8V263.5H1737.1zM1737.1 486.3H1764.8V490.9H1737.1zM1737.1 704.6H1764.8V709.2H1737.1zM1737.1 727.4H1764.8V731.9H1737.1zM1764.8 477.2H1792.4V481.8H1764.8zM1764.8 590.9H1792.4V595.5H1764.8zM1792.4 472.7H1820.0V477.2H1792.4zM1792.4 527.3H1820.0V531.8H1792.4zM1792.4 554.6H1820.0V559.1H1792.4zM1792.4 700.1H1820.0V704.6H1792.4zM1792.4 713.7H1820.0V718.3H1792.4z"/><path fill="#a0cce2" d="M1267.6 222.6H1295.3V227.1H1267.6zM1350.5 386.3H1378.1V390.8H1350.5zM1350.5 595.5H1378.1V600.0H1350.5zM1378.1 354.4H1405.7V359.0H1378.1zM1405.7 563.6H1433.4V568.2H1405.7zM1461.0 727.4H1488.6V731.9H1461.0zM1516.2 454.5H1543.8V459.0H1516.2zM1599.1 677.3H1626.7V681.9H1599.1zM1626.7 513.6H1654.3V518.2H1626.7zM1681.9 254.4H1709.5V258.9H1681.9zM1792.4 572.7H1820.0V577.3H1792.4z"/><path fill="#c84540" d="M1267.6 363.5H1295.3V368.1H1267.6zM1737.1 172.5H1764.8V177.1H1737.1z"/><path fill="#77b4d5" d="M1350.5 431.8H1378.1V436.3H1350.5zM1350.5 550.0H1378.1V554.6H1350.5zM1350.5 681.9H1378.1V686.4H1350.5zM1350.5 704.6H1378.1V709.2H1350.5zM1350.5 718.3H1378.1V722.8H1350.5zM1378.1 559.1H1405.7V563.6H1378.1zM1405.7 354.4H1433.4V359.0H1405.7zM1405.7 495.4H1433.4V500.0H1405.7zM1405.7 595.5H1433.4V604.6H1405.7zM1405.7 650.1H1433.4V654.6H1405.7zM1405.7 677.3H1433.4V681.9H1405.7zM1405.7 713.7H1433.4V718.3H1405.7zM1405.7 745.6H1433.4V750.1H1405.7zM1433.4 304.4H1461.0V309.0H1433.4zM1433.4 354.4H1461.0V359.0H1433.4zM1433.4 500.0H1461.0V504.5H1433.4zM1433.4 581.8H1461.0V586.4H1433.4zM1461.0 604.6H1488.6V609.1H1461.0zM1461.0 672.8H1488.6V677.3H1461.0zM1461.0 695.5H1488.6V700.1H1461.0zM1488.6 563.6H1516.2V568.2H1488.6zM1488.6 581.8H1516.2V586.4H1488.6zM1488.6 641.0H1516.2V645.5H1488.6zM1488.6 654.6H1516.2V659.1H1488.6zM1488.6 731.9H1516.2V736.5H1488.6zM1516.2 286.2H1543.8V295.3H1516.2zM1516.2 304.4H1543.8V309.0H1516.2zM1543.8 340.8H1571.4V345.4H1543.8zM1543.8 563.6H1571.4V568.2H1543.8zM1571.4 390.8H1599.1V395.4H1571.4zM1654.3 440.9H1681.9V445.4H1654.3zM1654.3 459.0H1681.9V463.6H1654.3zM1681.9 645.5H1709.5V650.1H1681.9zM1709.5 445.4H1737.1V450.0H1709.5zM1709.5 477.2H1737.1V481.8H1709.5zM1737.1 295.3H1764.8V299.9H1737.1zM1737.1 413.6H1764.8V418.1H1737.1zM1737.1 468.1H1764.8V472.7H1737.1zM1737.1 572.7H1764.8V577.3H1737.1zM1764.8 349.9H1792.4V359.0H1764.8zM1764.8 540.9H1792.4V545.5H1764.8zM1764.8 709.2H1792.4V713.7H1764.8z"/><path fill="#f1f4f6" d="M1350.5 581.8H1378.1V586.4H1350.5zM1350.5 695.5H1378.1V700.1H1350.5zM1405.7 540.9H1433.4V545.5H1405.7zM1405.7 631.9H1433.4V636.4H1405.7zM1461.0 313.5H1488.6V318.1H1461.0zM1461.0 372.6H1488.6V377.2H1461.0zM1461.0 413.6H1488.6V418.1H1461.0zM1516.2 531.8H1543.8V536.4H1516.2zM1516.2 572.7H1543.8V577.3H1516.2zM1516.2 704.6H1543.8V709.2H1516.2zM1543.8 249.9H1571.4V254.4H1543.8zM1543.8 322.6H1571.4V327.2H1543.8zM1543.8 413.6H1571.4V418.1H1543.8zM1571.4 472.7H1599.1V477.2H1571.4zM1571.4 513.6H1599.1V518.2H1571.4zM1571.4 527.3H1599.1V531.8H1571.4zM1571.4 545.5H1599.1V550.0H1571.4zM1571.4 709.2H1599.1V713.7H1571.4zM1571.4 718.3H1599.1V722.8H1571.4zM1599.1 627.3H1626.7V631.9H1599.1zM1599.1 745.6H1626.7V750.1H1599.1zM1626.7 309.0H1654.3V313.5H1626.7zM1626.7 581.8H1654.3V586.4H1626.7zM1626.7 622.8H1654.3V627.3H1626.7zM1626.7 695.5H1654.3V704.6H1626.7zM1626.7 709.2H1654.3V713.7H1626.7zM1654.3 249.9H1681.9V254.4H1654.3zM1654.3 590.9H1681.9V595.5H1654.3zM1654.3 641.0H1681.9V645.5H1654.3zM1654.3 695.5H1681.9V700.1H1654.3zM1654.3 718.3H1681.9V722.8H1654.3zM1654.3 727.4H1681.9V731.9H1654.3zM1709.5 299.9H1737.1V304.4H1709.5zM1737.1 386.3H1764.8V395.4H1737.1zM1737.1 691.0H1764.8V695.5H1737.1zM1737.1 722.8H1764.8V727.4H1737.1zM1737.1 731.9H1764.8V736.5H1737.1zM1764.8 481.8H1792.4V486.3H1764.8zM1764.8 641.0H1792.4V650.1H1764.8zM1792.4 486.3H1820.0V490.9H1792.4zM1792.4 495.4H1820.0V500.0H1792.4zM1792.4 531.8H1820.0V536.4H1792.4zM1792.4 559.1H1820.0V563.6H1792.4zM1792.4 645.5H1820.0V650.1H1792.4zM1792.4 727.4H1820.0V736.5H1792.4z"/><path fill="#70b0d2" d="M1378.1 550.0H1405.7V554.6H1378.1zM1405.7 709.2H1433.4V713.7H1405.7zM1433.4 277.1H1461.0V281.7H1433.4zM1433.4 481.8H1461.0V486.3H1433.4zM1433.4 572.7H1461.0V577.3H1433.4zM1461.0 677.3H1488.6V681.9H1461.0zM1461.0 700.1H1488.6V704.6H1461.0zM1488.6 618.2H1516.2V622.8H1488.6zM1488.6 741.0H1516.2V745.6H1488.6zM1516.2 754.7H1543.8V759.2H1516.2zM1543.8 531.8H1571.4V536.4H1543.8zM1543.8 568.2H1571.4V572.7H1543.8zM1571.4 590.9H1599.1V595.5H1571.4zM1599.1 272.6H1626.7V277.1H1599.1zM1599.1 422.7H1626.7V427.2H1599.1zM1654.3 454.5H1681.9V459.0H1654.3zM1681.9 422.7H1709.5V427.2H1681.9zM1709.5 413.6H1737.1V418.1H1709.5zM1709.5 559.1H1737.1V563.6H1709.5zM1737.1 577.3H1764.8V581.8H1737.1zM1764.8 622.8H1792.4V627.3H1764.8z"/><path fill="#2166ac" d="M1378.1 627.3H1405.7V636.4H1378.1z"/><path fill="#3b88be" d="M1378.1 672.8H1405.7V677.3H1378.1zM1461.0 395.4H1488.6V399.9H1461.0zM1488.6 481.8H1516.2V486.3H1488.6zM1599.1 263.5H1626.7V268.0H1599.1z"/><path fill="#286fb1" d="M1764.8 413.6H1792.4V418.1H1764.8z"/></g><rect x="881.0" y="124.8" width="469.50" height="18.5" fill="#e41a1c"/><rect x="1350.50" y="124.8" width="469.50" height="18.5" fill="#377eb8"/><text x="1826.5" y="141.1" font-size="16" font-weight="bold" fill="#000">Group</text><text transform="translate(888.8 766.3) rotate(90)" font-size="19.2" fill="#111">DS03</text><text transform="translate(916.4 766.3) rotate(90)" font-size="19.2" fill="#111">DS16</text><text transform="translate(944.0 766.3) rotate(90)" font-size="19.2" fill="#111">DS04</text><text transform="translate(971.7 766.3) rotate(90)" font-size="19.2" fill="#111">DS17</text><text transform="translate(999.3 766.3) rotate(90)" font-size="19.2" fill="#111">DS14</text><text transform="translate(1026.9 766.3) rotate(90)" font-size="19.2" fill="#111">DS01</text><text transform="translate(1054.5 766.3) rotate(90)" font-size="19.2" fill="#111">DS07</text><text transform="translate(1082.1 766.3) rotate(90)" font-size="19.2" fill="#111">DS08</text><text transform="translate(1109.8 766.3) rotate(90)" font-size="19.2" fill="#111">DS05</text><text transform="translate(1137.4 766.3) rotate(90)" font-size="19.2" fill="#111">DS06</text><text transform="translate(1165.0 766.3) rotate(90)" font-size="19.2" fill="#111">DS09</text><text transform="translate(1192.6 766.3) rotate(90)" font-size="19.2" fill="#111">DS15</text><text transform="translate(1220.2 766.3) rotate(90)" font-size="19.2" fill="#111">DS02</text><text transform="translate(1247.8 766.3) rotate(90)" font-size="19.2" fill="#111">DS13</text><text transform="translate(1275.5 766.3) rotate(90)" font-size="19.2" fill="#111">DS12</text><text transform="translate(1303.1 766.3) rotate(90)" font-size="19.2" fill="#111">DS10</text><text transform="translate(1330.7 766.3) rotate(90)" font-size="19.2" fill="#111">DS11</text><text transform="translate(1358.3 766.3) rotate(90)" font-size="19.2" fill="#111">TD01</text><text transform="translate(1385.9 766.3) rotate(90)" font-size="19.2" fill="#111">TD17</text><text transform="translate(1413.5 766.3) rotate(90)" font-size="19.2" fill="#111">TD11</text><text transform="translate(1441.2 766.3) rotate(90)" font-size="19.2" fill="#111">TD13</text><text transform="translate(1468.8 766.3) rotate(90)" font-size="19.2" fill="#111">TD10</text><text transform="translate(1496.4 766.3) rotate(90)" font-size="19.2" fill="#111">TD12</text><text transform="translate(1524.0 766.3) rotate(90)" font-size="19.2" fill="#111">TD03</text><text transform="translate(1551.6 766.3) rotate(90)" font-size="19.2" fill="#111">TD09</text><text transform="translate(1579.2 766.3) rotate(90)" font-size="19.2" fill="#111">TD02</text><text transform="translate(1606.9 766.3) rotate(90)" font-size="19.2" fill="#111">TD04</text><text transform="translate(1634.5 766.3) rotate(90)" font-size="19.2" fill="#111">TD07</text><text transform="translate(1662.1 766.3) rotate(90)" font-size="19.2" fill="#111">TD05</text><text transform="translate(1689.7 766.3) rotate(90)" font-size="19.2" fill="#111">TD06</text><text transform="translate(1717.3 766.3) rotate(90)" font-size="19.2" fill="#111">TD14</text><text transform="translate(1745.0 766.3) rotate(90)" font-size="19.2" fill="#111">TD16</text><text transform="translate(1772.6 766.3) rotate(90)" font-size="19.2" fill="#111">TD08</text><text transform="translate(1800.2 766.3) rotate(90)" font-size="19.2" fill="#111">TD15</text><defs><linearGradient id="cb" x1="0" y1="0" x2="0" y2="1"><stop offset="0.000" stop-color="#b2182b"/><stop offset="0.125" stop-color="#d6604d"/><stop offset="0.250" stop-color="#f4a582"/><stop offset="0.375" stop-color="#fddbc7"/><stop offset="0.500" stop-color="#f7f7f7"/><stop offset="0.625" stop-color="#d1e5f0"/><stop offset="0.750" stop-color="#92c5de"/><stop offset="0.875" stop-color="#4393c3"/><stop offset="1.000" stop-color="#2166ac"/></linearGradient></defs><rect x="1829.6" y="150.2" width="15.7" height="285.1" fill="url(#cb)"/><text x="1859.4" y="211.4" font-size="18" fill="#111">2</text><text x="1859.4" y="258.9" font-size="18" fill="#111">1</text><text x="1859.4" y="305" font-size="18" fill="#111">0</text><text x="1851.5" y="358.4" font-size="18" fill="#111">−1</text><text x="1851.5" y="404.8" font-size="18" fill="#111">−2</text><text x="1878.8" y="163.2" font-size="16.2" font-weight="bold" fill="#000">Group</text><rect x="1878.8" y="173.2" width="25.6" height="29.9" fill="#e41a1c"/><rect x="1878.8" y="203.1" width="25.6" height="30.1" fill="#377eb8"/><text x="1910.3" y="194.3" font-size="17.2" fill="#111">DS</text><text x="1910.3" y="224.8" font-size="17.2" fill="#111">TD</text><g fill="none" stroke="#5a5a5a" stroke-width="1.8" stroke-linejoin="round"><path d="M894.8 123.1V115.5H922.4V123.1M950.0 123.1V115.8H977.7V123.1M1032.9 123.1V117.5H1060.5V123.1M1005.3 123.1V115.5H1046.7V117.5M963.9 115.8V112.5H1026.0V115.5M908.6 115.5V110.0H994.9V112.5M1115.8 123.1V112.4H1143.4V123.1M1088.1 123.1V111.0H1129.6V112.4M1226.2 123.1V119.4H1253.8V123.1M1198.6 123.1V115.7H1240.0V119.4M1171.0 123.1V113.0H1219.3V115.7M1309.1 123.1V113.0H1336.7V123.1M1281.5 123.1V110.4H1322.9V113.0M1195.2 113.0V108.4H1302.2V110.4M1108.8 111.0V107.0H1248.7V108.4M951.8 110.0V106.0H1178.8V107.0M1364.3 123.1V114.5H1391.9V123.1M1474.8 123.1V114.5H1502.4V123.1M1447.2 123.1V113.6H1488.6V114.5M1419.5 123.1V112.3H1467.9V113.6M1378.1 114.5V111.4H1443.7V112.3M1530.0 123.1V114.5H1557.6V123.1M1585.2 123.1V114.9H1612.9V123.1M1543.8 114.5V113.0H1599.1V114.9M1668.1 123.1V114.9H1695.7V123.1M1640.5 123.1V112.0H1681.9V114.9M1723.3 123.1V113.0H1751.0V123.1M1778.6 123.1V113.0H1806.2V123.1M1737.1 113.0V111.5H1792.4V113.0M1661.2 112.0V111.0H1764.8V111.5M1571.4 113.0V107.6H1713.0V111.0M1410.9 111.4V103.3H1642.2V107.6M1065.3 106.0V23.4H1526.6V103.3"/><path d="M880.0 161.2H877.8V165.7H880.0M880.0 156.6H877.6V163.4H877.9M880.0 152.1H876.3V160.0H877.6M880.0 170.3H877.9V174.8H880.0M877.9 172.5H877.4V179.4H880.0M880.0 183.9H878.5V188.5H880.0M880.0 193.0H877.5V197.6H880.0M880.0 206.6H877.6V211.2H880.0M880.0 202.1H877.2V208.9H877.6M880.0 215.7H877.6V220.3H880.0M877.2 205.5H876.5V218.0H877.6M880.0 229.4H877.8V233.9H880.0M880.0 224.8H877.1V231.7H877.8M876.5 211.8H875.6V228.2H877.1M880.0 238.5H878.4V243.0H880.0M878.4 240.8H877.4V247.6H880.0M875.6 220.0H874.4V244.2H877.4M877.5 195.3H873.3V232.1H874.4M878.5 186.2H872.4V213.7H873.3M877.4 175.9H872.6V199.9H872.9M876.3 156.1H872.0V187.9H872.6M880.0 256.7H877.8V261.2H880.0M880.0 252.1H877.3V258.9H877.8M880.0 270.3H878.2V274.9H880.0M880.0 265.8H877.7V272.6H878.2M877.3 255.5H875.6V269.2H877.7M880.0 279.4H877.8V284.0H880.0M880.0 288.5H878.0V293.1H880.0M877.8 281.7H876.3V290.8H878.0M880.0 297.6H878.6V302.2H880.0M876.3 286.2H875.3V299.9H878.6M880.0 315.8H878.6V320.3H880.0M878.6 318.1H877.1V324.9H880.0M880.0 311.2H876.5V321.5H877.1M880.0 306.7H876.0V316.4H876.5M875.3 293.1H873.9V311.5H876.0M880.0 329.4H877.9V334.0H880.0M877.9 331.7H877.6V338.5H880.0M880.0 343.1H878.3V347.6H880.0M880.0 356.7H878.4V361.3H880.0M880.0 352.2H877.0V359.0H878.4M878.3 345.4H876.1V355.6H877.0M877.6 335.1H874.4V350.5H876.1M873.9 302.3H871.4V342.8H874.4M875.6 262.4H864.5V322.5H871.4M880.0 365.8H877.5V370.4H880.0M878.0 368.1H877.7V374.9H880.0M880.0 379.5H877.7V384.0H880.0M877.7 371.5H876.8V381.7H877.7M880.0 393.1H878.0V397.7H880.0M880.0 388.6H877.1V395.4H878.0M880.0 402.2H878.1V406.7H880.0M877.1 392.0H876.0V404.5H878.1M880.0 415.8H877.6V420.4H880.0M880.0 411.3H876.7V418.1H877.6M877.6 414.7H877.3V424.9H880.0M876.0 398.2H875.1V419.8H877.3M876.8 376.6H873.7V409.0H875.1M880.0 429.5H877.8V434.0H880.0M877.8 431.8H877.0V438.6H880.0M873.7 392.8H871.9V435.2H877.0M880.0 443.1H877.8V447.7H880.0M880.0 452.2H877.8V456.8H880.0M877.8 445.4H877.3V454.5H877.8M880.0 465.9H878.1V470.4H880.0M880.0 461.3H877.5V468.1H878.1M880.0 475.0H877.6V479.5H880.0M877.8 477.2H877.5V484.1H880.0M880.0 488.6H877.6V493.2H880.0M877.5 480.6H875.9V490.9H877.6M877.5 464.7H874.4V485.8H875.9M880.0 497.7H878.0V502.3H880.0M878.0 500.0H876.9V506.8H880.0M877.1 503.4H876.8V511.3H880.0M874.4 475.2H873.4V507.4H876.8M877.3 450.0H873.0V491.3H873.4M880.0 520.4H878.1V525.0H880.0M880.0 515.9H877.8V522.7H878.1M880.0 538.6H878.0V543.2H880.0M880.0 534.1H877.4V540.9H878.0M877.4 537.5H876.4V547.7H880.0M880.0 529.5H876.6V542.6H876.9M880.0 552.3H877.6V556.8H880.0M877.6 554.6H877.2V561.4H880.0M876.6 536.1H874.8V558.0H877.2M877.8 519.3H873.7V547.0H874.8M880.0 570.5H878.1V575.0H880.0M878.1 572.7H876.8V579.6H880.0M880.0 565.9H876.7V576.2H877.0M880.0 593.2H877.5V597.8H880.0M880.0 588.7H877.5V595.5H877.8M880.0 584.1H877.0V592.1H877.5M876.7 571.0H875.3V588.1H877.0M873.7 533.2H872.3V579.6H875.3M873.0 470.6H869.5V556.4H872.3M871.9 414.0H866.6V513.5H869.5M880.0 606.9H877.9V611.4H880.0M880.0 602.3H877.3V609.1H877.9M877.3 605.7H876.7V615.9H880.0M876.7 610.8H876.4V620.5H880.0M880.0 629.6H878.4V634.1H880.0M880.0 625.0H877.1V631.9H878.4M876.4 615.7H874.8V628.5H877.1M880.0 638.7H877.5V643.2H880.0M880.0 652.3H878.1V656.9H880.0M880.0 647.8H876.7V654.6H878.1M877.5 641.0H875.9V651.2H876.7M880.0 666.0H877.6V670.5H880.0M880.0 661.4H877.0V668.2H877.6M877.0 664.8H876.4V675.1H880.0M875.9 646.1H874.7V670.0H876.4M880.0 679.6H878.6V684.2H880.0M880.0 688.7H878.5V693.3H880.0M880.0 697.8H878.6V702.4H880.0M878.5 691.0H876.7V700.1H878.6M880.0 711.4H878.2V716.0H880.0M878.2 713.7H877.8V720.5H880.0M880.0 706.9H876.8V717.1H877.8M876.7 695.5H874.8V712.0H876.8M878.6 681.9H874.8V703.8H875.1M874.7 658.0H871.6V692.8H874.8M874.8 622.1H869.9V675.4H871.6M880.0 725.1H877.6V729.6H880.0M878.1 727.4H877.8V734.2H880.0M880.0 738.7H877.7V743.3H880.0M877.7 741.0H876.8V747.8H880.0M877.8 730.8H875.3V744.4H876.8M880.0 752.4H878.5V756.9H880.0M875.6 737.6H875.3V754.7H878.5M869.9 648.7H869.3V746.1H875.3M866.6 463.7H863.0V697.4H869.3M864.5 292.5H860V580.6H863.0M872.0 172.0H795V436.5H860" stroke-width="1.4"/></g></svg></body></html>
